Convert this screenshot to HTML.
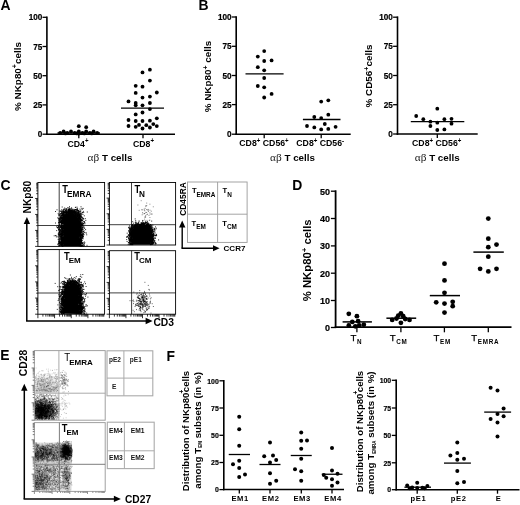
<!DOCTYPE html>
<html><head><meta charset="utf-8"><title>Figure</title>
<style>
html,body{margin:0;padding:0;background:#fff;}
body{width:520px;height:505px;overflow:hidden;}
svg{display:block;font-family:"Liberation Sans", Arial, sans-serif;filter:blur(0.35px);}
</style></head><body>
<svg width="520" height="505" viewBox="0 0 520 505">
<rect width="520" height="505" fill="#fff"/>

<text x="0.50" y="10.40" font-size="13.9" text-anchor="start" font-weight="bold" fill="#000" >A</text>
<text x="198.50" y="10.30" font-size="13.9" text-anchor="start" font-weight="bold" fill="#000" >B</text>
<text x="0.50" y="189.90" font-size="13.9" text-anchor="start" font-weight="bold" fill="#000" >C</text>
<text x="292.20" y="189.70" font-size="13.9" text-anchor="start" font-weight="bold" fill="#000" >D</text>
<text x="0.30" y="360.30" font-size="13.9" text-anchor="start" font-weight="bold" fill="#000" >E</text>
<text x="166.60" y="360.90" font-size="13.9" text-anchor="start" font-weight="bold" fill="#000" >F</text>
<line x1="46.90" y1="16.50" x2="46.90" y2="135.00" stroke="#000" stroke-width="1.6" stroke-linecap="butt"/>
<line x1="42.50" y1="17.30" x2="46.90" y2="17.30" stroke="#000" stroke-width="1.3" stroke-linecap="butt"/>
<text transform="translate(42.30,20.47) scale(0.93,1)" font-size="8.8" text-anchor="end" font-weight="bold" fill="#000" stroke="#000" stroke-width="0.2">100</text>
<line x1="42.50" y1="46.50" x2="46.90" y2="46.50" stroke="#000" stroke-width="1.3" stroke-linecap="butt"/>
<text transform="translate(42.30,49.67) scale(0.93,1)" font-size="8.8" text-anchor="end" font-weight="bold" fill="#000" stroke="#000" stroke-width="0.2">75</text>
<line x1="42.50" y1="75.70" x2="46.90" y2="75.70" stroke="#000" stroke-width="1.3" stroke-linecap="butt"/>
<text transform="translate(42.30,78.87) scale(0.93,1)" font-size="8.8" text-anchor="end" font-weight="bold" fill="#000" stroke="#000" stroke-width="0.2">50</text>
<line x1="42.50" y1="104.90" x2="46.90" y2="104.90" stroke="#000" stroke-width="1.3" stroke-linecap="butt"/>
<text transform="translate(42.30,108.07) scale(0.93,1)" font-size="8.8" text-anchor="end" font-weight="bold" fill="#000" stroke="#000" stroke-width="0.2">25</text>
<line x1="42.50" y1="134.20" x2="46.90" y2="134.20" stroke="#000" stroke-width="1.3" stroke-linecap="butt"/>
<text transform="translate(42.30,137.37) scale(0.93,1)" font-size="8.8" text-anchor="end" font-weight="bold" fill="#000" stroke="#000" stroke-width="0.2">0</text>
<line x1="46.20" y1="134.20" x2="175.00" y2="134.20" stroke="#000" stroke-width="1.6" stroke-linecap="butt"/>
<line x1="78.80" y1="134.20" x2="78.80" y2="138.20" stroke="#000" stroke-width="1.3" stroke-linecap="butt"/>
<line x1="143.00" y1="134.20" x2="143.00" y2="138.20" stroke="#000" stroke-width="1.3" stroke-linecap="butt"/>
<text transform="translate(78.00,146.60) scale(0.94,1)" font-size="9.3" text-anchor="middle" font-weight="bold" fill="#000" >CD4<tspan dy="-3.2" font-size="6.5">+</tspan></text>
<text transform="translate(143.50,146.60) scale(0.94,1)" font-size="9.3" text-anchor="middle" font-weight="bold" fill="#000" >CD8<tspan dy="-3.2" font-size="6.5">+</tspan></text>
<text x="110.00" y="161.30" font-size="9.8" text-anchor="middle" font-weight="bold"><tspan font-family='"Liberation Serif", "DejaVu Serif", serif' font-weight="normal" font-size="11.3" fill="#222">&#945;&#946;</tspan> T cells</text>
<text transform="translate(20.90,76.50) rotate(-90)" font-size="9.9" text-anchor="middle" font-weight="bold">% NKp80<tspan dy="-3.5" font-size="7">+</tspan><tspan dy="3.5">cells</tspan></text>
<circle cx="149.9" cy="69.7" r="1.9"/>
<circle cx="142.5" cy="72.4" r="1.9"/>
<circle cx="149.9" cy="80.6" r="1.9"/>
<circle cx="135.7" cy="85.8" r="1.9"/>
<circle cx="142.5" cy="86.7" r="1.9"/>
<circle cx="156.8" cy="92.5" r="1.9"/>
<circle cx="135.7" cy="92.9" r="1.9"/>
<circle cx="149.9" cy="96.6" r="1.9"/>
<circle cx="142.5" cy="97.6" r="1.9"/>
<circle cx="128.5" cy="101.4" r="1.9"/>
<circle cx="135.7" cy="103.0" r="1.9"/>
<circle cx="149.9" cy="103.0" r="1.9"/>
<circle cx="135.7" cy="105.3" r="1.9"/>
<circle cx="142.5" cy="105.3" r="1.9"/>
<circle cx="149.9" cy="109.1" r="1.9"/>
<circle cx="142.5" cy="112.5" r="1.9"/>
<circle cx="135.7" cy="114.4" r="1.9"/>
<circle cx="156.8" cy="118.3" r="1.9"/>
<circle cx="128.5" cy="120.0" r="1.9"/>
<circle cx="135.7" cy="121.0" r="1.9"/>
<circle cx="142.5" cy="121.0" r="1.9"/>
<circle cx="149.9" cy="120.7" r="1.9"/>
<circle cx="128.5" cy="126.0" r="1.9"/>
<circle cx="135.7" cy="126.8" r="1.9"/>
<circle cx="139.0" cy="124.9" r="1.9"/>
<circle cx="146.3" cy="125.2" r="1.9"/>
<circle cx="153.3" cy="124.1" r="1.9"/>
<circle cx="156.8" cy="126.1" r="1.9"/>
<circle cx="149.9" cy="127.5" r="1.9"/>
<circle cx="142.5" cy="128.5" r="1.9"/>
<line x1="121.00" y1="108.20" x2="164.00" y2="108.20" stroke="#000" stroke-width="1.3" stroke-linecap="butt"/>
<circle cx="78.8" cy="126.2" r="1.9"/>
<circle cx="86.2" cy="127.2" r="1.9"/>
<circle cx="63.6" cy="131.4" r="1.9"/>
<circle cx="71.0" cy="131.4" r="1.9"/>
<circle cx="78.8" cy="131.4" r="1.9"/>
<circle cx="86.2" cy="131.4" r="1.9"/>
<circle cx="93.6" cy="131.4" r="1.9"/>
<circle cx="60.2" cy="132.8" r="1.9"/>
<circle cx="67.3" cy="132.8" r="1.9"/>
<circle cx="74.7" cy="132.8" r="1.9"/>
<circle cx="82.4" cy="132.8" r="1.9"/>
<circle cx="89.8" cy="132.8" r="1.9"/>
<circle cx="97.2" cy="133.0" r="1.9"/>
<circle cx="65.5" cy="133.4" r="1.9"/>
<circle cx="76.8" cy="133.4" r="1.9"/>
<circle cx="84.3" cy="133.4" r="1.9"/>
<circle cx="91.7" cy="133.4" r="1.9"/>
<circle cx="78.8" cy="133.6" r="1.9"/>
<line x1="57.50" y1="133.00" x2="100.00" y2="133.00" stroke="#000" stroke-width="1.3" stroke-linecap="butt"/>
<line x1="236.20" y1="16.20" x2="236.20" y2="135.00" stroke="#000" stroke-width="1.6" stroke-linecap="butt"/>
<line x1="231.80" y1="17.00" x2="236.20" y2="17.00" stroke="#000" stroke-width="1.3" stroke-linecap="butt"/>
<text transform="translate(231.60,20.17) scale(0.93,1)" font-size="8.8" text-anchor="end" font-weight="bold" fill="#000" stroke="#000" stroke-width="0.2">100</text>
<line x1="231.80" y1="46.30" x2="236.20" y2="46.30" stroke="#000" stroke-width="1.3" stroke-linecap="butt"/>
<text transform="translate(231.60,49.47) scale(0.93,1)" font-size="8.8" text-anchor="end" font-weight="bold" fill="#000" stroke="#000" stroke-width="0.2">75</text>
<line x1="231.80" y1="75.50" x2="236.20" y2="75.50" stroke="#000" stroke-width="1.3" stroke-linecap="butt"/>
<text transform="translate(231.60,78.67) scale(0.93,1)" font-size="8.8" text-anchor="end" font-weight="bold" fill="#000" stroke="#000" stroke-width="0.2">50</text>
<line x1="231.80" y1="104.60" x2="236.20" y2="104.60" stroke="#000" stroke-width="1.3" stroke-linecap="butt"/>
<text transform="translate(231.60,107.77) scale(0.93,1)" font-size="8.8" text-anchor="end" font-weight="bold" fill="#000" stroke="#000" stroke-width="0.2">25</text>
<line x1="231.80" y1="134.20" x2="236.20" y2="134.20" stroke="#000" stroke-width="1.3" stroke-linecap="butt"/>
<text transform="translate(231.60,137.37) scale(0.93,1)" font-size="8.8" text-anchor="end" font-weight="bold" fill="#000" stroke="#000" stroke-width="0.2">0</text>
<line x1="235.40" y1="134.20" x2="350.70" y2="134.20" stroke="#000" stroke-width="1.6" stroke-linecap="butt"/>
<line x1="264.20" y1="134.20" x2="264.20" y2="138.20" stroke="#000" stroke-width="1.3" stroke-linecap="butt"/>
<line x1="321.20" y1="134.20" x2="321.20" y2="138.20" stroke="#000" stroke-width="1.3" stroke-linecap="butt"/>
<text transform="translate(264.00,145.90) scale(0.94,1)" font-size="9.3" text-anchor="middle" font-weight="bold" fill="#000" >CD8<tspan dy="-3.2" font-size="6.5">+</tspan><tspan dy="3.2"> CD56</tspan><tspan dy="-3.2" font-size="6.5">+</tspan></text>
<text transform="translate(320.20,145.90) scale(0.94,1)" font-size="9.3" text-anchor="middle" font-weight="bold" fill="#000" >CD8<tspan dy="-3.2" font-size="6.5">+</tspan><tspan dy="3.2"> CD56</tspan><tspan dy="-3.2" font-size="6.5">-</tspan></text>
<text x="292.50" y="161.20" font-size="9.8" text-anchor="middle" font-weight="bold"><tspan font-family='"Liberation Serif", "DejaVu Serif", serif' font-weight="normal" font-size="11.3" fill="#222">&#945;&#946;</tspan> T cells</text>
<text transform="translate(211.00,76.50) rotate(-90)" font-size="9.9" text-anchor="middle" font-weight="bold">% NKp80<tspan dy="-3.5" font-size="7">+</tspan><tspan dy="3.5"> cells</tspan></text>
<circle cx="264.2" cy="51.1" r="1.9"/>
<circle cx="257.8" cy="56.6" r="1.9"/>
<circle cx="264.2" cy="61.0" r="1.9"/>
<circle cx="271.6" cy="60.4" r="1.9"/>
<circle cx="257.8" cy="67.2" r="1.9"/>
<circle cx="264.2" cy="70.3" r="1.9"/>
<circle cx="264.2" cy="78.0" r="1.9"/>
<circle cx="257.8" cy="86.0" r="1.9"/>
<circle cx="264.2" cy="87.3" r="1.9"/>
<circle cx="271.6" cy="93.9" r="1.9"/>
<circle cx="264.2" cy="97.5" r="1.9"/>
<line x1="245.50" y1="73.90" x2="283.60" y2="73.90" stroke="#000" stroke-width="1.3" stroke-linecap="butt"/>
<circle cx="321.2" cy="101.6" r="1.9"/>
<circle cx="328.3" cy="100.3" r="1.9"/>
<circle cx="328.3" cy="114.7" r="1.9"/>
<circle cx="314.3" cy="117.0" r="1.9"/>
<circle cx="321.2" cy="118.1" r="1.9"/>
<circle cx="324.8" cy="124.0" r="1.9"/>
<circle cx="307.0" cy="126.0" r="1.9"/>
<circle cx="314.3" cy="127.4" r="1.9"/>
<circle cx="321.2" cy="129.4" r="1.9"/>
<circle cx="328.3" cy="128.9" r="1.9"/>
<circle cx="335.6" cy="126.8" r="1.9"/>
<line x1="302.90" y1="119.50" x2="340.50" y2="119.50" stroke="#000" stroke-width="1.3" stroke-linecap="butt"/>
<line x1="397.50" y1="16.40" x2="397.50" y2="134.80" stroke="#000" stroke-width="1.6" stroke-linecap="butt"/>
<line x1="393.10" y1="17.20" x2="397.50" y2="17.20" stroke="#000" stroke-width="1.3" stroke-linecap="butt"/>
<text transform="translate(392.90,20.37) scale(0.93,1)" font-size="8.8" text-anchor="end" font-weight="bold" fill="#000" stroke="#000" stroke-width="0.2">100</text>
<line x1="393.10" y1="46.30" x2="397.50" y2="46.30" stroke="#000" stroke-width="1.3" stroke-linecap="butt"/>
<text transform="translate(392.90,49.47) scale(0.93,1)" font-size="8.8" text-anchor="end" font-weight="bold" fill="#000" stroke="#000" stroke-width="0.2">75</text>
<line x1="393.10" y1="75.50" x2="397.50" y2="75.50" stroke="#000" stroke-width="1.3" stroke-linecap="butt"/>
<text transform="translate(392.90,78.67) scale(0.93,1)" font-size="8.8" text-anchor="end" font-weight="bold" fill="#000" stroke="#000" stroke-width="0.2">50</text>
<line x1="393.10" y1="104.70" x2="397.50" y2="104.70" stroke="#000" stroke-width="1.3" stroke-linecap="butt"/>
<text transform="translate(392.90,107.87) scale(0.93,1)" font-size="8.8" text-anchor="end" font-weight="bold" fill="#000" stroke="#000" stroke-width="0.2">25</text>
<line x1="393.10" y1="134.00" x2="397.50" y2="134.00" stroke="#000" stroke-width="1.3" stroke-linecap="butt"/>
<text transform="translate(392.90,137.17) scale(0.93,1)" font-size="8.8" text-anchor="end" font-weight="bold" fill="#000" stroke="#000" stroke-width="0.2">0</text>
<line x1="396.70" y1="134.00" x2="477.70" y2="134.00" stroke="#000" stroke-width="1.6" stroke-linecap="butt"/>
<line x1="437.30" y1="134.00" x2="437.30" y2="138.00" stroke="#000" stroke-width="1.3" stroke-linecap="butt"/>
<text transform="translate(436.70,145.90) scale(0.94,1)" font-size="9.3" text-anchor="middle" font-weight="bold" fill="#000" >CD8<tspan dy="-3.2" font-size="6.5">+</tspan><tspan dy="3.2"> CD56</tspan><tspan dy="-3.2" font-size="6.5">+</tspan></text>
<text x="437.20" y="161.20" font-size="9.8" text-anchor="middle" font-weight="bold"><tspan font-family='"Liberation Serif", "DejaVu Serif", serif' font-weight="normal" font-size="11.3" fill="#222">&#945;&#946;</tspan> T cells</text>
<text transform="translate(372.00,76.00) rotate(-90)" font-size="9.9" text-anchor="middle" font-weight="bold">% CD56<tspan dy="-3.5" font-size="7">+</tspan><tspan dy="3.5">cells</tspan></text>
<circle cx="437.3" cy="108.7" r="1.9"/>
<circle cx="416.2" cy="116.0" r="1.9"/>
<circle cx="423.3" cy="119.2" r="1.9"/>
<circle cx="444.4" cy="119.2" r="1.9"/>
<circle cx="451.5" cy="118.8" r="1.9"/>
<circle cx="430.4" cy="121.7" r="1.9"/>
<circle cx="437.3" cy="122.7" r="1.9"/>
<circle cx="451.5" cy="123.7" r="1.9"/>
<circle cx="430.4" cy="126.0" r="1.9"/>
<circle cx="437.3" cy="130.0" r="1.9"/>
<circle cx="444.4" cy="129.4" r="1.9"/>
<line x1="410.80" y1="121.60" x2="464.30" y2="121.60" stroke="#000" stroke-width="1.3" stroke-linecap="butt"/>
<line x1="335.60" y1="190.30" x2="335.60" y2="328.10" stroke="#000" stroke-width="1.8" stroke-linecap="butt"/>
<line x1="330.90" y1="191.20" x2="335.60" y2="191.20" stroke="#000" stroke-width="1.3" stroke-linecap="butt"/>
<text transform="translate(330.00,194.62) scale(0.95,1)" font-size="9.5" text-anchor="end" font-weight="bold" fill="#000" stroke="#000" stroke-width="0.2">50</text>
<line x1="330.90" y1="218.50" x2="335.60" y2="218.50" stroke="#000" stroke-width="1.3" stroke-linecap="butt"/>
<text transform="translate(330.00,221.92) scale(0.95,1)" font-size="9.5" text-anchor="end" font-weight="bold" fill="#000" stroke="#000" stroke-width="0.2">40</text>
<line x1="330.90" y1="245.90" x2="335.60" y2="245.90" stroke="#000" stroke-width="1.3" stroke-linecap="butt"/>
<text transform="translate(330.00,249.32) scale(0.95,1)" font-size="9.5" text-anchor="end" font-weight="bold" fill="#000" stroke="#000" stroke-width="0.2">30</text>
<line x1="330.90" y1="273.20" x2="335.60" y2="273.20" stroke="#000" stroke-width="1.3" stroke-linecap="butt"/>
<text transform="translate(330.00,276.62) scale(0.95,1)" font-size="9.5" text-anchor="end" font-weight="bold" fill="#000" stroke="#000" stroke-width="0.2">20</text>
<line x1="330.90" y1="300.50" x2="335.60" y2="300.50" stroke="#000" stroke-width="1.3" stroke-linecap="butt"/>
<text transform="translate(330.00,303.92) scale(0.95,1)" font-size="9.5" text-anchor="end" font-weight="bold" fill="#000" stroke="#000" stroke-width="0.2">10</text>
<line x1="330.90" y1="327.50" x2="335.60" y2="327.50" stroke="#000" stroke-width="1.3" stroke-linecap="butt"/>
<text transform="translate(330.00,330.92) scale(0.95,1)" font-size="9.5" text-anchor="end" font-weight="bold" fill="#000" stroke="#000" stroke-width="0.2">0</text>
<line x1="334.70" y1="327.20" x2="511.50" y2="327.20" stroke="#000" stroke-width="1.8" stroke-linecap="butt"/>
<line x1="356.90" y1="327.20" x2="356.90" y2="332.30" stroke="#000" stroke-width="1.3" stroke-linecap="butt"/>
<line x1="400.90" y1="327.20" x2="400.90" y2="332.30" stroke="#000" stroke-width="1.3" stroke-linecap="butt"/>
<line x1="444.40" y1="327.20" x2="444.40" y2="332.30" stroke="#000" stroke-width="1.3" stroke-linecap="butt"/>
<line x1="488.30" y1="327.20" x2="488.30" y2="332.30" stroke="#000" stroke-width="1.3" stroke-linecap="butt"/>
<text transform="translate(311.00,260.30) rotate(-90)" font-size="11.3" text-anchor="middle" font-weight="bold">% NKp80<tspan dy="-4" font-size="8">+</tspan><tspan dy="4"> cells</tspan></text>
<text x="350.60" y="341.30" font-size="9.7" text-anchor="start" font-weight="normal" stroke="#000" stroke-width="0.25">T<tspan dy="2.3" dx="0.6" font-size="6.3" font-weight="bold" stroke="none" letter-spacing="0.75">N</tspan></text>
<text x="389.80" y="341.30" font-size="9.7" text-anchor="start" font-weight="normal" stroke="#000" stroke-width="0.25">T<tspan dy="2.3" dx="0.6" font-size="6.3" font-weight="bold" stroke="none" letter-spacing="0.75">CM</tspan></text>
<text x="433.60" y="341.30" font-size="9.7" text-anchor="start" font-weight="normal" stroke="#000" stroke-width="0.25">T<tspan dy="2.3" dx="0.6" font-size="6.3" font-weight="bold" stroke="none" letter-spacing="0.75">EM</tspan></text>
<text x="471.30" y="341.30" font-size="9.7" text-anchor="start" font-weight="normal" stroke="#000" stroke-width="0.25">T<tspan dy="2.3" dx="0.6" font-size="6.3" font-weight="bold" stroke="none" letter-spacing="0.75">EMRA</tspan></text>
<circle cx="348.8" cy="313.8" r="2.4"/>
<circle cx="356.9" cy="316.2" r="2.4"/>
<circle cx="358.1" cy="321.2" r="2.4"/>
<circle cx="352.3" cy="321.9" r="2.4"/>
<circle cx="348.8" cy="325.4" r="2.4"/>
<circle cx="359.2" cy="325.4" r="2.4"/>
<circle cx="363.8" cy="324.7" r="2.4"/>
<circle cx="355.3" cy="326.3" r="2.4"/>
<line x1="342.60" y1="321.90" x2="371.90" y2="321.90" stroke="#000" stroke-width="1.5" stroke-linecap="butt"/>
<circle cx="400.9" cy="313.3" r="2.4"/>
<circle cx="398.3" cy="315.6" r="2.4"/>
<circle cx="403.2" cy="316.2" r="2.4"/>
<circle cx="392.2" cy="319.9" r="2.4"/>
<circle cx="396.5" cy="318.5" r="2.4"/>
<circle cx="405.2" cy="319.0" r="2.4"/>
<circle cx="409.5" cy="319.9" r="2.4"/>
<circle cx="400.9" cy="322.8" r="2.4"/>
<line x1="386.40" y1="318.20" x2="416.20" y2="318.20" stroke="#000" stroke-width="1.5" stroke-linecap="butt"/>
<circle cx="444.5" cy="263.7" r="2.4"/>
<circle cx="444.5" cy="280.4" r="2.4"/>
<circle cx="444.5" cy="292.8" r="2.4"/>
<circle cx="436.2" cy="302.3" r="2.4"/>
<circle cx="444.5" cy="303.6" r="2.4"/>
<circle cx="452.7" cy="301.8" r="2.4"/>
<circle cx="452.7" cy="306.2" r="2.4"/>
<circle cx="444.5" cy="312.6" r="2.4"/>
<line x1="429.80" y1="295.60" x2="460.00" y2="295.60" stroke="#000" stroke-width="1.5" stroke-linecap="butt"/>
<circle cx="488.3" cy="218.6" r="2.4"/>
<circle cx="488.3" cy="238.7" r="2.4"/>
<circle cx="496.5" cy="244.6" r="2.4"/>
<circle cx="488.3" cy="247.2" r="2.4"/>
<circle cx="488.3" cy="256.7" r="2.4"/>
<circle cx="480.1" cy="268.8" r="2.4"/>
<circle cx="496.5" cy="268.8" r="2.4"/>
<circle cx="488.3" cy="271.4" r="2.4"/>
<line x1="473.40" y1="252.10" x2="503.80" y2="252.10" stroke="#000" stroke-width="1.5" stroke-linecap="butt"/>
<line x1="223.80" y1="380.00" x2="223.80" y2="490.30" stroke="#000" stroke-width="1.6" stroke-linecap="butt"/>
<line x1="219.40" y1="380.80" x2="223.80" y2="380.80" stroke="#000" stroke-width="1.3" stroke-linecap="butt"/>
<text transform="translate(218.80,383.57) scale(0.9,1)" font-size="7.7" text-anchor="end" font-weight="bold" fill="#000" stroke="#000" stroke-width="0.2">100</text>
<line x1="219.40" y1="408.00" x2="223.80" y2="408.00" stroke="#000" stroke-width="1.3" stroke-linecap="butt"/>
<text transform="translate(218.80,410.77) scale(0.9,1)" font-size="7.7" text-anchor="end" font-weight="bold" fill="#000" stroke="#000" stroke-width="0.2">75</text>
<line x1="219.40" y1="435.30" x2="223.80" y2="435.30" stroke="#000" stroke-width="1.3" stroke-linecap="butt"/>
<text transform="translate(218.80,438.07) scale(0.9,1)" font-size="7.7" text-anchor="end" font-weight="bold" fill="#000" stroke="#000" stroke-width="0.2">50</text>
<line x1="219.40" y1="462.50" x2="223.80" y2="462.50" stroke="#000" stroke-width="1.3" stroke-linecap="butt"/>
<text transform="translate(218.80,465.27) scale(0.9,1)" font-size="7.7" text-anchor="end" font-weight="bold" fill="#000" stroke="#000" stroke-width="0.2">25</text>
<line x1="219.40" y1="489.60" x2="223.80" y2="489.60" stroke="#000" stroke-width="1.3" stroke-linecap="butt"/>
<text transform="translate(218.80,492.37) scale(0.9,1)" font-size="7.7" text-anchor="end" font-weight="bold" fill="#000" stroke="#000" stroke-width="0.2">0</text>
<line x1="223.00" y1="489.50" x2="344.00" y2="489.50" stroke="#000" stroke-width="1.6" stroke-linecap="butt"/>
<line x1="239.30" y1="489.50" x2="239.30" y2="493.50" stroke="#000" stroke-width="1.3" stroke-linecap="butt"/>
<line x1="270.00" y1="489.50" x2="270.00" y2="493.50" stroke="#000" stroke-width="1.3" stroke-linecap="butt"/>
<line x1="301.30" y1="489.50" x2="301.30" y2="493.50" stroke="#000" stroke-width="1.3" stroke-linecap="butt"/>
<line x1="332.00" y1="489.50" x2="332.00" y2="493.50" stroke="#000" stroke-width="1.3" stroke-linecap="butt"/>
<text x="240.20" y="500.80" font-size="7.6" text-anchor="middle" font-weight="bold" fill="#000" letter-spacing="0.65">EM1</text>
<text x="270.90" y="500.80" font-size="7.6" text-anchor="middle" font-weight="bold" fill="#000" letter-spacing="0.65">EM2</text>
<text x="302.20" y="500.80" font-size="7.6" text-anchor="middle" font-weight="bold" fill="#000" letter-spacing="0.65">EM3</text>
<text x="333.10" y="500.80" font-size="7.6" text-anchor="middle" font-weight="bold" fill="#000" letter-spacing="0.65">EM4</text>
<text transform="translate(189.20,431.00) rotate(-90)" font-size="9.6" text-anchor="middle" font-weight="bold">Distribution of NKp80<tspan dy="-5.2" dx="-0.8" font-size="6.5">+</tspan><tspan dy="5.2" dx="-2.6">cells</tspan></text>
<text transform="translate(200.50,430.30) rotate(-90)" font-size="9.8" text-anchor="middle" font-weight="bold">among T<tspan dy="1.2" font-size="4.5">EM</tspan><tspan dy="-1.2"> subsets (in %)</tspan></text>
<circle cx="239.2" cy="416.8" r="2.0"/>
<circle cx="239.2" cy="429.2" r="2.0"/>
<circle cx="239.2" cy="445.8" r="2.0"/>
<circle cx="233.0" cy="464.2" r="2.0"/>
<circle cx="239.2" cy="460.8" r="2.0"/>
<circle cx="239.2" cy="468.0" r="2.0"/>
<circle cx="245.0" cy="474.5" r="2.0"/>
<circle cx="239.2" cy="477.0" r="2.0"/>
<line x1="228.75" y1="454.50" x2="250.00" y2="454.50" stroke="#000" stroke-width="1.3" stroke-linecap="butt"/>
<circle cx="270.0" cy="442.5" r="2.0"/>
<circle cx="264.2" cy="456.2" r="2.0"/>
<circle cx="273.0" cy="455.5" r="2.0"/>
<circle cx="276.2" cy="460.0" r="2.0"/>
<circle cx="270.0" cy="462.5" r="2.0"/>
<circle cx="270.0" cy="473.2" r="2.0"/>
<circle cx="276.2" cy="480.8" r="2.0"/>
<circle cx="270.0" cy="483.8" r="2.0"/>
<line x1="259.50" y1="464.50" x2="280.50" y2="464.50" stroke="#000" stroke-width="1.3" stroke-linecap="butt"/>
<circle cx="301.2" cy="432.5" r="2.0"/>
<circle cx="301.2" cy="440.8" r="2.0"/>
<circle cx="307.0" cy="440.5" r="2.0"/>
<circle cx="301.2" cy="448.8" r="2.0"/>
<circle cx="301.2" cy="458.8" r="2.0"/>
<circle cx="295.0" cy="469.2" r="2.0"/>
<circle cx="301.2" cy="471.2" r="2.0"/>
<circle cx="301.2" cy="480.8" r="2.0"/>
<line x1="290.75" y1="455.50" x2="311.75" y2="455.50" stroke="#000" stroke-width="1.3" stroke-linecap="butt"/>
<circle cx="332.0" cy="448.0" r="2.0"/>
<circle cx="332.0" cy="470.5" r="2.0"/>
<circle cx="337.5" cy="473.8" r="2.0"/>
<circle cx="323.8" cy="475.0" r="2.0"/>
<circle cx="326.2" cy="477.8" r="2.0"/>
<circle cx="332.0" cy="479.2" r="2.0"/>
<circle cx="337.5" cy="482.5" r="2.0"/>
<circle cx="332.0" cy="485.8" r="2.0"/>
<line x1="321.75" y1="474.25" x2="342.50" y2="474.25" stroke="#000" stroke-width="1.3" stroke-linecap="butt"/>
<line x1="396.20" y1="379.50" x2="396.20" y2="490.50" stroke="#000" stroke-width="1.6" stroke-linecap="butt"/>
<line x1="391.80" y1="380.30" x2="396.20" y2="380.30" stroke="#000" stroke-width="1.3" stroke-linecap="butt"/>
<text transform="translate(391.20,383.07) scale(0.9,1)" font-size="7.7" text-anchor="end" font-weight="bold" fill="#000" stroke="#000" stroke-width="0.2">100</text>
<line x1="391.80" y1="408.00" x2="396.20" y2="408.00" stroke="#000" stroke-width="1.3" stroke-linecap="butt"/>
<text transform="translate(391.20,410.77) scale(0.9,1)" font-size="7.7" text-anchor="end" font-weight="bold" fill="#000" stroke="#000" stroke-width="0.2">75</text>
<line x1="391.80" y1="435.40" x2="396.20" y2="435.40" stroke="#000" stroke-width="1.3" stroke-linecap="butt"/>
<text transform="translate(391.20,438.17) scale(0.9,1)" font-size="7.7" text-anchor="end" font-weight="bold" fill="#000" stroke="#000" stroke-width="0.2">50</text>
<line x1="391.80" y1="462.80" x2="396.20" y2="462.80" stroke="#000" stroke-width="1.3" stroke-linecap="butt"/>
<text transform="translate(391.20,465.57) scale(0.9,1)" font-size="7.7" text-anchor="end" font-weight="bold" fill="#000" stroke="#000" stroke-width="0.2">25</text>
<line x1="391.80" y1="489.70" x2="396.20" y2="489.70" stroke="#000" stroke-width="1.3" stroke-linecap="butt"/>
<text transform="translate(391.20,492.47) scale(0.9,1)" font-size="7.7" text-anchor="end" font-weight="bold" fill="#000" stroke="#000" stroke-width="0.2">0</text>
<line x1="395.40" y1="489.70" x2="519.50" y2="489.70" stroke="#000" stroke-width="1.6" stroke-linecap="butt"/>
<line x1="417.20" y1="489.70" x2="417.20" y2="493.70" stroke="#000" stroke-width="1.3" stroke-linecap="butt"/>
<line x1="457.30" y1="489.70" x2="457.30" y2="493.70" stroke="#000" stroke-width="1.3" stroke-linecap="butt"/>
<line x1="497.50" y1="489.70" x2="497.50" y2="493.70" stroke="#000" stroke-width="1.3" stroke-linecap="butt"/>
<text x="418.50" y="500.80" font-size="7.6" text-anchor="middle" font-weight="bold" fill="#000" letter-spacing="0.65">pE1</text>
<text x="458.70" y="500.80" font-size="7.6" text-anchor="middle" font-weight="bold" fill="#000" letter-spacing="0.65">pE2</text>
<text x="498.50" y="500.80" font-size="7.6" text-anchor="middle" font-weight="bold" fill="#000" letter-spacing="0.65">E</text>
<text transform="translate(363.10,431.50) rotate(-90)" font-size="9.6" text-anchor="middle" font-weight="bold">Distribution of NKp80<tspan dy="-5.2" dx="-0.8" font-size="6.5">+</tspan><tspan dy="5.2" dx="-1.6">cells</tspan></text>
<text transform="translate(374.40,433.00) rotate(-90)" font-size="9.8" text-anchor="middle" font-weight="bold">among T<tspan dy="1.2" font-size="4.5">EMRA</tspan><tspan dy="-1.2"> subsets (in %)</tspan></text>
<circle cx="417.2" cy="482.8" r="2.0"/>
<circle cx="407.2" cy="485.6" r="2.0"/>
<circle cx="427.4" cy="486.1" r="2.0"/>
<circle cx="412.2" cy="487.6" r="2.0"/>
<circle cx="417.2" cy="488.0" r="2.0"/>
<circle cx="422.4" cy="487.8" r="2.0"/>
<circle cx="409.8" cy="488.2" r="2.0"/>
<circle cx="424.6" cy="488.3" r="2.0"/>
<line x1="404.40" y1="487.20" x2="431.00" y2="487.20" stroke="#000" stroke-width="1.3" stroke-linecap="butt"/>
<circle cx="457.3" cy="442.6" r="2.0"/>
<circle cx="457.3" cy="453.1" r="2.0"/>
<circle cx="450.4" cy="455.6" r="2.0"/>
<circle cx="457.3" cy="459.8" r="2.0"/>
<circle cx="464.0" cy="458.7" r="2.0"/>
<circle cx="457.3" cy="470.9" r="2.0"/>
<circle cx="457.3" cy="483.3" r="2.0"/>
<circle cx="464.0" cy="482.0" r="2.0"/>
<line x1="444.00" y1="463.10" x2="470.90" y2="463.10" stroke="#000" stroke-width="1.3" stroke-linecap="butt"/>
<circle cx="490.6" cy="387.7" r="2.0"/>
<circle cx="497.5" cy="390.5" r="2.0"/>
<circle cx="503.6" cy="408.5" r="2.0"/>
<circle cx="497.5" cy="414.1" r="2.0"/>
<circle cx="490.6" cy="419.0" r="2.0"/>
<circle cx="503.6" cy="416.3" r="2.0"/>
<circle cx="497.5" cy="422.4" r="2.0"/>
<circle cx="497.5" cy="436.5" r="2.0"/>
<line x1="484.20" y1="412.10" x2="511.10" y2="412.10" stroke="#000" stroke-width="1.3" stroke-linecap="butt"/>
<rect x="37.9" y="182.5" width="66.70" height="63.90" fill="none" stroke="#000" stroke-width="0.9"/>
<line x1="59.20" y1="182.50" x2="59.20" y2="246.40" stroke="#000" stroke-width="0.75" stroke-linecap="butt"/>
<line x1="37.90" y1="225.50" x2="104.60" y2="225.50" stroke="#000" stroke-width="0.75" stroke-linecap="butt"/>
<path d="M35.10 246.40H37.90M36.22 241.59H37.90M36.22 238.78H37.90M36.22 236.78H37.90M36.22 235.23H37.90M36.22 233.97H37.90M36.22 232.90H37.90M36.22 231.97H37.90M36.22 231.16H37.90M35.10 230.43H37.90M36.22 225.62H37.90M36.22 222.80H37.90M36.22 220.81H37.90M36.22 219.26H37.90M36.22 217.99H37.90M36.22 216.92H37.90M36.22 216.00H37.90M36.22 215.18H37.90M35.10 214.45H37.90M36.22 209.64H37.90M36.22 206.83H37.90M36.22 204.83H37.90M36.22 203.28H37.90M36.22 202.02H37.90M36.22 200.95H37.90M36.22 200.02H37.90M36.22 199.21H37.90M35.10 198.47H37.90M36.22 193.67H37.90M36.22 190.85H37.90M36.22 188.86H37.90M36.22 187.31H37.90M36.22 186.04H37.90M36.22 184.97H37.90M36.22 184.05H37.90M36.22 183.23H37.90" stroke="#000" stroke-width="0.8" fill="none"/>
<path d="M79 246 79 239 79.1 236.6 79.1 234.1 79.2 232.2 78.9 230.2 79 228.9 78.8 227.9 79.3 226.3 79.1 225.3 78.6 224.6 78.5 223.8 78.7 222.3 78.3 221.8 78.4 220.7 78 220.2 78 219.6 77.6 219.1 77.1 218.3 77 217.7 76.9 217.5 76.4 216.8 76.1 216.5 76 216.6 75.7 216.4 75.2 215.6 74.9 216 74.5 215.9 74 215.2 73.3 215.6 71.2 215.1 69.4 215.4 68.7 215.7 67.7 215.7 67.2 215.9 67.2 215.9 66.4 216.2 66.1 216.3 65.6 217 65.7 216.9 65 217.4 64.8 218.3 64.8 218.7 64.7 218.9 64.3 219.4 64.5 220.4 63.8 221.3 63.9 221.7 63.7 222.5 63.4 223.4 63.7 224.8 63.7 225.6 63.6 226.4 62.9 228.1 63.4 229.2 62.9 230.6 63.2 232.5 63.2 234.3 63.3 236.1 62.7 239.4 63.2 246.1z" fill="#000"/>
<path d="M78.9 234.6h0M72.4 213.9h0M71.1 216.4h0M63 232.3h0M66.9 215.2h0M61.1 245.5h0M72.8 216.2h0M79.9 223.3h0M77 214.1h0M66.6 213.1h0M66.4 216.2h0M80.5 225.5h0M64.6 218.2h0M73.6 217h0M63.3 228.8h0M66 215.8h0M68.1 214.1h0M59.9 240.5h0M79.5 223h0M68.4 211h0M78.4 218.6h0M78 220.7h0M77.5 219.1h0M61.8 216h0M83.3 223.7h0M79.6 230.2h0M70.6 214.7h0M68.1 208.9h0M80.7 217.5h0M71.9 215.3h0M80.8 232.3h0M86.5 233h0M63.3 234.2h0M70.3 211.4h0M82 223.5h0M79.1 227.7h0M80.2 220.1h0M82.6 225h0M61.7 230.9h0M61.4 224.1h0M81 232.5h0M78.8 216.6h0M83.2 208.4h0M76.9 218.2h0M81.9 225.7h0M74.3 214.2h0M62.1 226.8h0M80.6 244.1h0M63.3 235.3h0M66.8 217.7h0M82.6 235.2h0M63.3 223.1h0M79.9 213.5h0M79.7 245.7h0M74.4 211.1h0M82.3 228.1h0M80.2 245h0M64.4 221.6h0M69.2 208.5h0M62.1 238.1h0M81.1 221h0M58.7 243.8h0M82.6 220.5h0M73.9 215.9h0M63.7 214.7h0M62.7 217.7h0M68.3 216.1h0M64.5 219.6h0M65.1 215.1h0M73.3 213.4h0M79.2 222h0M65.1 214h0M62.2 240.4h0M59.2 232.2h0M64 216.8h0M80.8 231h0M79.2 231.6h0M80.3 222.7h0M84 244.5h0M78.7 220.1h0M61.9 228.8h0M76.9 209.3h0M80.7 224.8h0M60.5 231.8h0M72 213.9h0M59.4 219.2h0M65.6 218.3h0M79.5 224.9h0M79.5 229.1h0M81.3 215.7h0M79.3 239.3h0M61.9 222.2h0M79.3 216.4h0M62.6 229.7h0M61.9 222.8h0M63.2 214.8h0M63.3 219.1h0M63.4 228.1h0M78.5 213h0M63.2 217.8h0M72.6 216.6h0M62.1 236.1h0M61.5 244.9h0M65.8 217.8h0M73.5 215.2h0M63.4 215.2h0M70.7 216h0M74.8 216.3h0M66.7 216.1h0M82.4 225.1h0M61.4 219.9h0M68 216.7h0M62.4 241.7h0M65.7 218.6h0M58 243.9h0M61.8 220h0M60.7 216.5h0M63.1 214.8h0M79 234.3h0M74.7 212.7h0M70.9 216.2h0M85.2 232.8h0M66.9 214.2h0M70 212.5h0M61.5 240.1h0M61.6 231.4h0M63.3 217.7h0M80.7 232.2h0M63.9 221.2h0M68.9 216.8h0M62.3 223.6h0M59.3 242.5h0M80.9 243.2h0M63.4 221.7h0M79.3 245.4h0M64.3 223h0M62.2 241.3h0M64.6 214.2h0M79.1 229.6h0M61.5 226.7h0M70.3 212.8h0M82.9 235h0M63.8 222.1h0M77.1 215.2h0M62.5 217.4h0M79.3 242.7h0M62.7 229.1h0M55.5 235.6h0M62.5 224h0M69.3 210.1h0M83.5 229.1h0M68 212.8h0M58.9 229.6h0M60.2 224.2h0M82.3 229.6h0M57.7 227.6h0M65.2 210.3h0M80.1 243.4h0M64.3 219.3h0M67.6 214.3h0M61.7 244.6h0M62.1 227.9h0M81 235.8h0M81.1 240.8h0M79.7 221h0M78.1 223.9h0M85.6 229.6h0M58.6 229.6h0M75.7 216.6h0M79.3 242.7h0M60.9 238.1h0M65.1 219.3h0M72.9 210h0M68 215.2h0M81.5 241.8h0M62.7 218h0M80.4 218.5h0M74.2 215.8h0M59.1 221.2h0M73.8 214.4h0M81.5 230.4h0M73.8 213h0M64.7 215.1h0M79.1 245.1h0M70.1 216.1h0M68.8 217h0M68.7 211.8h0M78.1 223.7h0M60.5 227h0M80.5 239.1h0M61.8 225.2h0M63.1 214.1h0M79.4 221.6h0M82.2 229.3h0M61.9 244.4h0M67.4 214.8h0M80.2 223.3h0M73 214.6h0M79.7 243h0M59.9 211.1h0M63 222.1h0M58.6 218.4h0M63.2 214.7h0M61.1 226.3h0M81.9 227.5h0M62.6 243.2h0M62.6 235.4h0M61.8 232.2h0M80.7 226.7h0M82.1 229.9h0M81.3 237.3h0M61.1 232.3h0M80.8 240.8h0M61.5 242.2h0M69.3 213.5h0M64.4 219.7h0M63.1 241.5h0M76.8 216.1h0M67.7 212.9h0M80.5 243.6h0M62 235.7h0M62.9 229.2h0M81.6 225.5h0M60.2 219h0M66.7 213.5h0M79.5 226.1h0M68.4 209.9h0M61.2 234h0M78.9 224.6h0M80.3 233.1h0M79.6 222.3h0M82.2 232.7h0M62.9 239.2h0M71.5 214.1h0M81 241.1h0M62.4 244.2h0M73.7 212.1h0M62.1 240.7h0M80.1 243.3h0M58.9 245.8h0M60.4 242.6h0M66.6 211.2h0M63.6 221.2h0M80.2 231.8h0M61.3 243.2h0M80.1 229.5h0M59 245.8h0M80.7 229.3h0M78 220.3h0M80 218.5h0M68.9 216h0M60.2 245h0M62.3 228.3h0M80.7 232.5h0M80 222.7h0M62.1 235.7h0M63.7 222.3h0M63.7 212.8h0M80.1 234.6h0M62.3 232.3h0M80.1 234.4h0M80.5 215.1h0M77.1 219h0M68.2 216.8h0M61.9 223.2h0M60.8 234.1h0M83 233.1h0M62.9 242.1h0M63.7 226.7h0M78.1 216.9h0M80.5 236.3h0M63 210.8h0M63.4 226.4h0M74.3 212.9h0M79.1 227.3h0M62.7 213.8h0M80.7 242.3h0M77.2 216.7h0M61.5 227h0M80.7 230.5h0M70.5 212.1h0M78.1 217.5h0M60.7 221.6h0M61.5 245h0M62.7 219.3h0M79.5 235.9h0M68.8 212.3h0M62.6 239h0M67.6 214.8h0M66.6 216.3h0M77.8 216.8h0M73.8 209.3h0M74.9 216.3h0M80.3 211h0M61 218.7h0M67.6 215.5h0M70.4 214.3h0M62.2 220.3h0M62.3 233.4h0M59.2 214.9h0M61.7 216.2h0M63.2 234.7h0M59.2 232.8h0M82.6 223.1h0M68.6 209.7h0M80.1 240.6h0M78.1 213.1h0M64.9 218.3h0M66.5 212.3h0M61.5 223.8h0M78.5 212.5h0M75.1 214.1h0M74.9 212.6h0M56.2 235.8h0M61 230.1h0M69.9 209h0M80.7 231.6h0M79.1 244.7h0M63.3 245.6h0M64.7 211.8h0M80.7 245.7h0M71.8 212h0M78.3 224.7h0M77.4 212.8h0M61.5 235.7h0M63.3 242.3h0M79.6 238.5h0M67.9 212.6h0M77.3 209.9h0M62.7 232.4h0M70.1 214.2h0M71.5 216.9h0M72.3 214.7h0M72.4 216.7h0M62.2 244.6h0M61.1 237h0M60.7 219.8h0M66 218.5h0M78 219.5h0M58.2 234h0M79.2 245h0M69.6 210.7h0M80.6 233.7h0M61.1 233.3h0M60.6 235h0M64.4 212.2h0M80.4 230.9h0M78.4 222.7h0M75.5 209.5h0M62.3 244.4h0M78.9 241.9h0M61.4 244h0M66.2 216.5h0M54.2 235.8h0M69.6 213.2h0M77.4 218.4h0M63.7 220.8h0M63.5 220h0M63.7 224.9h0M63.3 226.6h0M77.4 214.6h0M80.3 227.7h0M62.8 243.7h0M74 210.1h0M60.4 229.9h0M68.5 210h0M80 228.5h0M79 243.5h0M67.1 212.4h0M64.2 216h0M69.4 210.7h0M64.8 217.3h0M66.7 212.5h0M63.2 215.7h0M68 211.2h0M80.8 211.9h0M79.6 236.4h0M80 219.4h0M76.2 209.5h0M78.4 223.6h0M62.2 226h0M72.6 215.7h0M61.5 214.8h0M62.3 241.5h0M62 245h0M58.9 234.3h0M77.1 219.6h0M61.6 237h0M68.3 216.7h0M73.3 211h0M69.5 216.1h0M80 241.4h0M78 216.5h0M75 211.5h0M62.1 242.9h0M82.3 230.1h0M78.5 217.8h0M71.4 211.5h0M63.7 216.9h0M79.7 228.3h0M81.5 241.1h0M83.3 211.4h0M78.5 226.5h0M81.3 223.8h0M71.3 211.8h0M61.7 241.3h0M79.2 221.3h0M70.4 210.8h0M70.3 216.5h0M61.4 221.7h0M75.1 217h0M60.3 233h0M63.4 211.7h0M78.7 229.1h0M63.2 226h0M70.4 211.4h0M61.9 230.5h0M80.4 243.9h0M79.7 231.3h0M61.8 215.1h0M66.7 213h0M76.8 217.3h0M63 227.9h0M63.4 211.4h0M63.5 217.5h0M71.6 216h0M64.7 215.7h0M59.1 229.8h0M76.3 218h0M79.2 239.2h0M79.6 230.5h0M68.8 213h0M81.7 225h0M63.5 230.7h0M84.7 222.3h0M71.6 211h0M78.2 213.3h0M80.9 221.2h0M63.8 219.4h0M68.3 210.8h0M64.3 215.5h0M60.1 242.9h0M83.5 218.6h0M79.4 229.5h0M79.4 239.7h0M67.8 216.9h0M72.2 209.6h0M73.8 212.1h0M68.1 211.6h0M68.4 213.6h0M64.7 208h0M63.6 213.4h0M80.7 225.5h0M63.6 225h0M61.1 226.2h0M63.4 227.8h0M80 222.6h0M79 225.8h0M78.7 212.4h0M70.6 213.1h0M70.9 211.1h0M79 234.8h0M73.8 215.9h0M59 239.3h0M78.7 215.7h0M62.8 227h0M82.1 232.1h0M83.1 238.8h0M71.1 214.4h0M80 219.3h0M61.2 228.9h0M71.8 215.9h0M61.1 213.6h0M69.2 213.6h0M60 243.9h0M60.3 222.4h0M80.5 238.5h0M82 224.2h0M66.5 209.3h0M63.1 231.6h0M66.2 211.8h0M80.4 235.7h0M61.9 226h0M78.2 224.7h0M61.9 222.4h0M63.9 211.7h0M79 226.7h0M63.1 212.3h0M71.3 215.9h0M62.5 220.8h0M64.8 214.9h0M79.2 239.7h0M61.2 238.4h0M81.2 240.7h0M73.3 217.2h0M82.5 237.5h0M55.5 211.5h0M60.3 214.9h0M79.2 243.1h0M82.8 223h0M79.4 243.7h0M64.2 218.6h0M62.5 218.3h0M81.1 245.2h0M79.6 226.6h0M61 244.5h0M79.9 219.1h0M80.6 246h0M62.5 214.1h0M62.5 218.8h0M68.9 211.1h0M61.8 244.8h0M80.5 222.4h0M78.2 221.2h0M79 231.6h0M77.7 219.8h0M67.9 215.8h0M58.7 220h0M60.7 219h0M63 234.9h0M78.6 218.8h0M80.2 211.8h0M62.9 218.5h0M65.8 210.2h0M81.2 226.6h0M62.7 221.9h0M62.2 243.9h0M80.2 237.2h0M65.3 210.1h0M59.3 234.9h0M79.1 242.4h0M61.4 218.6h0M60.7 226.9h0M70.3 215.9h0M81.1 239.2h0M61 230.8h0M63.1 211.8h0M79.8 223.9h0M78.5 218.2h0M61.9 241.8h0M62.8 234h0M62 217.1h0M79.2 222.6h0M60.4 218.8h0M78.7 224.3h0M60.7 239.2h0M63.3 228.9h0M79.8 240.3h0M58.7 234.4h0M62.2 227.8h0M62 219.4h0M66.4 217.5h0M68.4 216.1h0M78.6 215h0M61.3 241.8h0M63.8 221.7h0M80.8 236.6h0M64.5 218.5h0M78.7 219.9h0M81.8 219.5h0M80.1 232.9h0M82.2 235.7h0M60.5 222h0M72.4 213.4h0M78.3 212.6h0M73.2 217h0M60.1 239h0M79 230.4h0M64 215.7h0M70 209.4h0M79.3 227.7h0M75.2 213.2h0M79.9 221.6h0M78.6 210.6h0M72.7 217.1h0M63.1 232.7h0M79.6 230.8h0M80.6 226.7h0M80.8 243h0M80.4 243.8h0M62.8 234.7h0M65.6 212.6h0M81.2 231.5h0M72.2 215.1h0M61.7 218.4h0M80.9 236h0M63.7 215.8h0M62.9 241.1h0M63.7 218.6h0M78.6 211.2h0M70.6 214.2h0M59.2 238.6h0M70.7 215.5h0M69 207.6h0M71.3 212.5h0M79.7 233.6h0M75.8 217.5h0M75 214.1h0M69.5 216h0M79.1 215.3h0M80.9 229.2h0M62.4 231.6h0M73.2 213.9h0M63.6 220.7h0M79.4 236h0M62.9 215.8h0M71.1 209.7h0M61.7 235.9h0M74.4 211.8h0M62.9 213.2h0M80 235.2h0M79.1 234.6h0M67.6 215.5h0M63 232h0M69.5 217h0M80 232.9h0M70.5 213.8h0M80.1 230.4h0M77.8 211.9h0M65.6 218.5h0M61.1 217.5h0M87.3 212h0M80.3 223.2h0M72.4 214.9h0M62.1 239.8h0M75.8 207.2h0M79.3 211.3h0M81.1 239.2h0M72 216.7h0M80.1 244.3h0M61 237.8h0M64.7 218.6h0M60.5 230.7h0M77.2 219.7h0M80.1 223.2h0M73.5 214.1h0M78.5 218.7h0M80.5 223.6h0M71.5 213.9h0M62.4 229.8h0M66.1 215.7h0M65.9 217.2h0M83.1 231.5h0M77.6 213h0M62.3 240.8h0M60.4 233.8h0M62.9 229.5h0M60.8 235.3h0M82.1 220.8h0M63.3 221.6h0M64 219.8h0M68.4 212.1h0M61.9 239.7h0M80 221.1h0M62.1 241.6h0M80 224.8h0M79.2 223h0M80.3 229.4h0M65.1 218h0M65.3 218.6h0M78 221.7h0M73.8 211.3h0M60 218.5h0M66.2 215.7h0M65.4 214.2h0M80.5 234.6h0M81.4 224.4h0M63.9 222.1h0M81.9 237h0M78.9 242.1h0M79.1 235.2h0M79.4 217.8h0M62.2 222.4h0M63.2 209.8h0M71.2 213.6h0M69.9 214.5h0M78.4 215.7h0M80.1 235.8h0M80 235.9h0M77.4 215.8h0M60.3 245.3h0M79.4 223h0M61.5 213h0M80.8 240.4h0M71.7 211.3h0M76.7 217.5h0M58.9 223.8h0M72.3 212.7h0M69.7 210.2h0M84 227.4h0M79.8 241.8h0M62.9 242.9h0M66.1 217.1h0M62.2 207h0M62.6 238.3h0M81.1 220.2h0M76.3 209.9h0M78.7 218.4h0M78.9 241.5h0M79.7 222.5h0M72 215.9h0M80.9 223.1h0M65.6 217.4h0M79.5 244.3h0M62.5 223.3h0M62.2 223.3h0M61.6 227.8h0M81.6 216.8h0M68.9 210.4h0M80.3 232.8h0M80.7 214.4h0M62.2 231.7h0M68.5 217h0M75.4 217.1h0M61.3 213.6h0M79.2 227.4h0M73.6 212.5h0M57.8 228h0M61.5 236.1h0M62.5 245.9h0M65.2 218.7h0M66.7 210.2h0M61.6 240.1h0M69.4 210.1h0M61.7 239.7h0M79.9 227.1h0M62.4 228.2h0M75.7 214.9h0M81.7 225.1h0M71.8 215.1h0M66.2 212.9h0M71.4 214.1h0M62.9 240.6h0M81.6 216.9h0M61.2 211.8h0M59.3 224.5h0M81.9 228.5h0M71.5 216.3h0M61 243.5h0M76.3 215h0M62.1 217.4h0M79.6 223.2h0M61.1 215.6h0M79.8 217.4h0M71.9 211.9h0M79.8 240.7h0M79.4 220.6h0M59.3 221.7h0M72.9 212.3h0M79.9 224.7h0M78.6 210.5h0M82.7 212.8h0M74 210.9h0M60 231.6h0M65.2 212.5h0M68.2 214.4h0M83.4 246.1h0M62.1 235.3h0M72.3 212.1h0M79.8 215.8h0M66.6 211.6h0M80 218.3h0M62.7 238h0M82.1 234.1h0M80.8 243.2h0M62.4 230.2h0M63.7 223.4h0M70.9 212.1h0M64 211.9h0M81.7 230.8h0M67.9 210.4h0M82.3 218.4h0M62.7 240.3h0M78.9 215.6h0M62.5 220.6h0M83.8 226h0M71 211.1h0M66.3 214h0M81.1 227.7h0M72.7 212.6h0M72.6 211.4h0M59.2 239.3h0M63.1 218h0M80.6 241.8h0M78 214.4h0M62.1 230.7h0M72.1 216h0M63.2 245.8h0M80.6 235.6h0M59.3 233.1h0M78.8 231.8h0M70.9 216.6h0M61.7 242.3h0M80.3 216.6h0M80 234.6h0M78.9 225h0M81 231.2h0M74.9 214.5h0M77.3 209h0M63.7 216.6h0M81.1 217.4h0M66.7 214h0M60.7 244.3h0M64 215.2h0M66 211.8h0M62 226.5h0M79 218.5h0M73.3 215.5h0M82.1 238.9h0M80.1 244.8h0M82.4 236.3h0M62.9 231.1h0M68.1 215.5h0M62.9 225.1h0M71.8 212h0M71.8 213.7h0M79.4 245h0M78.2 214.9h0M61.6 209.9h0M81.7 237h0M62.5 235.6h0M74.8 213.4h0M79.2 216.2h0M62.2 229.7h0M60.9 211.5h0M80.8 220.8h0M81.3 244.9h0M63 230.3h0M64 218.4h0M69.4 215.3h0M81.4 222.7h0M59.6 219.2h0M59.6 222.9h0M62.3 245.3h0M79.8 218.3h0M62.1 243.4h0M80.6 230.4h0M59.6 241.9h0M62.2 234.5h0M81.3 220h0M74 212.2h0M81.7 224.9h0M73.8 211.9h0M79.4 216.6h0M62.1 242.1h0M77.6 210.4h0M77.9 222h0M63.4 214.9h0M62.8 220h0M75.5 212.3h0M80 243.7h0M76.1 214.7h0M64 214h0M69.8 214.5h0M64.2 220.5h0M69 210.9h0M71.1 211.2h0M83 236h0M59.7 231.6h0M81.4 220.4h0M79.3 214h0M79.5 244.7h0M82.3 209.3h0M81.8 240.8h0M73 215.2h0M80.7 221.7h0M80.8 237.9h0M61.2 236.6h0M60.8 216.7h0M60.9 217.9h0M63 241.8h0M68.7 216.7h0M64.5 221.8h0M68.3 216.7h0M67.5 216.2h0M62 227.5h0M80.9 245.9h0M68.6 214.8h0M85.8 220.4h0M80 224.7h0M78.6 213.4h0M82.2 238.1h0M63 222.8h0M67.3 217.4h0M81.5 235.6h0M70.7 210.2h0M61.8 236.6h0M81.9 227.2h0M63.2 232.9h0M79.4 215.8h0M61.9 244h0M62.6 230.6h0M84.8 242.7h0M59.7 232.5h0M80.6 216.3h0M79.6 218.2h0M79.8 214.4h0M72.1 209h0M80.1 229.7h0M69.2 209.6h0M81.9 217.2h0M59.1 218.7h0M62.8 242.6h0M71.1 211.9h0M79.6 214.6h0M61.9 222.9h0M61.8 244.4h0M69.2 212h0M60.6 243.7h0M80.6 231.7h0M80 239.3h0M62.4 234.8h0M77.9 213.1h0M62 231h0M83.5 223.8h0M61.5 240.2h0M80.5 241.5h0M63.2 239.2h0M79.4 235.1h0M67.8 213.1h0M58.8 222.5h0M79.9 224.2h0M60.9 217.5h0M78 219.7h0M61.1 225.2h0M81.1 225.4h0M61.7 211.6h0M62.1 220.8h0M70.8 215.1h0M61.5 237.9h0M61.9 234.8h0M67.7 212.8h0M77.7 209.2h0M79.4 233.3h0M81.6 232.9h0M75.4 216.2h0M64.5 211.9h0M64.3 215.7h0M81.1 239.8h0M63.7 221.6h0M62.4 242.8h0M60.4 227.2h0M79.2 241.4h0M60.6 234.6h0M65.1 219.9h0M61.2 220.3h0M68.6 217.1h0M68.4 213.8h0M60.6 242.8h0M81.6 245.7h0M70 216.3h0M77.5 215.8h0M80.8 219.3h0M73.9 217h0M62.6 237.3h0M64.7 216.1h0M76.6 218.6h0M79.1 222.3h0M62.3 223.1h0M61.2 226.4h0M62.5 241.6h0M63.5 214.9h0M69.4 211.9h0M61.7 244.6h0M78.6 227.5h0M82.1 228.5h0M62.5 238.2h0M72.1 212h0M76.7 217.2h0M62.8 234.2h0M73.1 214h0M79.6 212.6h0M69.6 213h0M66 212.9h0M61.9 217.8h0M81.1 229.8h0M73.8 216.7h0M77 219.7h0M81.2 232.1h0M82.7 245.6h0M62.1 241.9h0M78 216.8h0M79.6 237.7h0M78.7 222.2h0M82.6 243.2h0M62.8 234.3h0M80.5 226.6h0M71.5 210.5h0M58 236.9h0M80.9 233.2h0M71.9 211.5h0M77.3 220.4h0M80.5 226.5h0M60.2 217.7h0M82.6 227.5h0M66.2 212.3h0M76.9 218.2h0M57.8 225.8h0M78.2 221.7h0M79.4 230.1h0M77.2 208.8h0M81 237.5h0M62.6 242.3h0M64.1 215.3h0M63.3 218.7h0M58.9 237.3h0M63.4 238h0M80.3 224.9h0M70.1 208.8h0M70.9 217h0M79.3 224h0M79.3 230.7h0M79.3 239.4h0M63.2 234.3h0M81.6 234.5h0M64.6 218.1h0M63.2 218.7h0M71.2 211.9h0M77.3 213.9h0M61.3 234h0M75.3 211.8h0M79.2 238.3h0M61.8 228.5h0M75.4 207.5h0M67.2 214.7h0M79.5 232.9h0M79.4 235.1h0M58.9 214.9h0M62.1 244h0M62.3 235.4h0M63 211.4h0M77.3 215.3h0M71.4 211.1h0M64.2 221.6h0M71.4 215.4h0M62.2 239.4h0M71.8 214.6h0M80.5 245.3h0M83.2 242.7h0M71.3 210.3h0M62 232.2h0M63.2 237.7h0M80.1 245.9h0M76.7 213.7h0M78 214.9h0M63 241.6h0M59.8 236h0M59.1 229.9h0M68.4 216.2h0M63.2 233h0M62.4 221.8h0M70.8 213.5h0M80.4 237.9h0M82.7 217.5h0M81.6 245.8h0M61.8 241.6h0M72.9 211.2h0M77.2 216.4h0M62.8 221.5h0M81 206.8h0M80 233.9h0M80.7 228.5h0M80.6 228.8h0M71.3 215.5h0M61.1 241.9h0M81.5 235.1h0M61.2 222.8h0M79.3 239.8h0M59.3 225.7h0M71.4 211.9h0M61.8 238h0M72 213.9h0M62.5 217.6h0M78.1 212.2h0M80.6 240.8h0M71.5 216.1h0M61.5 221h0M79.1 241.2h0M79.5 218.5h0M81.9 224.7h0M80.8 244.4h0M66.5 210.2h0M78.2 220.7h0M62.7 239.5h0M69.8 211h0M60.4 230.2h0M80.1 244.8h0M62.3 244.6h0M65.6 216.3h0M81.8 224.9h0M82.3 235.9h0M80.4 226.6h0M61.8 231.9h0M60.8 219.4h0M69.5 212.6h0M62.8 240.9h0M79.3 242.8h0M67.7 207.7h0M63.2 219.2h0M70.1 215.1h0M76.7 218.9h0M70.5 213.2h0M81.5 229.7h0M81.3 245.6h0M79.4 235.7h0M58.6 243.4h0M59.7 234.7h0M64.8 216h0M79.9 230.9h0M78.9 240.9h0M72.9 213.2h0M78.8 219.8h0M79 219.9h0M78.7 228.9h0M69.2 210.7h0M75.2 216.7h0M66.7 212.4h0M60.2 236.9h0M80 245h0M59.7 243.4h0M69.1 216.8h0M68.8 216.4h0M61.4 238.1h0M79.8 213.8h0M78.2 222.9h0M62.8 231.8h0M68.5 215.9h0M83.2 245.6h0M83.1 244.4h0M65 215.6h0M64.1 217.4h0M62.5 232.7h0M61.9 220.5h0M82 220.7h0M84 234.7h0M71.4 215.6h0M76.5 211.1h0M82 229.6h0M61.4 229.2h0M63.1 238.4h0M61.5 239h0M59.9 245.4h0M62.6 219.2h0M61.5 228.8h0M72.4 214.4h0M76.7 215.5h0M64.2 218.5h0M76.7 217.3h0M80.8 220.2h0M61 227.1h0M59.6 243.3h0M62 216h0M66.5 213.9h0M66.5 214.1h0M73.7 214.2h0M68.6 214.7h0M69.1 212.9h0M69 217.1h0M67.1 213.1h0M80 219.6h0M72.6 216.8h0M82.1 226.3h0M80.4 239.1h0M79.5 217.1h0M64 217.3h0M60 233.1h0M76.7 214h0M78.8 211.6h0M65.9 208.6h0M61.9 241.4h0M77 212.2h0M80.8 239h0M64.8 220.2h0M61.3 225.4h0M87 245.3h0M63.5 218.6h0M72.6 214.4h0M82 236.6h0M61 210.8h0M69.7 209.3h0M83 226.1h0M78.8 226.3h0M79.5 224.9h0M59.1 244h0M60.9 217.2h0M63.1 213h0M78.9 238.5h0M76.4 216.1h0M64.2 222.9h0M83.5 236.5h0M74.3 215.6h0M62.8 231h0M67.5 215h0M60.2 241.4h0M63 239h0M78.8 215.4h0M80.8 243.1h0M79.9 219.6h0M73.2 211.1h0M77.3 210.8h0M75.9 212h0M77.5 220.5h0M80.2 228.4h0M58.6 226.7h0M60.9 242.2h0M63.7 222h0M82.3 236.4h0M62 242.3h0M64.4 209.6h0M66.6 208.8h0M79 241h0M83.7 232h0M61.4 221.3h0M60.4 234.5h0M64.2 215.6h0M82.2 231.4h0M64.6 215.2h0M79.1 232.9h0M68.7 212.1h0M75.4 212h0M81.2 213.2h0M83.6 234.7h0M67.7 211.2h0M82.2 245.9h0M80.9 241.1h0M65.1 217.5h0M76.3 218.6h0M66.3 215.6h0M62.1 239.5h0M69.2 211.3h0M83.5 231.3h0M60.2 220.3h0M61.6 223.4h0M78.7 228.9h0M71.9 211.5h0M79.6 231.7h0M70.5 216h0M81.4 223.9h0M75.4 213.4h0M81.3 245.3h0M78.6 226.2h0M78.6 219.4h0M70.9 211.9h0M63.6 220.3h0M58.6 222.7h0M61 215.4h0M63.3 227.2h0M61.6 215.6h0M62.9 241.6h0M78 214.8h0M58.2 236.2h0M61.3 217.4h0M60.4 239.9h0M74.4 216.5h0M80.6 232.9h0M82.1 238.4h0M81.7 243.6h0M66.8 213.4h0M78.7 218.6h0M61.2 238.1h0M76.7 216.4h0M63.3 219.9h0M79.2 242.8h0M61.3 235.2h0M80.6 237.8h0M77.6 215.1h0M65.1 217.4h0M74.7 210.8h0M84.4 243.6h0M62.5 237.4h0M81.6 229.4h0M62 223.9h0M61.4 223.4h0M65.7 214.8h0M66.1 213.7h0M77.3 214.6h0M63.1 222.5h0M62.5 214.4h0M55.5 223h0M82.9 214.5h0M79.6 223.1h0M63.9 217h0M79.8 234.4h0M58.8 230h0M63.7 216.7h0M75.2 216.9h0M72.3 212h0M62.9 231.7h0M77.1 218.6h0M64.4 218.9h0M73.3 215.6h0M59.8 222.4h0M84.4 222.1h0M76 217.5h0M61.9 235.8h0M84.3 215.8h0M80.6 244.2h0M81.5 241.4h0M75.1 214.7h0M63.4 227.5h0M61.2 244.8h0M61.2 233.2h0M60.5 221h0M64 222.6h0M62.6 242.1h0M81.3 223h0M63.4 213.7h0M71.8 211.1h0M61.2 237.5h0M78.5 224.3h0M77.1 214.8h0M82.5 212.6h0M69.4 212.1h0M74.6 216.3h0M86.7 234.8h0M79.3 214.3h0M56.5 226.9h0M70.2 216h0M73.1 210.9h0M80 222.8h0M82.1 224.7h0M78.4 217.7h0M64 224h0M62.9 218.1h0M64.1 215.8h0M62.4 231.5h0M82.1 227h0M69.2 211.6h0M79 244.3h0M76.4 213.4h0M81.2 235.1h0M70.1 215h0M81.3 229h0M62 234.2h0M62 235.1h0M75.2 215.9h0M59.8 245.3h0M58.2 239.4h0M71.4 212.3h0M67.5 214.8h0M61.8 222.1h0M65.1 216.8h0M70.7 212.1h0M61.9 238.8h0M62.1 234.6h0M59.4 220.4h0M63.2 241.6h0M66.6 216.2h0M75.6 212h0M61.2 222.8h0M62.2 225.5h0M61.6 244.3h0M63.8 213h0M57.9 244.6h0M76.9 216.4h0M80.1 241.1h0M63.6 228.2h0M80.1 232.6h0M76 214.2h0M68.6 216.9h0M61.5 235.6h0M71.8 210.1h0M79.9 232.6h0M74.1 216h0M63.5 209.8h0M69.8 216.1h0M62.2 241.4h0M62.9 241.8h0M80.5 226.3h0M81.1 231h0M76 214.6h0M83.7 219h0M69.5 206.7h0M85.3 218.6h0M62.1 212.8h0M80.7 218.6h0M72.8 210.7h0M70.9 210.6h0M63.1 221h0M81.6 235.3h0M68.2 216.1h0M63 219.8h0M78.7 224.2h0M66.2 212.8h0M63.6 216.4h0M60.9 239.7h0M59.4 228.6h0M80.1 232.4h0M77.5 215.5h0M66.3 217.9h0M68.9 209.8h0M80.2 230.7h0M62 239.9h0M80 237.9h0M81.6 229.1h0M82.3 243.9h0M60 227.4h0M80.7 234.9h0M65.9 210h0M73.2 216.2h0M71.7 211.6h0M61.3 234.2h0M78.5 223.7h0M56.7 230.6h0M75.4 214.8h0M62.1 233h0M80.2 226.8h0M59.8 229.6h0M61.6 235h0M65.3 217.7h0M79.5 225.4h0M80.6 227.4h0M84.4 232.4h0M79.8 211.4h0M79.2 220.9h0M75.2 214.5h0M58.2 213.7h0M64.6 214.1h0M69.8 216.8h0M61.7 213.2h0M81.6 233.9h0M63.1 237.8h0M82.7 243h0M63 212.4h0M79.1 228.1h0M69.4 212.4h0M61.6 233.5h0M69.7 209.3h0M81.4 214.4h0M62.3 235.8h0M62.1 234.3h0M82 242.7h0M64.5 221.3h0M63.1 211.8h0M67.9 216h0M79.5 235.3h0M62.1 228.1h0M67.8 213h0M78.9 230.2h0M80.4 235.9h0M59.9 241.4h0M64.3 220.4h0M84.6 228.4h0M61.1 237h0M60.5 226.1h0M71.9 212.5h0M77.2 210.3h0M81.6 230.6h0M63.4 211.8h0M67.9 212.5h0M82.3 235.9h0M62.1 221.7h0M74.7 212.9h0M80.6 238.6h0M80 215.3h0M73 211.9h0M62.5 244.9h0M80.6 229h0M62.9 234.3h0M79.4 223.9h0M58.8 241.3h0M67.6 211.8h0M63.6 217.8h0M61.8 227.5h0M69.9 213.2h0M74.1 214.1h0M61.3 222.3h0M79.7 225h0M64.3 212.8h0M62 235.5h0M78.8 230.2h0M58.4 227.9h0M76.5 212.6h0M79.9 226.7h0M82.1 219.1h0M72.8 214.1h0M78.5 222.8h0M78.9 227.8h0M59.9 227.5h0M79.3 223.2h0M62.4 239.9h0M65.4 217h0M62.1 222h0M62.6 239.4h0M69.9 216.4h0M60.9 222.5h0M61.1 220.7h0M78.9 222.1h0M62.2 223.1h0M63.2 218.3h0M65.8 216.6h0M68.5 215.9h0M62.3 213.4h0M65.1 219.6h0M81 240h0M65.7 211.6h0M63.1 243.9h0M70.2 211.9h0M79 222.2h0M63 213.3h0M80.3 243.6h0M79.7 237.3h0M62.1 239.6h0M77.1 207.2h0M79.3 235h0M66 214.5h0M84.7 222.9h0M60.4 214h0M84.3 241.9h0M57.7 217.9h0M82.9 219.1h0M79.6 243.1h0M69.8 213.9h0M79.9 220.4h0M68.9 211.2h0M59.3 219.8h0M79.1 226.5h0M81.7 243.1h0M75.2 214.2h0M77.3 214.8h0M65.6 210.4h0M79.9 244.9h0M62.6 239.9h0M84.4 245.6h0M80.6 238.8h0M80.4 228.4h0M62.3 215.4h0M77.3 218.8h0M78.6 221.5h0M62.1 240.8h0M65.8 215.9h0M83.7 227.1h0M75 210.8h0M56.4 236.9h0M64 216h0M78.4 211.9h0M80.2 232.9h0M63.1 225.8h0M61.8 220.6h0M63.1 221.2h0M80.5 244.9h0M79.8 215.4h0M79.8 227.6h0M75 209.7h0M83.1 237.7h0M75.5 212.8h0M62.5 215.8h0M74.1 217h0M81.8 246h0M67.4 216.3h0M74.1 213.7h0M78.9 234.8h0M80.6 221.4h0M84.1 230.8h0M62.8 237.4h0M79.6 224h0M60.3 221.8h0M67.8 215.1h0M58.7 233.2h0M67.3 214.3h0M82.8 234.1h0M79.1 217.9h0M81.2 226.8h0M72.8 215.6h0M62.7 216.1h0M76.8 217.9h0M67.1 215.8h0M61.5 228.1h0M83.7 212.4h0M81.4 242.1h0M80.2 241.6h0M63.3 217.8h0M78.9 245.7h0M79.5 226.7h0M61.1 232.3h0M61.6 241.6h0M75.8 215.7h0M78.3 225.9h0M64.2 215.5h0M81.2 234.5h0M64.7 219.1h0M80.8 225.3h0M60 235.6h0M79.2 229.8h0M79.2 232h0M80.7 237.8h0M68.9 216.6h0M62.2 233.1h0M80.3 228h0M63 225.6h0M72.8 215.7h0M62.2 229.2h0M61.9 239.5h0M79.5 230.2h0M79.2 232.2h0M62.5 243.8h0M59.4 234.4h0M79.1 215.7h0M65.8 211.9h0M70.1 215.1h0M70.4 215.2h0M71.3 208.3h0M70.7 210.6h0M80.4 234.5h0M80.2 240.9h0M69 216.7h0M79.6 239.8h0M81 234.4h0M58.9 240.8h0M62.6 222.1h0M81.2 246h0M64.1 219.8h0M60.4 230.1h0M83 243.9h0M76.4 217.7h0M62.7 227.1h0M82.6 233.8h0M77.6 220.9h0M81.3 234.7h0M61.9 243.8h0M63.9 218.9h0M79.9 228.3h0M63.3 210.4h0M74.4 213.4h0M66.9 217h0M79.6 223.6h0M81.6 242.2h0M77 210.5h0M78.9 230.4h0M81.3 241.2h0M70.4 211.3h0M80 223.6h0M65.2 217.2h0M81.5 239h0M79.9 226.2h0M61.4 233.5h0M59.6 222h0M77.8 214.2h0M79.8 221.4h0M65.5 216.2h0M80.3 227.9h0M62.2 243.8h0M74.6 210.2h0M59.2 241.6h0M74.7 215.7h0M70.9 216.8h0M79.6 218.3h0M61.4 236h0M71.4 215.6h0M75.2 215.1h0M72.4 214.1h0M80.2 238.6h0M77.9 215.2h0M62.5 221.6h0M65.7 215.4h0M66.7 213.6h0M63.5 231.8h0M67.8 212h0M60.1 215.1h0M58.6 228h0M78.9 226.5h0M78.9 213.9h0M63.3 219.8h0M60.9 238.6h0M80.3 232.9h0M77.1 217.6h0M63.3 230.7h0M69.4 216.8h0M64.9 217.2h0M62.3 237.6h0M79.7 231.6h0M80.6 234.6h0M72.3 211.5h0M75.3 215.9h0M63.4 211.7h0M79.2 217.4h0M71 215h0M63.1 234.6h0M78.6 223.4h0M60.7 217.8h0M57.6 227.5h0M77.8 214.5h0M69.1 216.8h0M80.3 234.2h0M63.1 245.7h0M83.3 221.4h0M79.4 215.3h0M61.7 243.2h0M72.1 214h0M80.9 210h0M62.6 228.2h0M63 241.6h0M67.3 216.2h0M78.9 245.5h0M63.8 219.9h0M73.9 212.2h0M59.1 215.3h0M59.4 232.2h0M59.6 242.9h0M61.3 238.4h0M64.8 221h0M66.3 215.6h0M82.6 234.8h0M62.3 237.2h0M63.4 236.5h0M62.2 238.7h0M78.4 225.8h0M64.8 211.1h0M80.5 242.8h0M63.4 221.2h0M73 215.6h0M71.1 214.8h0M60.5 222.4h0M80.7 243h0M62.4 214.9h0M67.2 215.6h0M79.4 221.6h0M60.8 241.3h0M59.6 230.8h0M65.3 214.3h0M77.8 217.1h0M75.2 210.2h0M78.6 223.1h0M79.4 219.7h0M63.7 222.4h0M63 220.2h0M63.2 238.2h0M59.6 236h0M80.2 240.2h0M58.9 234.1h0M68.7 210.2h0M63.1 219.6h0M76.1 218.4h0M62 244.9h0M63.5 217.3h0M81.2 224.4h0M69.7 216.6h0M64 216.4h0M79.5 236.2h0M65.6 212.7h0M63.3 227.9h0M59.4 226.2h0M69.3 216.3h0M61.7 212.3h0M78.7 217.3h0M61 244.9h0M64.4 221.8h0M78.4 220.5h0M78.5 221.8h0M78.1 223h0M68.2 217h0M61.9 234.3h0M65.2 220.1h0M61 236.8h0M64.9 212.4h0M59.8 231.5h0M81.8 242.5h0M67.9 215h0M79.8 245.5h0M82 234.8h0M74.8 209.9h0M66.8 217.8h0M63.1 239h0M74.2 216.4h0M79.2 240.8h0M77.9 214.6h0M62.2 243.4h0M69.2 209.7h0M62.2 230h0M66.5 212.2h0M71.8 216.2h0M61.4 239.7h0M69.7 214.6h0M64.7 219.8h0M63.7 223.2h0M63.7 221.7h0M72.4 210.6h0M60.3 213.5h0M63.3 217.2h0M62.3 239.1h0M61.7 235.6h0M79.6 214.5h0M62.3 236.4h0M62.1 231.9h0M80.3 239.3h0M75 215.9h0M64.8 212.6h0M68.5 213.7h0M78.1 214.1h0M82.5 245.7h0M80 226.9h0M80.8 238h0M61 236.2h0M72.9 210.2h0M67.9 215.3h0M63.3 243.8h0M80 236.3h0M83.4 233.5h0M77.2 213.1h0M58.9 225.9h0M64.8 218.3h0M62.3 242.2h0M62.7 233.7h0M81.2 238.1h0M62.2 231h0M61.6 223.9h0M82.2 243.6h0M70 216.4h0M73.9 211.3h0M77.8 211.2h0M76.8 216h0M65 220.3h0M79.4 225.6h0M81.3 240.5h0M61.9 245h0M62.5 221.3h0M63 242.3h0M64.2 223.2h0M61.9 240.6h0M74.5 211.4h0M80.9 224.2h0M74 215.4h0M63.1 214.5h0M63.2 228.2h0M77 217.8h0M74.9 211.9h0M66.4 214h0M79.6 240.7h0M75 211.9h0M75.7 215.3h0M65.6 210.8h0M81.1 234.6h0M64 224.6h0M68.8 214.9h0M80.7 213.6h0M61.3 236.2h0M80 216.1h0M61.5 245.8h0M68 209.7h0M80.5 216h0M64.8 216.9h0M64.5 221.4h0M63.2 232.2h0M79.8 242.1h0M84.3 221.5h0M79.1 230.8h0M62.5 227.4h0M61.9 224.3h0M61.1 234.9h0M71.8 212.6h0M60.4 236.4h0M65.9 217.9h0M80.8 237.7h0M79.9 244h0M81.9 208.4h0M72.2 216.6h0M81 232h0M75.4 216.3h0M79.9 234.6h0M80.6 237.5h0M62.6 231.1h0M61.7 234.2h0M64.1 208.9h0M61.1 229.3h0M70.6 213.4h0M72.7 215h0M63.4 218.1h0M76.4 211.4h0M61.3 218h0M78.7 224.4h0M82.3 240.6h0M65.2 212.2h0M76.6 218.8h0M82.8 235.9h0M71.6 207.9h0M82.7 223h0M81.3 220.4h0M61 220.9h0M60.9 232h0M79.4 217.8h0M69 212.9h0M58.6 242.1h0M79.9 209.1h0M59.2 242.4h0M60.1 234.7h0M78.8 228.6h0M62.9 241.1h0M60.6 227.9h0M57 209.8h0M69.2 211.4h0M80.2 244.2h0M61.1 233.8h0M80.7 219h0M62.8 229.3h0M62.2 226h0M81.2 220.5h0M64.1 217.6h0M81 239h0M80.2 237.8h0M66.4 215h0M61.1 233.9h0M80.9 216h0M61.1 244.6h0M79.3 240.4h0M63.4 217.8h0M78.5 221.1h0M62.6 230.4h0M80.8 218h0M78.1 223.9h0M62.6 229.8h0M76.4 212.8h0M62.4 237.7h0M81.1 239.3h0M79.9 229.7h0M79.2 241.2h0M79.2 230.1h0M78.6 217.1h0M63.1 217.1h0M80.4 227.7h0M81.2 230.1h0M63.3 232.9h0M80.2 240h0M79.8 241.4h0M73.7 217.1h0M62.4 229.4h0M82.5 225.2h0M61.7 218.6h0M61.9 218.2h0M61.9 243.8h0M78.5 217.5h0M81.7 235h0M61.1 243.5h0M72.2 211.5h0M81 235.4h0M75.8 213.5h0M62.4 229.8h0M80.4 230.4h0M79.3 242.1h0M60.5 242.6h0M62.5 246.1h0M72 212.9h0M81 213.2h0M59.8 232.5h0M58.4 226.6h0M80.2 242.8h0M80.7 228.3h0M62.8 215.8h0M79.2 234h0M63.2 234.9h0M62.7 221.2h0M79.5 230.5h0M78.9 218.5h0M79.8 245.5h0M60.9 237.2h0M63.5 214h0M84.9 223.8h0M80.4 216.5h0M80.3 231.1h0M69.4 213.8h0M77.7 214.7h0M79.1 222.5h0M65 213.4h0M65.9 217.2h0M78 213h0M76.1 213.6h0M64 223.3h0M83.6 223.8h0M58.8 235.4h0M80.1 232.2h0M62.6 226.2h0M62.3 231.8h0M62.8 211.1h0M61.6 243.8h0" stroke="#000" stroke-opacity="0.92" stroke-width="0.9" stroke-linecap="square" fill="none"/>
<text transform="translate(62.30,192.90) scale(0.86,1)" font-size="10.8" text-anchor="start" font-weight="bold">T</text>
<text x="67.00" y="196.70" font-size="8.3" text-anchor="start" font-weight="bold">EMRA</text>
<rect x="109.4" y="182.5" width="66.20" height="62.50" fill="none" stroke="#000" stroke-width="0.9"/>
<line x1="131.50" y1="182.50" x2="131.50" y2="245.00" stroke="#000" stroke-width="0.75" stroke-linecap="butt"/>
<line x1="109.40" y1="224.70" x2="175.60" y2="224.70" stroke="#000" stroke-width="0.75" stroke-linecap="butt"/>
<path d="M106.60 245.00H109.40M107.72 240.30H109.40M107.72 237.54H109.40M107.72 235.59H109.40M107.72 234.08H109.40M107.72 232.84H109.40M107.72 231.80H109.40M107.72 230.89H109.40M107.72 230.09H109.40M106.60 229.38H109.40M107.72 224.67H109.40M107.72 221.92H109.40M107.72 219.97H109.40M107.72 218.45H109.40M107.72 217.22H109.40M107.72 216.17H109.40M107.72 215.26H109.40M107.72 214.46H109.40M106.60 213.75H109.40M107.72 209.05H109.40M107.72 206.29H109.40M107.72 204.34H109.40M107.72 202.83H109.40M107.72 201.59H109.40M107.72 200.55H109.40M107.72 199.64H109.40M107.72 198.84H109.40M106.60 198.12H109.40M107.72 193.42H109.40M107.72 190.67H109.40M107.72 188.72H109.40M107.72 187.20H109.40M107.72 185.97H109.40M107.72 184.92H109.40M107.72 184.01H109.40M107.72 183.21H109.40" stroke="#000" stroke-width="0.8" fill="none"/>
<path d="M150.6 244.7 150.7 241.3 151 239.4 150.7 238.4 151 237.2 151 236.1 150.5 235.7 150.2 234.6 150.5 233.9 150.5 233.2 149.9 233 150.1 232.5 149.9 231.4 149.6 231.6 149.6 231 149.1 230.4 149.3 229.9 149 229.5 148.4 229.5 148 229.3 147.9 228.6 147.7 228.8 147.4 228.4 147.1 228.4 146.4 228 146.1 227.8 146 227.5 145.3 227.7 144.4 227.6 143.5 227.5 141.9 227.5 139.7 227.3 138.9 227.7 137.9 227.5 137.8 227.7 136.8 227.6 136.5 228 136.3 227.8 135.8 228.1 135.2 228.3 135 229 134.7 228.9 134.4 228.9 134.3 229.5 134.4 230 133.8 230.5 133.4 231.1 133.8 231.4 133.6 231.9 133.2 232.4 132.7 233 133 233.4 132.9 233.8 133 234.5 132.6 235.8 132.2 236.2 132.1 237.4 132.2 238.5 132.5 239.5 132.5 240.9 132 244.7z" fill="#000"/>
<path d="M145 228.1h0M140.2 224.9h0M143.5 227.7h0M149.7 227h0M129.6 238.8h0M151.1 232.7h0M152.8 242.4h0M149.6 230.8h0M143.7 225.7h0M132.3 235h0M152.5 237.1h0M133.8 228.1h0M151.4 243.5h0M148.7 228.4h0M150.5 231.1h0M153.2 239.4h0M149.7 233h0M144.9 226.8h0M147.9 229.5h0M148.8 227.3h0M131.5 235.9h0M132.8 231.2h0M130.3 236.1h0M149.7 229.7h0M148.9 229.3h0M132.6 237.3h0M152.6 230.9h0M134.3 229.9h0M148.2 223.4h0M133.5 232.9h0M132.6 226.6h0M132.7 225h0M152.1 230.2h0M142.3 227.2h0M140.4 228.2h0M145.1 226.4h0M138.8 227.5h0M132.4 244.1h0M131.6 241.7h0M142.5 225.2h0M150.1 230.6h0M134.7 227.1h0M140.2 224.9h0M144.4 225.4h0M151.1 230h0M132.3 225.8h0M147.1 228.6h0M141.5 224.4h0M145.5 226.7h0M130.2 243.7h0M151 232.4h0M148.4 224.1h0M130.6 241.7h0M132.6 234.1h0M141.4 225.3h0M143.4 223.4h0M134.3 231.1h0M138.5 225.8h0M151.7 232.1h0M153.4 235.2h0M150.1 229.5h0M147.9 223h0M152 229.7h0M131.5 232.8h0M146.1 225.2h0M151.6 225.3h0M144.1 225.8h0M132.7 221.7h0M132.6 232.9h0M131.6 227.7h0M144.3 226.4h0M139.3 226.7h0M149.5 227.8h0M151.9 232.9h0M146 227.3h0M144.9 223.9h0M130.6 240.4h0M129.4 234.9h0M137.2 225.9h0M149.6 225.6h0M147.7 223.3h0M145 223.4h0M131.5 238.4h0M152.6 242.7h0M136.6 228.2h0M138.3 228.2h0M153.9 238.8h0M143.1 223.2h0M150.4 235.2h0M131.7 241.5h0M129.7 233.3h0M152 237.9h0M145.8 225.7h0M142.8 223.7h0M129.1 231.3h0M133.6 231.6h0M153.5 233.6h0M153.7 235.4h0M144.3 224.8h0M153.9 240.5h0M151.9 241.3h0M133.4 229.6h0M144 225.6h0M130 237.3h0M129.8 239.1h0M155.3 235.6h0M151.1 227.8h0M152.5 239.1h0M150.1 233.6h0M136.3 227.5h0M139.8 226.6h0M133.2 226h0M129.7 229.9h0M138.9 225h0M144.1 222.8h0M152.7 240.5h0M149.1 227h0M130.8 239.1h0M143.5 223.9h0M137.7 226.6h0M150.4 224.7h0M135.1 229.1h0M131.7 238.6h0M139.3 225.7h0M140.3 227.4h0M148.1 226.9h0M154.7 241.4h0M130.5 233.4h0M152.1 239h0M152.4 237.1h0M155.9 229h0M152.2 243.9h0M130.9 239.4h0M143.1 225.5h0M132 240.8h0M150.6 233.6h0M146.8 226.2h0M135.9 225.6h0M134.6 229.1h0M145.4 226.6h0M129.1 228.7h0M129.5 227.9h0M150.6 240.4h0M132.5 233.8h0M140.8 226.1h0M146.2 228.3h0M150.5 228.3h0M150.4 237.6h0M130.6 230.2h0M153.4 239.8h0M152.9 242.4h0M148.3 224.8h0M150.9 234.7h0M146.2 228.4h0M138.3 227.9h0M150.5 241.6h0M147 226.2h0M150.4 240.8h0M151.2 226.2h0M151.5 235.6h0M131 228.8h0M153.1 231.4h0M136.4 225.6h0M139 221.9h0M143 222.8h0M141.4 225.1h0M147.7 225.1h0M151.2 231.8h0M133.1 226.9h0M151.4 237.1h0M145.4 222.7h0M131.8 233.5h0M133.1 231.4h0M147.9 226.7h0M132.4 235.1h0M144 228.4h0M129.1 235.7h0M140.5 227.2h0M152.2 237.3h0M131.3 234.6h0M152.1 233.1h0M151.8 226.9h0M148.9 229.1h0M132.9 235.1h0M134 226h0M144.4 228.4h0M133.2 229.6h0M134.9 228.2h0M131.7 240.5h0M146.9 226.2h0M154 241.2h0M151.5 233.8h0M153.9 239h0M148 226.5h0M131.5 243.1h0M152.2 235.5h0M151.8 231.6h0M147.5 226.9h0M137.4 227.4h0M131.9 238.2h0M154.9 237.3h0M146.3 222.5h0M127.1 241.5h0M131.1 239.6h0M152.6 237.3h0M147.5 221.7h0M150.9 242.8h0M130.9 239.7h0M132.7 239.1h0M130.6 244.1h0M132.7 228.3h0M132.6 243.7h0M152.5 237.7h0M149.2 231.5h0M130.1 231.3h0M132.5 236.6h0M147.6 225h0M147.5 227.8h0M135.3 224.8h0M132.4 239.7h0M144.1 226.2h0M131.8 231.7h0M144 226.4h0M149.7 230.4h0M153.2 236.4h0M141.3 224.5h0M146.9 229h0M146.1 226.5h0M137.4 225.2h0M154.1 234.3h0M146.7 227.2h0M141.2 225.2h0M151.7 244.2h0M151.5 234h0M150.3 227.2h0M142.7 227.9h0M146.8 227.3h0M151.3 232.2h0M150.7 237.7h0M150.8 241.8h0M143.2 227h0M153.6 237h0M151.3 230.8h0M136.9 225.6h0M126.7 239.6h0M150.4 244.6h0M139.9 224.6h0M154.1 229.5h0M155.1 244.7h0M129.1 238.1h0M139.1 220.9h0M131.9 244.5h0M139.2 225h0M152.5 237.4h0M148.4 224.8h0M149.6 230h0M147.6 225.9h0M129.8 240.9h0M130.9 231.4h0M130.2 234.1h0M147.9 226h0M148.8 226.5h0M135.7 228.4h0M144.1 228.1h0M140.3 225.9h0M146.8 228.4h0M133.5 230.7h0M153.1 242.6h0M133.6 228.9h0M131.6 228h0M150.7 230.7h0M131.1 239.7h0M149.3 226.2h0M131.6 232.8h0M132.2 233.7h0M140.8 226.8h0M130.4 228.2h0M153 239.1h0M130.4 242.7h0M133.6 231h0M152.3 237.5h0M134.7 228.2h0M150.6 236.7h0M146.5 224.6h0M131.5 232.9h0M130.6 233.5h0M150 228.5h0M136.3 226.4h0M148.8 230.2h0M132.8 242.2h0M143.4 226.6h0M139.2 224.3h0M136.7 227.4h0M138.4 227.1h0M151.6 243.5h0M151.8 237.2h0M151.4 228.5h0M150.9 238.3h0M135.2 218.9h0M145.6 225.8h0M133 227h0M133.7 230.7h0M131.6 238.5h0M154.2 229.5h0M153.1 239.5h0M153 235.2h0M150.3 234.2h0M136.9 225.7h0M137 225.7h0M150.7 237.8h0M136.2 224.2h0M149.2 230.1h0M153.7 233.8h0M137.9 228.1h0M131.6 228.3h0M139.8 227.9h0M151.5 242.1h0M145.1 227.6h0M134.4 228.9h0M151.4 240.6h0M152.6 232.2h0M134.1 231.5h0M151.8 243.9h0M146.1 225.5h0M132.1 244h0M144.9 227.3h0M131.1 240h0M131.1 244.6h0M134.3 226.9h0M156 235.9h0M130.2 243.3h0M148.4 226.9h0M134.2 228.6h0M135.2 225.4h0M139.9 226.2h0M138.4 227.6h0M155.5 226.9h0M143.4 227.4h0M150.1 228.4h0M135.7 220.7h0M144.1 225h0M139.2 225.6h0M136.3 223.8h0M139.2 227.9h0M145.1 226.8h0M132 241.5h0M132.1 240h0M130.9 237.1h0M153 238.8h0M147.8 229.5h0M139.8 225.9h0M152.8 243.1h0M142.6 221.2h0M135.9 223.8h0M150.6 240.9h0M129.5 228.4h0M153.7 242.3h0M152 232.7h0M133.1 229.9h0M137.8 227.5h0M136.9 224.5h0M154.5 228.5h0M134.2 226.9h0M132.2 227.8h0M150.3 232.1h0M142.9 227.6h0M143.8 226.4h0M141.5 225.8h0M134.1 231.2h0M152.3 234.8h0M130.1 233.7h0M151.3 238.3h0M142.4 222.9h0M134.3 229.1h0M147.3 225h0M128.6 234.8h0M150.2 226.3h0M152.6 235.3h0M130.4 244h0M145.5 223h0M129 232h0M149.9 225h0M132.8 239.7h0M152 237.7h0M148 227.5h0M151.8 241.8h0M151.2 235.1h0M130.1 230.6h0M138.1 224.3h0M152.1 243.7h0M136.8 226h0M144.9 223.3h0M151.7 221.1h0M151.5 240.3h0M140.1 226.4h0M130.2 228.4h0M131.2 226.8h0M136.9 225.6h0M151.6 243.8h0M152.6 242.6h0M128.4 242.4h0M132.1 241.6h0M131.5 228.9h0M142 226.1h0M151.7 234.8h0M136.2 227.2h0M130.7 239.1h0M134.7 228.6h0M132.9 230.4h0M132.7 232.1h0M152.7 238.1h0M131.5 227.1h0M140.6 228.4h0M152.6 229.4h0M131.3 237.4h0M130.9 232.4h0M143.5 226.3h0M139.2 228.2h0M139 226.8h0M137.2 228.3h0M132.1 232.7h0M132.6 230.4h0M130.2 234.4h0M146.6 222.3h0M151.6 233.7h0M153.3 239.8h0M135.3 222.4h0M150.7 226.6h0M136.6 228h0M130.8 244.2h0M140.3 225.1h0M144.2 227.1h0M152 233.9h0M131.9 238.7h0M126.9 236.9h0M137.2 224.5h0M144 224.6h0M131.2 238.4h0M129.1 234.9h0M151 237.5h0M134.4 229h0M147.7 224.9h0M133 232h0M132.3 241.4h0M153.6 234h0M130.3 238.7h0M141.6 222.8h0M145.9 228.7h0M141.5 223.8h0M152.2 238.9h0M132.2 239.9h0M151.7 236.3h0M130.9 241.9h0M147.6 225.7h0M148.1 228.3h0M138.2 223.5h0M147 226.8h0M149.8 230.9h0M150.2 231.8h0M134.6 226.7h0M142.3 223.8h0M151.9 239.3h0M149.9 232h0M152.1 239.7h0M151.7 235.6h0M130.5 239.6h0M130.7 229.4h0M152 236.8h0M139.1 228.2h0M142 223.4h0M136.5 227.2h0M152.5 236.8h0M131.5 234.7h0M152.4 229.4h0M133.8 225.1h0M139.8 227.6h0M152.4 227.1h0M131.7 233.8h0M151.5 232.8h0M153.9 241.9h0M152.1 243.3h0M132.3 229.6h0M150.1 235.4h0M130 231.3h0M140.8 225.7h0M146.3 226.2h0M145.4 228.5h0M132.6 240.5h0M152.9 225.1h0M134.6 229.2h0M150.3 230.9h0M151.7 243.9h0M135.3 226.7h0M155.7 243.5h0M147.7 229.5h0M153.6 235h0M129.7 239.2h0M133.2 232.8h0M151.9 235.4h0M133.1 227.2h0M129.7 233.3h0M145.8 227.7h0M138.4 223h0M132.7 227.8h0M133.1 232.5h0M150 229.6h0M138.7 226h0M153.1 241.9h0M143.4 226.1h0M152.1 241.3h0M150.3 229.3h0M152.6 237.4h0M151.5 238.2h0M148.4 228.6h0M134.8 227.9h0M153.2 243.5h0M151.7 243.2h0M153.1 231.5h0M132.2 230.8h0M143.9 226h0M130.5 235.8h0M135.2 224.2h0M156.2 243.8h0M133.6 229.7h0M139.6 224.3h0M135.3 225.4h0M138.8 226.3h0M151.5 238.8h0M140.2 225.5h0M132.7 244.7h0M131.6 235.6h0M148.8 227h0M150.8 242.1h0M143.2 228.2h0M153.4 243h0M150.6 241.2h0M132.9 239h0M145.4 227.7h0M141.2 226.2h0M140.3 228.3h0M142.9 225.2h0M133.2 229.9h0M150.1 228.2h0M146.8 225h0M151.5 235.2h0M150.7 230.7h0M140.4 226.6h0M150.3 238.3h0M151.3 237.2h0M148.4 229.1h0M132.2 231.4h0M144.1 226.7h0M150.5 235.2h0M151.9 242.9h0M130.6 240.4h0M140.1 225.3h0M133.3 227.7h0M150.5 232.6h0M135.9 226.2h0M150.4 225.4h0M152.1 237.8h0M139.2 227.8h0M144.3 225.9h0M154.3 235.5h0M130.4 232.7h0M137.3 223.8h0M130.5 227.9h0M141.2 225.7h0M131.2 231h0M131 243.8h0M135 225.9h0M148 226h0M151.1 241.1h0M151.8 234.5h0M141.8 227.3h0M133.2 229.4h0M152 238.7h0M126.9 237.5h0M130.7 236.8h0M146 225.1h0M132.7 240.1h0M152.4 240h0M139.9 226.9h0M131.2 236.6h0M147.4 224.1h0M149.4 228.9h0M147.1 228h0M151.9 240.5h0M151.1 229.6h0M139.1 225.2h0M130 236.8h0M144.1 225.6h0M130.3 229.6h0M153.3 235.7h0M137.1 226.7h0M130 234.9h0M150.2 228.1h0M131.4 244.6h0M131.2 232.7h0M131.8 236.6h0M151.1 228.4h0M129.3 231.1h0M135.5 229.2h0M148.7 224.5h0M152.3 236.9h0M128.2 244.3h0M150.5 239.5h0M153.7 236.1h0M148.8 230.4h0M138.3 222.6h0M140.3 226.6h0M152.9 239.2h0M134.3 228.8h0M152.2 239.2h0M141.7 223.2h0M152.7 240.8h0M132.4 241.8h0M152.2 236.2h0M148.2 230h0M134.2 225.6h0M140.9 226.1h0M133.1 229.8h0M151 234.6h0M131.9 239.3h0M150.8 234.4h0M132.7 240.4h0M138.4 224.3h0M135.1 228.3h0M132.2 231h0M150 229.9h0M147.8 227.3h0M150.4 237.3h0M134.1 231.2h0M144.6 228.2h0M152.1 231.8h0M143.5 227h0M137.1 223.7h0M133.7 230.7h0M151.9 240.7h0M130.6 231.2h0M131.3 240h0M149.5 227.1h0M152.6 241.1h0M128.6 242.9h0M155.1 238.4h0M148 225.2h0M154 240.6h0M131.7 234.1h0M133.2 232.6h0M135.4 226.9h0M149.7 227.1h0M151.6 227.4h0M134.5 228h0M144.9 223.5h0M152.2 241.9h0M139.2 227.7h0M140.3 228.1h0M135.3 226.3h0M152.1 230.4h0M146.8 223.8h0M150.9 233.8h0M132.3 230.4h0M132.2 242.6h0M150.1 233.2h0M143.3 223.9h0M133.3 227h0M133.7 231.6h0M131.6 236.9h0M149.7 229.1h0M132.5 234.9h0M129.6 232.4h0M148 227.4h0M131.8 239.9h0M155.2 235.1h0M149 230h0M142.2 227.8h0M155 230.2h0M143.7 224.6h0M131.7 229.7h0M150 231.3h0M139.4 227.7h0M128.2 235.1h0M134.4 226.1h0M150.6 231.8h0M135.4 229.1h0M153.6 235.3h0M146.5 227.1h0M153.3 235h0M131.5 239.8h0M150.7 242.4h0M135.4 228.4h0M146.5 225.3h0M131.7 234.4h0M153.1 233h0M131.6 232.6h0M130.6 241.2h0M134.6 225.6h0M150.6 229.3h0M152.2 238.2h0M151.8 240.2h0M145 225.9h0M149.9 229.5h0M132 236.7h0M129.5 239.7h0M146.1 226.4h0M151 226.2h0M140.5 224h0M132.7 241.1h0M138 228.5h0M143.8 227.7h0M143.3 227.2h0M131 229.6h0M132.6 228.9h0M150.3 228.8h0M144.7 228.1h0M142 227.5h0M129.9 232.3h0M131.4 234.9h0M151.7 232h0M143.2 225h0M151.1 233.9h0M129 236.2h0M131.1 233.1h0M137.7 226.3h0M143.4 226.3h0M132.9 226.4h0M150.8 240.4h0M142 225.2h0M147.6 228.3h0M131.9 231.6h0M132.8 242.5h0M152.5 237.6h0M141 222.8h0M132.7 235.4h0M143.6 222.7h0M135.7 227.8h0M136.1 225.2h0M151.2 243.4h0M153 243.2h0M144.4 223.6h0M146.1 228.5h0M132.3 242.8h0M145.6 226.5h0M151.6 228.1h0M152.1 230.6h0M150.1 232.8h0M131.7 236.6h0M147.8 226.2h0M152.3 230.2h0M130.2 238h0M138.1 228.2h0M151.7 234.5h0M146.7 227.3h0M135 224.9h0M150.6 235.6h0M130.1 240.4h0M146.4 225.6h0M143.4 223.5h0M132.1 230.6h0M130.6 240.4h0M138.6 226h0M133 233.4h0M133.1 227.6h0M145.3 228.3h0M150.6 244.2h0M151.7 242.5h0M150.4 228.4h0M131.8 243.2h0M152.6 238.5h0M133.6 230.1h0M151.3 230.2h0M150.4 243.3h0M152.5 242.7h0M130 244.6h0M149.8 227.4h0M131.5 233h0M151.4 239.3h0M131.3 241.3h0M156.3 228.2h0M136.2 222.6h0M150.4 227.7h0M134.1 228.8h0M146.2 225.8h0M130.4 244.4h0M151.5 233.4h0M141.2 227.4h0M149.4 231h0M134.4 226.9h0M131.1 241.3h0M148.9 230.3h0M151.1 238.1h0M129.9 239.2h0M135.5 227.1h0M152.1 240.9h0M133.6 232.5h0M156.6 235.3h0M151.1 236.5h0M150.5 244.2h0M149.1 225.7h0M145 227.2h0M132.3 239.6h0M127.6 236.4h0M151.6 230.9h0M143.3 228.1h0M131.2 235.5h0M131.4 235.7h0M149 227.3h0M152.4 242.8h0M132.2 233.7h0M152.8 232h0M141.8 227.9h0M132.2 234.3h0M132 236.4h0M151.4 231.5h0M151.9 241.8h0M132.1 239.4h0M145.6 222.7h0M149.4 225.3h0M132.4 232h0M142.4 228.4h0M133.1 235.3h0M130.6 234.4h0M129.1 242.4h0M131.7 225.7h0M152.1 234.2h0M134.9 229.5h0M137.6 224.5h0M142.3 226.5h0M132.6 244.5h0M145.5 228.5h0M138.6 227.3h0M133.1 231.7h0M129.7 241.7h0M150.7 236.7h0M146.4 223.9h0M129.7 229.4h0M131.2 226.3h0M131.2 244.2h0M154.2 229.8h0M133.6 232.4h0M148.1 224.8h0M150 232.2h0M133.6 227.6h0M135 228.3h0M139.7 226.9h0M151.8 234.1h0M151.2 244.3h0M142.7 224.7h0M151.8 232.2h0M151.2 234.1h0M143.6 225.1h0M132.7 243.5h0M131.8 234.9h0M138.5 224.1h0M140 226.2h0M142.5 226.3h0M149.9 226h0M144.6 224.4h0M150 231.3h0M144.3 226.9h0M151.4 240.3h0M149.7 229.8h0M144.7 228h0M154.4 231.1h0M135.6 227.3h0M151.3 234.6h0M138 227.2h0M150.9 229.8h0M154.8 231.9h0M152.8 230.6h0M132.3 232.7h0M131.4 234.2h0M141.9 224.4h0M141.7 227.5h0M155.1 233h0M129.4 243.2h0M142.3 227.6h0M137 226.9h0M130.6 234.8h0M132.3 236.6h0M145.7 221.7h0M150.4 238.1h0M131.3 238.1h0M147.4 226.6h0M131.8 233.8h0M142.1 224.3h0M132.2 232.3h0M137.1 228h0M133.2 233.2h0M137.5 227h0M151 244.6h0M152.8 242.4h0M129.8 243.2h0M132.2 232.6h0M158.6 239.9h0M129.2 244.6h0M130.8 244.2h0M134.7 227h0M151.2 231.5h0M151.2 231.3h0M132.5 240.3h0M143.2 226.3h0M131.1 232.9h0M141.6 224.3h0M136.4 228.9h0M130.3 233.9h0M151.6 233.5h0M152.1 236h0M152.8 238.3h0M129.5 240.8h0M147.4 225.7h0M137.3 225.7h0M150.4 224.6h0M131.4 240.6h0M136.9 226.1h0M144 227.6h0M144.4 224.9h0M130 241.8h0M151.8 243h0M132.7 224.6h0M140.9 227.7h0M132.3 239.9h0M151.4 243.8h0M131.2 234.8h0M128.5 238.4h0M150.2 235.3h0M130.4 232.7h0M136.8 227.7h0M149.8 231.2h0M131.6 243.4h0M152.5 234.9h0M146.6 226.2h0M135.2 225.1h0M131.7 244h0M140.1 226.7h0M129.5 225.9h0M145.3 228h0M130.8 238.9h0M153.8 228.1h0M142.2 227.8h0M141.4 228.2h0M155 243h0M134.8 226h0M132.6 229.2h0M149.4 225.5h0M134 230.3h0M153 237.4h0M141.1 225.4h0M133.2 231h0M151.9 240.3h0M132.2 225.4h0M132 243.7h0M151.9 241.4h0M131.5 244.1h0M153 238.6h0M133.8 225.9h0M132.3 228h0M134.1 230.9h0M132.3 230.6h0M149.4 229.8h0M141.4 224.1h0M151.8 239.5h0M129.2 227h0M147.2 225.7h0M147.3 227.7h0M152.9 230.7h0M132.9 229.1h0M148.3 224.7h0M132 229.9h0M150.9 239.2h0M156.5 234.4h0M146.7 222.9h0M130.8 230.4h0M148.8 227.7h0M127.2 233.2h0M135.8 222.1h0M152.6 234.7h0M128.7 238.2h0M131 243.6h0M131.2 238h0M145.9 226.6h0M134.8 228.6h0M136.5 228.3h0M133.1 233.5h0M131.4 239.4h0M151 238.6h0M128.6 239.9h0M145.3 228.2h0M149 225.9h0M151.5 240.4h0M152.6 243.4h0M143.5 226.1h0M145 227.9h0M151.4 230.3h0M149 230.6h0M153.1 236.8h0M139.1 228.3h0M150.4 241h0M131.9 236h0M136.5 226.3h0M143.2 227h0M155.6 235.4h0M141.7 227.1h0M142.8 228.1h0M145.6 227.5h0M133.1 230.6h0M149.5 227.2h0M136.8 227.4h0M147 228.3h0M152.4 236.3h0M134.9 225.8h0M150.2 231.4h0M136.3 229h0M147.5 225h0M155.3 238.2h0M146.4 225.5h0M141.9 225.3h0M139.6 225.4h0M149.7 226.6h0M132.7 239.8h0M143.3 223.6h0M137.4 224.4h0M140.1 228h0M134 228.7h0M150.3 230.1h0M143.8 226h0M156.3 235.3h0M151.4 234.5h0M150.4 229.3h0M148.7 228.1h0M139.4 224.6h0M142.3 223.4h0M147.7 222.9h0M151.3 235.3h0M136.2 228.1h0M142.3 227.8h0M133.5 232.8h0M149.9 231.9h0M129.4 236.2h0M129.4 242.2h0M131.5 231.5h0M132.4 234.7h0M148.9 228.2h0M130.5 237.7h0M137.7 226.8h0M140.3 225.4h0M141.2 226.5h0M129.6 233.8h0M129.6 236.2h0M151.7 228.8h0M130.5 233.6h0M132.1 243.4h0M130.1 235.2h0M151.8 225.1h0M131.6 233h0M129 235.6h0M142.6 227h0M146.2 226.1h0M137.5 226.4h0M135.3 227h0M144.9 226.7h0M152.6 234.8h0M134.2 227.9h0M134.9 229.2h0M153.5 242.5h0M152.9 234.4h0M153.7 232.1h0M131.4 229.2h0M137.2 227.9h0M136.3 226.8h0M153.6 238.9h0M152 242.6h0M135.3 226h0M130.1 237.3h0M130.6 239.5h0M152 234.2h0M140.8 225.4h0M145.3 228.1h0M137.4 224.4h0M150.4 235h0M148.2 225.9h0M153.3 234.5h0M155.3 243.1h0M132.6 234.2h0M149.6 227.8h0M147.8 227.8h0M127.1 236.6h0M132.8 225.6h0M131.9 237.9h0M149.6 230.2h0M150.3 228.5h0M132.7 225h0M150.2 235.3h0M131.1 228.6h0M131.3 233h0M131 231.5h0M130.5 243h0M135.9 225.8h0M147.5 228.4h0M151.5 241.8h0M140.5 226.4h0M150.6 237.5h0M149.2 228h0M136.1 227.7h0M131.1 244.5h0M144 227.8h0M149.9 232.4h0M142.2 226.5h0M151.3 235.6h0M154.8 240.6h0M140.9 225.2h0M149.1 228.3h0M152.3 230.2h0M132.7 233.1h0M145.1 227.1h0M130 240.3h0M150.6 226.7h0M141.1 224.5h0M131.7 240.9h0M135.7 225.9h0M130.1 230.4h0M135.5 224.1h0M144.9 226h0M152.9 242.9h0M129.7 240.1h0M135.8 228.2h0M150.7 234.9h0M150.7 237.5h0M152 239.3h0M152.4 241h0M142.4 225.8h0M133.5 232.6h0M131.4 240.1h0M141 226.4h0M136.2 224.9h0M155.6 242.7h0M147.6 223.9h0M128.7 237.4h0M132.3 228.3h0M152.4 228.1h0M149.4 230.1h0M133.4 223.2h0M130.1 231.7h0M134 226.3h0M153.1 244.2h0M148.7 226.4h0M145.9 227.6h0M129.3 240.4h0M150.5 229h0M140.9 224.9h0M128.6 230.7h0M132.5 228.4h0M144.1 227.9h0M139.2 228.3h0M132.2 239.4h0M152.8 234.8h0M144.8 227.1h0M145.2 227.8h0M143.9 223.4h0M130 235h0M136.8 225.6h0M141.8 225.9h0M151.3 234.9h0M152.2 239.7h0M153.3 235.7h0M139.7 226.2h0M132.6 236h0M143.2 226.9h0M148 229.5h0M131.3 233.6h0M143.1 224.4h0M152.7 244.5h0M149.1 225.6h0M145.1 226.2h0M128.6 227.5h0M133 235.3h0M133.1 233.6h0M148.5 226.9h0M138.1 224.8h0M146.4 225.6h0M138.6 226.5h0M147.5 227.8h0M134.8 225.5h0M142.7 226.5h0M131 228.8h0M145.4 225.9h0M142.9 220.7h0M137.2 224.3h0M129.8 241.9h0M130.3 230h0M130.6 235.3h0M154.2 242.8h0M144.1 224.8h0M130.8 238.1h0M131 243.9h0M132.8 239.7h0M141.8 226.8h0M133.7 232.1h0M131.4 230h0M149 230.3h0M152 241.6h0M135.7 226.1h0M150.1 229.5h0M129.7 232.5h0M148.9 223.7h0" stroke="#000" stroke-opacity="0.92" stroke-width="0.9" stroke-linecap="square" fill="none"/>
<path d="M141.2 200.7h0M139.2 210.3h0M149.9 212.8h0M149.9 217.5h0M145.2 208.3h0M149.9 204.2h0M142.7 220.4h0M145.1 220.7h0M146 206.3h0M144.8 210.8h0M149.3 220.4h0M151.3 211.2h0M141.9 209.7h0M144.7 213.7h0M145.6 217.2h0M143.1 213.8h0M137.9 205h0M146.7 205.5h0M144.9 217.4h0M144.6 213.5h0M148.4 211.5h0M148.1 210.5h0M150.2 214.1h0M146.7 203.1h0M141.4 232.4h0M147.9 209.7h0M145.4 222.4h0M145.7 205.9h0M145.8 212.4h0M144.6 219.1h0M142.2 209.9h0M146.9 214.6h0M151.8 214h0M146.6 212.5h0M149 215.4h0M151.9 214.1h0M142.6 212.6h0M145.7 215.6h0M147.5 214.2h0M149.8 220.1h0M142.2 214.8h0M144.2 209.1h0M150 210.2h0M143.9 228.8h0M147 220.4h0M144.3 210.1h0M153.3 206.8h0M146.5 209.6h0M145.2 216.5h0M148.2 209.4h0" stroke="#000" stroke-opacity="0.55" stroke-width="0.8" stroke-linecap="square" fill="none"/>
<text transform="translate(134.40,193.00) scale(0.86,1)" font-size="10.8" text-anchor="start" font-weight="bold">T</text>
<text x="139.10" y="196.50" font-size="8.2" text-anchor="start" font-weight="bold">N</text>
<rect x="37.9" y="249.6" width="66.70" height="64.60" fill="none" stroke="#000" stroke-width="0.9"/>
<line x1="59.30" y1="249.60" x2="59.30" y2="314.20" stroke="#000" stroke-width="0.75" stroke-linecap="butt"/>
<line x1="37.90" y1="293.00" x2="104.60" y2="293.00" stroke="#000" stroke-width="0.75" stroke-linecap="butt"/>
<path d="M35.10 314.20H37.90M36.22 309.34H37.90M36.22 306.49H37.90M36.22 304.48H37.90M36.22 302.91H37.90M36.22 301.63H37.90M36.22 300.55H37.90M36.22 299.62H37.90M36.22 298.79H37.90M35.10 298.05H37.90M36.22 293.19H37.90M36.22 290.34H37.90M36.22 288.33H37.90M36.22 286.76H37.90M36.22 285.48H37.90M36.22 284.40H37.90M36.22 283.47H37.90M36.22 282.64H37.90M35.10 281.90H37.90M36.22 277.04H37.90M36.22 274.19H37.90M36.22 272.18H37.90M36.22 270.61H37.90M36.22 269.33H37.90M36.22 268.25H37.90M36.22 267.32H37.90M36.22 266.49H37.90M35.10 265.75H37.90M36.22 260.89H37.90M36.22 258.04H37.90M36.22 256.03H37.90M36.22 254.46H37.90M36.22 253.18H37.90M36.22 252.10H37.90M36.22 251.17H37.90M36.22 250.34H37.90" stroke="#000" stroke-width="0.8" fill="none"/>
<path d="M37.90 314.20V318.20M42.92 314.20V316.60M45.86 314.20V316.60M47.94 314.20V316.60M49.56 314.20V316.60M50.88 314.20V316.60M51.99 314.20V316.60M52.96 314.20V316.60M53.81 314.20V316.60M54.57 314.20V318.20M59.59 314.20V316.60M62.53 314.20V316.60M64.61 314.20V316.60M66.23 314.20V316.60M67.55 314.20V316.60M68.67 314.20V316.60M69.63 314.20V316.60M70.49 314.20V316.60M71.25 314.20V318.20M76.27 314.20V316.60M79.21 314.20V316.60M81.29 314.20V316.60M82.91 314.20V316.60M84.23 314.20V316.60M85.34 314.20V316.60M86.31 314.20V316.60M87.16 314.20V316.60M87.92 314.20V318.20M92.94 314.20V316.60M95.88 314.20V316.60M97.96 314.20V316.60M99.58 314.20V316.60M100.90 314.20V316.60M102.02 314.20V316.60M102.98 314.20V316.60M103.84 314.20V316.60" stroke="#000" stroke-width="0.8" fill="none"/>
<path d="M78.8 313.9 78.9 309.7 79.1 307.4 79.1 305.5 78.6 303.8 79.1 301.8 78.8 300.4 78.7 299.1 78.7 298.1 78.5 296.8 78.4 295.7 78.2 295.1 78.3 294.2 78.1 293 77.4 292.5 77.3 291.6 77.3 291.1 77.1 290.2 76.9 289.8 76.4 289.2 76.4 288.8 76.1 288.1 76 287.7 75.6 287.7 75.3 287.4 74.3 287.2 74.6 286.4 73.8 286.2 73 286.6 72.8 286.3 71.6 286.1 70.5 286.3 69.4 286.7 68.8 286.5 68.8 286.6 68 287 67.8 286.8 67.7 287.2 67.2 287.6 66.9 288.4 66.6 288.7 66.2 289.3 65.8 290 65.9 290.3 65.8 290.9 65.1 291.9 64.9 292.4 64.6 293 65.1 294.3 64.5 295 64.8 295.8 64.6 296.8 64.5 298.2 64 299.4 64.4 300.6 63.8 302.1 64.1 303.8 63.6 305.6 63.5 307.2 63.7 309.9 64.1 313.8z" fill="#000"/>
<path d="M63.6 297.1h0M63.7 309.4h0M77.5 283.9h0M79.3 305.1h0M61.7 294.9h0M77.1 289h0M71.1 284h0M69.5 287h0M66 291.1h0M81.2 305h0M61.4 312.2h0M80 311h0M70.2 283.4h0M79.7 285.4h0M77.9 296.2h0M64.5 301h0M65.7 290.7h0M67.6 286.7h0M78 287.1h0M72.7 286.8h0M79.2 292.2h0M80.8 303.9h0M81.2 290.6h0M60.5 305.1h0M76.2 288.8h0M81.1 306.4h0M79.1 300.4h0M81.3 299.6h0M75.3 287.1h0M71.9 284.7h0M78.8 293.4h0M80.7 304.9h0M78.6 284.1h0M64.5 283.9h0M79.1 313.4h0M63.8 298.8h0M63.7 305.8h0M79.5 291.5h0M80.9 294.8h0M66.4 289.3h0M63.5 296.3h0M76.8 286.4h0M73.8 281.7h0M64.2 304.9h0M69.8 283h0M78 286h0M80.7 292.2h0M79.8 299h0M81.7 294.8h0M82.5 309.2h0M73.8 286.5h0M65.6 292.8h0M61 309.5h0M58.6 290.7h0M65 287.2h0M61.9 293.5h0M78.2 279.3h0M62.1 293.6h0M64 313.4h0M60.1 289.5h0M62.3 312.1h0M80 303.7h0M77.3 281.9h0M73.1 286.9h0M64.2 300.7h0M61.3 307.8h0M79.3 289.1h0M81.4 297h0M80.6 289.3h0M73.1 284.7h0M64.7 281.6h0M62.4 294.7h0M64.4 289.4h0M80.9 294.7h0M75.2 284.9h0M78.7 303.7h0M64.3 286.7h0M72.9 279.7h0M65.5 286.8h0M81.5 310.7h0M83.5 291.7h0M74.2 283.1h0M82 311.1h0M79.3 313.2h0M77.9 286.4h0M85.5 283.7h0M76.1 281.3h0M78.3 291h0M81.8 293.4h0M67.4 285.9h0M80.3 301.1h0M64.7 287.7h0M73.6 285.7h0M82.3 290.4h0M83.9 293.8h0M61.2 305.7h0M80.6 311.5h0M64.3 289.3h0M81.5 305.8h0M74.7 282.1h0M62.6 298.8h0M78.1 292.8h0M65.5 290.9h0M78.7 297.4h0M80 312.6h0M82.2 311.4h0M79.5 300.6h0M79.9 279.2h0M78.4 299.8h0M73.5 283.9h0M78.9 302.6h0M64.5 299.4h0M75.8 289.3h0M65.8 286.4h0M62.7 297.2h0M69.1 283h0M62.7 307.8h0M72.4 286h0M64.1 293.9h0M86.7 313.1h0M61.7 289.8h0M63 291.8h0M64.2 281h0M76.8 286.8h0M75.8 287.9h0M60.5 309.4h0M64.9 287.9h0M64 307.9h0M82.1 297.6h0M66.5 286.6h0M83.1 307.3h0M78 288.2h0M73.1 282h0M81.2 292.1h0M82.2 285.7h0M70.9 287.4h0M77.9 289.6h0M79.6 308.2h0M81.9 308h0M63.6 305.9h0M62.6 296.3h0M64.9 293.4h0M74.8 283h0M67.8 283.4h0M87.4 305.8h0M64.6 285.7h0M83.6 289.4h0M64.3 296.9h0M81.5 299h0M80.2 308.8h0M62.7 298.2h0M74.3 284.5h0M79.2 311.8h0M74.4 281.7h0M71.7 285.8h0M67.9 281.4h0M84.9 311.6h0M79.8 292h0M70.9 285.1h0M64.1 302h0M80.2 306.1h0M79.9 305h0M78.1 288.5h0M72.8 283.5h0M78.5 300.6h0M68 287.7h0M80.1 300.5h0M59.9 311.3h0M81.2 308.3h0M62.6 308.3h0M63.5 295.6h0M80.2 301.6h0M76.2 287.5h0M62.9 305.2h0M72.3 284.3h0M77 288.4h0M70 283.5h0M63.7 300.9h0M83.9 289.4h0M65.4 291.6h0M69.4 287.5h0M78.8 292.8h0M81.7 308.6h0M61.2 300.9h0M64.5 292.3h0M78.9 302.6h0M77.6 283.1h0M78 292.5h0M64.3 297.9h0M68.1 283.3h0M81.1 313.1h0M73.6 282.9h0M69.3 285.8h0M69.3 279.7h0M63.7 296.7h0M82.4 308.6h0M67.1 285.1h0M72.8 283.3h0M73 287.9h0M74.2 287.7h0M79.8 299.5h0M84.9 311h0M64 306.9h0M70.2 286.1h0M70.6 286.5h0M80 305.1h0M62 311.2h0M81.1 299.1h0M69.3 286h0M78.9 312.7h0M63.5 286.9h0M64.2 299.4h0M65.2 285.8h0M72.7 280.6h0M79.6 296h0M79.7 293.6h0M79.1 286.4h0M62.9 304.8h0M68.1 285h0M61.4 313.6h0M83 297.4h0M79.5 283h0M79.2 300.8h0M74.2 286.4h0M80.3 301.5h0M62.2 311.4h0M63.4 313.5h0M80.1 300.3h0M79.6 309.3h0M79.4 285.8h0M80.1 299.1h0M78.4 286.3h0M69.3 286.5h0M82.4 303.8h0M81.5 296.7h0M83.5 310.7h0M81.2 297.7h0M84.3 310.2h0M73 285.8h0M64.3 308.4h0M61.4 302.9h0M65.7 288.1h0M74.9 286h0M65.8 291.8h0M75.6 284.7h0M62 286.9h0M61.4 310.8h0M62.1 313.7h0M66.2 286.3h0M81.4 310h0M63.9 281.6h0M75.8 289.2h0M80.8 304.3h0M78.3 299.2h0M81.8 300.3h0M62 313.9h0M63.1 286.9h0M70.7 284h0M62.4 300.4h0M64.6 299.6h0M77.3 287.8h0M68.4 287.8h0M82.8 303h0M80.4 300.9h0M69.5 282.7h0M81.7 294.7h0M63.9 306h0M63.1 312.9h0M77.1 291h0M80.1 290.1h0M74 284.1h0M77.6 286.4h0M62.1 300.1h0M64.3 296.4h0M63.5 295h0M60.8 311.4h0M62.2 299.4h0M60.3 286.7h0M79.9 290.8h0M61 311.4h0M79 291.2h0M67.7 285.8h0M60.2 295.4h0M79.6 296.8h0M63.6 309.8h0M79.2 288.4h0M68.9 283.5h0M82.2 292.3h0M81.5 284.2h0M71.7 284.9h0M72.8 284.5h0M84.3 313.9h0M65 291.5h0M73.8 282.2h0M66.4 288.2h0M80.5 299.2h0M68.8 283.4h0M62.2 299.7h0M63.5 297.9h0M67.8 284h0M82.9 306h0M69.4 282.3h0M79.7 304h0M78.6 310.7h0M67.6 286.8h0M82.3 294.4h0M65.5 289.7h0M77.7 294h0M81 299.9h0M63.8 291.6h0M79.6 303.2h0M63 298.6h0M62.2 307.9h0M80.8 302.3h0M63.5 281.7h0M69.5 284.5h0M69.5 286h0M76.5 290.4h0M73.7 280.9h0M71.2 283.1h0M68.8 283.7h0M64.9 287.8h0M69.9 287.5h0M86.1 305h0M77.2 288.8h0M81.3 310.1h0M80.9 298.2h0M80.5 300.8h0M78.3 285.2h0M74.4 284.8h0M66.1 285.9h0M77.3 286.8h0M78.4 288h0M72.9 281.4h0M63.8 305.5h0M62.2 302.7h0M81.9 299.7h0M76.5 290.7h0M78.9 284.7h0M79.3 301.2h0M78.6 302.7h0M81.1 310h0M70.1 280.4h0M76 283.5h0M63 286.2h0M78.7 295.1h0M63.5 303.7h0M69.6 278.5h0M78.9 288.5h0M68.7 283.5h0M82.1 303.5h0M77.2 289.3h0M62.3 311.5h0M79.2 284.7h0M63.6 298.4h0M66.2 282.5h0M61.2 303.8h0M78.6 282.7h0M63.8 295.6h0M76.7 290.5h0M81 298.9h0M76.1 287.8h0M80.8 313.6h0M81.7 277.2h0M62.5 301.3h0M75.7 284.2h0M76.4 288.9h0M71.5 285.3h0M64.5 292.1h0M62.7 290.4h0M80.4 300.9h0M79.3 299.4h0M80.3 290.6h0M81.9 307h0M81 295h0M79.4 303h0M79.1 280.1h0M62.7 308h0M76.9 285.7h0M67.3 286.9h0M82.9 301.6h0M64.2 300.2h0M77.8 288h0M63.5 301.4h0M81.6 284.5h0M75.2 282.7h0M80.6 300.7h0M74.7 283.4h0M78.7 302h0M72.8 283.6h0M63.5 294h0M64.4 283.2h0M78.9 311.2h0M60.8 299.3h0M80.8 298.5h0M64.1 310.1h0M76.3 276.6h0M79.8 293.3h0M63.8 308.6h0M79.2 301h0M79.7 302.8h0M80.1 296.4h0M78 285.5h0M63.3 300.5h0M80.6 308.1h0M81.1 305.5h0M83.7 302.9h0M79.6 307.6h0M80.3 308.5h0M78.4 291.5h0M72.6 285.7h0M79.8 311.5h0M76.6 290.2h0M62.6 291.4h0M84.6 299.3h0M62.3 297.1h0M77.8 291h0M62.9 293.4h0M74.3 277.6h0M74.7 284.3h0M81.2 291.1h0M67.4 282.6h0M81.3 310.2h0M65.7 278.3h0M84.8 313h0M72.8 280.9h0M80.4 286.9h0M57.7 286.7h0M78.7 285.8h0M80.3 312.7h0M62.6 312.5h0M79.2 306.4h0M68.7 287.9h0M81.2 297.7h0M68.8 278.9h0M62.5 281.5h0M67.9 281.7h0M81.3 286.9h0M79 292.3h0M76.1 288.4h0M63.6 311.2h0M62.7 299.9h0M70.7 285.2h0M78.5 297.5h0M66.6 285.9h0M63.4 312.6h0M82 303.4h0M81.3 291.2h0M79.7 309.8h0M75.9 284.4h0M80.9 307.5h0M80.9 312.1h0M85.2 309h0M64.4 288h0M69.3 281.9h0M64.2 292h0M80.5 303.6h0M78.1 288.6h0M81.5 294.5h0M71 286.1h0M80.1 310.9h0M61 307.3h0M73.5 283.8h0M70.2 287.7h0M77.8 293h0M64 299.4h0M80 309.3h0M78.8 292.4h0M63.2 304.3h0M75.6 285.5h0M67.6 281.8h0M68.5 286.2h0M70.6 282.7h0M66.7 289.3h0M63.9 294.6h0M76.3 285.1h0M83.3 312.4h0M69 282.8h0M79.9 306.4h0M64.8 295.8h0M78.6 296.3h0M70.2 287.3h0M69.9 282.1h0M62.7 297.2h0M71.2 282.9h0M61.6 295.8h0M74.4 285.4h0M61.3 301.8h0M80 293.9h0M80.5 303.8h0M63.6 286.9h0M78.9 284.9h0M76.9 282.4h0M73 284.3h0M67.6 286.8h0M80 298h0M73.7 286.2h0M79.6 309.1h0M61.6 308h0M83 297.2h0M65.4 291.9h0M78.7 308.9h0M80.2 296h0M63.2 298.7h0M79.9 292.2h0M79 312.9h0M74.2 286.5h0M71.9 287.4h0M67.1 286.9h0M63 302.4h0M78.2 296.5h0M61.1 312.6h0M67 288.6h0M73.8 280.6h0M79.6 304.6h0M79.7 305.9h0M65.5 287.9h0M84.1 294.7h0M68.4 281.8h0M79.7 293.8h0M64.2 295.2h0M81.1 298.4h0M80.7 292.4h0M79.1 307.5h0M71.8 282h0M66.6 287.1h0M78.8 291.8h0M82.2 310.4h0M79.9 305.6h0M72.7 281.5h0M70.8 285.4h0M78 287.8h0M80 293.5h0M80.3 284.9h0M77.5 291.5h0M80.5 312.7h0M77.4 285.6h0M69.7 286.8h0M79.4 281.4h0M79.5 291.8h0M79.7 307.3h0M64.7 290.9h0M74.8 286.9h0M65.8 285h0M80.3 299h0M65.7 290.1h0M75.2 288.7h0M65.4 288.8h0M64.2 292.5h0M74.3 286.5h0M78.9 298.1h0M77.6 290.8h0M67.1 284.5h0M71.9 285.1h0M80.4 297.4h0M78 297.4h0M78.6 289.7h0M78.7 280.1h0M61.9 293.9h0M66.4 285.7h0M78.1 291.2h0M62.4 298.9h0M70.7 284.7h0M73.4 284.5h0M79.5 299h0M64.2 293.3h0M70.9 278.8h0M79.6 296.8h0M78.6 287h0M82.4 284.5h0M57.3 309.4h0M74.9 284h0M63.5 312.6h0M77.6 293.7h0M78.7 312h0M72.9 283.8h0M59.6 302.7h0M76.4 287.2h0M63.1 312.8h0M80.5 299h0M73 279.8h0M64.4 292.7h0M83.2 305.9h0M60.5 306.2h0M80.7 312h0M63.2 283.9h0M83.8 308.1h0M79.7 305.2h0M66.8 288h0M77.7 291h0M67.6 283.8h0M77.2 292.4h0M61.2 299.2h0M75.7 288.5h0M66.8 288.3h0M80 292.4h0M64.5 291.7h0M64 313.4h0M66.1 287.1h0M80.4 303.5h0M63.9 302.1h0M80.2 298.9h0M85.5 296.2h0M67.9 283.2h0M82.1 303.2h0M75.1 284.7h0M85.9 306.5h0M63.6 308.1h0M71.5 285.1h0M65 294.2h0M79.2 296.9h0M66.8 285.2h0M72.9 285.7h0M75.6 281.6h0M72.4 283.5h0M67.9 283.1h0M64 284.8h0M68.3 283h0M70.9 282h0M79 302.1h0M72.1 282.9h0M74.5 281.1h0M62.5 304.6h0M84.6 300.9h0M72.9 286.3h0M70 286.6h0M79.9 293.2h0M64.8 294.1h0M78 283.6h0M77 290.2h0M78.4 300.8h0M80.2 288.3h0M80.5 294.3h0M79.4 302.9h0M61.4 305.1h0M65.7 291.9h0M61.4 297.8h0M71.1 281.9h0M74.4 287.8h0M62.4 311.3h0M72.1 281.4h0M75.4 288.1h0M63.2 302.8h0M63 288.9h0M68.8 284.1h0M60.5 312.8h0M73.1 284.7h0M62.9 309.6h0M64 287.9h0M81.5 299.4h0M71.5 277.3h0M80.8 299h0M63.3 310.7h0M82.7 304.6h0M65 294.7h0M62.3 303.5h0M80 286.9h0M75.7 289.3h0M65.2 287.5h0M62.2 310.1h0M70.4 275h0M60.7 298.1h0M80.7 300.9h0M68 286.1h0M79.9 290.8h0M79 285.2h0M74.9 286.4h0M63.3 309.1h0M77.1 285.3h0M79.7 296.5h0M79.6 312.1h0M61.5 309.8h0M80.3 297.6h0M62.4 293.9h0M72 281.6h0M65.5 290.8h0M61.9 303h0M74.4 286.3h0M78.9 307.8h0M67.9 282.8h0M77.4 285.7h0M79.3 296.8h0M73.8 283.4h0M69.1 287.8h0M79.8 288.9h0M68.4 283.2h0M78.5 301.2h0M71.5 287.2h0M70.2 282.9h0M68.1 282.8h0M78.3 299.6h0M76.2 283h0M69.3 284.6h0M78.6 292.1h0M80.1 293.7h0M64.4 286.3h0M78.9 289.8h0M63.1 286.5h0M78.4 294.4h0M79.9 285.3h0M74.7 281.7h0M78 290.4h0M62.1 301.9h0M79.1 288h0M81.7 312h0M63.3 290.2h0M72 281.2h0M65.8 288.8h0M72 286.1h0M80.3 276.5h0M81.1 310.7h0M80 312h0M67.6 280.4h0M69.3 282.3h0M79.6 307.6h0M71.3 283.1h0M74.5 284.8h0M82.2 289.8h0M80 294.6h0M79 308.9h0M61.5 307.7h0M69.3 283h0M75.7 278.2h0M80.8 301.1h0M70.3 282.9h0M82.3 286.7h0M77.1 287.3h0M64.9 291h0M81.3 295.6h0M72.5 285.2h0M79.5 302.7h0M82 311.7h0M64 303.4h0M75 285.3h0M71.6 282.9h0M76 286.8h0M79.5 305.2h0M80.3 287.3h0M61.9 303.7h0M82.8 285.7h0M79.5 306.9h0M65.6 288.1h0M68.1 282.9h0M77.7 291.6h0M78.3 289.8h0M73.8 286h0M58.2 300.5h0M63.9 296.8h0M77.9 280.1h0M86.5 293.4h0M77.5 293.8h0M62.2 310.7h0M62.3 306.9h0M82.6 298.4h0M62.8 305.2h0M67.3 287.1h0M78.7 286.6h0M62.2 296.7h0M77.7 290.8h0M61.1 303.2h0M80.8 296.9h0M77.7 289.1h0M82.5 299.9h0M78.1 294.7h0M79.8 307.6h0M74.1 286.2h0M79.4 280.3h0M67.7 288.2h0M76.4 285.3h0M75.6 284.6h0M78.3 283.8h0M65 289.4h0M78.7 311.2h0M84.7 301.3h0M81.7 288.2h0M79.2 301.9h0M62.8 304.2h0M73.8 282.3h0M61.7 306.4h0M64 304.9h0M80.2 309.9h0M63.5 287.6h0M78.3 299.7h0M78.8 296.3h0M78 289.3h0M81 299.6h0M62.8 305.1h0M65.2 292h0M71.8 283.3h0M65 289.2h0M70.1 284.8h0M78.5 301.5h0M81 307.7h0M79.5 309.1h0M64.9 294.7h0M76.5 281.4h0M79.6 285.4h0M63.7 302h0M65.1 285h0M69.2 282.4h0M82.7 308.6h0M64 310.6h0M78 290.4h0M79.6 292.1h0M71.5 281.3h0M78.3 292.1h0M60.2 308.3h0M65.1 285h0M61.9 293.8h0M78.5 308.6h0M75.8 289.6h0M79.7 307.5h0M79 294h0M66.5 283.9h0M65.3 282.4h0M78.9 293.1h0M73.3 283.9h0M60.9 283.2h0M80.4 287.1h0M62.5 312.4h0M78.4 294.9h0M80.1 288.3h0M71.2 281.9h0M64.2 291.8h0M79.9 298.1h0M70.9 281.3h0M73.5 285.1h0M62.5 297.9h0M67.8 287h0M82.6 308.9h0M65.6 287.7h0M74.2 281.7h0M67.2 289.2h0M80.1 312.2h0M79.1 311.2h0M65.6 289.6h0M70 287.1h0M71.3 282.6h0M80.8 287.4h0M72.1 286.7h0M63.9 287.7h0M77.6 287.5h0M72.4 285.2h0M64.5 301h0M77.7 294.4h0M78.4 300.9h0M73.7 285.7h0M63.1 302.7h0M63.6 311.9h0M78.4 296.6h0M81.1 285.4h0M60.7 295.2h0M79.9 301.9h0M66.5 288.4h0M73.6 282.8h0M79.7 312.6h0M80.1 302h0M63 310.2h0M67.2 285.6h0M76.6 288h0M79.3 311.3h0M73.9 288h0M79.8 310h0M69.5 284.6h0M79.5 306.7h0M76.1 282.5h0M77.2 291.4h0M80.9 306.3h0M79.1 306.2h0M80.8 296.4h0M65.5 289.8h0M86.1 294.8h0M81.3 311.9h0M73 287.8h0M59.9 286.4h0M75.2 280.5h0M77.9 285.5h0M64.9 293.7h0M80.9 293.6h0M75.5 282.7h0M80.3 289.7h0M64 291.1h0M72.8 282.8h0M76.6 284.3h0M82.2 311.4h0M76.7 289.9h0M64.8 295.3h0M81.3 307.2h0M76 286.4h0M81.8 302.6h0M64.8 290h0M77.9 283.5h0M71.5 286h0M70.8 287.6h0M80.5 291.6h0M77.6 286.8h0M68.7 286.9h0M77.8 287.4h0M63.1 313.5h0M78.8 302h0M81.4 306.8h0M65.8 288.3h0M71.3 281.9h0M73.6 284.7h0M78.4 301.7h0M71.8 285.8h0M61.5 312.7h0M81.2 285.9h0M79.8 300.8h0M77 290.5h0M67.8 288.2h0M78.7 298.6h0M78.5 280.9h0M61.5 304.6h0M82.3 308.9h0M81.9 307.1h0M77.2 289.2h0M62.4 294.5h0M76 284.6h0M63.3 284.6h0M81.5 304.3h0M74 284.9h0M69.1 282.9h0M78.7 293.7h0M82.9 297.2h0M80.4 284.9h0M75.8 288.5h0M65.8 286.9h0M63.7 296.9h0M79.8 300.8h0M80.7 308.4h0M81.6 307h0M81.9 307.9h0M83.2 311.3h0M81.4 294.4h0M61.5 298.7h0M60.3 301.1h0M57.9 304.9h0M83.4 298.5h0M76.2 288h0M79 278.5h0M83.5 306.8h0M83.3 286.9h0M82.1 299.5h0M62.7 291h0M61.7 307.3h0M77.2 290.5h0M75.2 282.6h0M78.7 309.2h0M81.6 287.6h0M73.6 283.4h0M61.4 291.7h0M63.5 301.6h0M70.5 283.2h0M78.8 312.6h0M62.8 283.2h0M74.4 284.9h0M61.1 304.2h0M78.7 297.5h0M76 287.6h0M70.1 287.3h0M64.2 305h0M63 297.8h0M79.7 285.2h0M81.2 303.5h0M80.2 291.5h0M62.9 287.3h0M70.8 282.8h0M60 307.7h0M66.3 287.9h0M79.2 294.4h0M78.9 296.6h0M80.3 302.2h0M80.9 296.4h0M71.2 280.2h0M84.3 306.5h0M69.8 284.5h0M74.1 287.6h0M64.5 295h0M64.1 310.8h0M79.7 297.3h0M78.8 307.4h0M75.1 286.6h0M66.4 285.9h0M64.1 294.9h0M62.7 309.2h0M73 284.6h0M63.5 303.2h0M72.6 284.8h0M65.5 290.5h0M81.2 312.8h0M81.1 287.3h0M80.7 303.3h0M85.3 294.5h0M64 306.6h0M80.2 301.3h0M80.5 313.1h0M70 281.9h0M75.2 283.9h0M75.9 285.1h0M79 309.2h0M67.4 280.5h0M81.9 307.7h0M81.8 310.3h0M78.6 289.7h0M63.1 298.9h0M84.1 310.2h0M61.8 298.8h0M81.4 282.4h0M78.7 308.4h0M71.9 285.4h0M78.2 286.2h0M84.7 311.8h0M75.8 285.4h0M78.7 285.5h0M61.3 307.6h0M64.7 296.5h0M81.1 303.5h0M79.7 297h0M59.6 296.9h0M62.1 292.6h0M62.3 308.8h0M71.3 281.4h0M69.5 284.7h0M70.9 286.8h0M81 310.4h0M81.4 306.9h0M81 303.4h0M78.7 313.3h0M78.3 288.8h0M68.3 287.8h0M78.1 297.8h0M77.6 282.6h0M84.7 281.9h0M81.3 301.1h0M78.7 301.3h0M80.5 284.6h0M81.8 289.1h0M63 289.6h0M74 281.4h0M80.1 291.6h0M78.9 296h0M71.3 284.5h0M81 310h0M64 291.4h0M78.3 285.7h0M64.1 294.3h0M79.5 281.3h0M76.6 289.5h0M73.8 287.1h0M80.7 307h0M80 306.3h0M79.8 295.8h0M81.3 308.9h0M75.8 287.2h0M62.8 307.9h0M79.4 281.9h0M78.3 288.6h0M66.3 283.3h0M82.7 312.7h0M78.7 307h0M78.2 293.5h0M63.9 297.9h0M81.1 309.6h0M68.5 285.4h0M64.3 308.9h0M76.5 290.7h0M63.6 295.6h0M68.9 285.1h0M84.3 309h0M64.1 290.1h0M80.5 312.9h0M81.8 309.8h0M66.5 284.8h0M78.7 308.9h0M80.1 279.5h0M80.7 303.4h0M80.4 313.6h0M74.4 287.7h0M80.5 299.8h0M75.1 283.9h0M73.7 284.7h0M62.1 305.6h0M70.4 281.7h0M74.7 279.9h0M61.9 313.2h0M80.9 307h0M79.5 292.4h0M63.3 292.6h0M63.8 287.1h0M66.1 287.7h0M79.6 296.7h0M79.9 309.9h0M81.1 304.1h0M64 295.9h0M74.9 282.7h0M79.9 287.8h0M67.6 287.9h0M63.4 313.5h0M61.7 307.6h0M79.9 305.7h0M63.4 309.5h0M79 300.9h0M60.2 292.5h0M79.3 303.8h0M67 288.6h0M80.3 293.9h0M77.7 280.7h0M66.1 283.8h0M78.8 283.3h0M78.9 296.9h0M74.4 282.7h0M68.4 288h0M64.3 294.8h0M81.6 293.4h0M67.8 287.1h0M78.3 298.8h0M82.9 308.8h0M61.9 292.3h0M68.8 287.6h0M62.6 294.5h0M62.8 307h0M63.3 299h0M82.2 309.2h0M60.2 307.9h0M69.6 283.6h0M78.8 279.1h0M70.4 281.5h0M70.3 284.1h0M67.3 285.6h0M64.7 294h0M76.9 285.1h0M75.1 286.4h0M71.9 286.6h0M79.2 285.2h0M77.5 293.2h0M67.7 288.5h0M80.1 311.4h0M61 312.8h0M64.4 292.7h0M82.2 307.9h0M81.9 308.4h0M80.9 307.9h0M65.4 291.3h0M80.6 303.5h0M80.4 294.1h0M79.7 308.4h0M80.2 304h0M77.6 285.5h0M72.3 287.5h0M79.6 311.4h0M79.3 297.6h0M78.7 294.6h0M74.1 282.2h0M62.1 299.7h0M86.1 286.5h0M78.6 303.1h0M72.3 280.7h0M78.9 310h0M63.3 301h0M62.1 300.5h0M82.3 307.3h0M80.2 312.1h0M79.9 295.7h0M72.3 287.1h0M61.7 310.9h0M62.8 292.6h0M69.3 286.8h0M81.3 297.4h0M79.5 291.4h0M64.8 290.3h0M61.2 310.2h0M79.3 297.4h0M72 287h0M80 302.6h0M73.7 284.4h0M76.7 282.5h0M61.8 302.4h0M82.5 306.5h0M74 286h0M80.8 290h0M66.7 287.3h0M79.4 286.6h0M78.5 285.7h0M77.4 291.8h0M77.7 285.3h0M78.8 308.5h0M78.7 312.4h0M71.7 282.3h0M70.9 285.5h0M71.1 283.8h0M63 304.4h0M83.3 305h0M83.6 307.4h0M61 304.9h0M63.3 284h0M65.8 287.6h0M64 303.1h0M80.2 309.5h0M79.7 308.4h0M62.7 308.3h0M64.9 292.7h0M78.5 305.8h0M69 283.4h0M76.3 290.2h0M76.2 287h0M82.6 308.1h0M64.4 297.6h0M80.5 311.8h0M81.1 307h0M74.9 286.5h0M81.6 311.9h0M71.4 287.6h0M79.6 308.3h0M73.9 283.3h0M79 299.6h0M76.3 286.9h0M64.6 295.7h0M67.5 287.3h0M74.1 288h0M76.8 283.6h0M83.3 303.9h0M62.8 300.2h0M67.9 284.1h0M62.4 300.3h0M63.4 299.6h0M63.5 303.5h0M62.8 309.2h0M60.2 311h0M75.2 284h0M78.1 295h0M78.8 301.4h0M68 287.2h0M81.4 310.1h0M63.9 297.3h0M79.1 301.7h0M80 294.7h0M81.6 312.9h0M82.3 309.7h0M75.8 287.5h0M75 286.2h0M80.8 299.7h0M63.3 303.8h0M78.6 302.9h0M76.8 282.3h0M67.7 286.9h0M69.7 284.1h0M63.4 291.9h0M80.3 288.3h0M71 284.7h0M81.8 303.1h0M68.5 283.1h0M63.4 299.4h0M71 283.2h0M81.7 306.3h0M66.7 289.4h0M63.9 312.6h0M63.9 282.6h0M61.5 282.2h0M79.6 302.2h0M80 312.8h0M79.7 308h0M84.2 307.8h0M64.2 309h0M60.9 292.8h0M74.8 285.4h0M71.4 284.2h0M74 281.7h0M63.8 304.8h0M79.3 294h0M67.5 284.3h0M87.9 297.1h0M73.9 286.5h0M84 307.6h0M61 295.9h0M80.3 311.5h0M78.8 294.4h0M80.3 296h0M64.7 284.5h0M78.7 287h0M79.5 309.9h0M66.6 287.4h0M65.4 288.5h0M77 282.9h0M78.9 300.5h0M64.3 286.4h0M80.6 305.3h0M75.7 287.3h0M64.7 277.7h0M77.5 292.7h0M77.2 282.6h0M70.3 280.5h0M72.4 281.4h0M80.9 296.9h0M81.1 308.6h0M82.2 303.6h0M81.7 312.7h0M74.4 281.1h0M78.8 287.5h0M72.6 283.5h0M83.6 283.9h0M84.6 313.4h0M73.3 285.5h0M80 293.1h0M64.7 285.2h0M79 290.4h0M79.2 306.5h0M81.7 308.1h0M68.7 281.2h0M66.4 286.6h0M79.9 291.6h0M72.6 280h0M62.9 298.6h0M62.2 304h0M69.2 287.5h0M73.8 283.3h0M81 311h0M77.6 293.1h0M78.7 297.3h0M79.8 289.9h0M70.2 285.9h0M78.7 289h0M79.8 306.7h0M71.6 284.7h0M75.3 288.4h0M76.4 281.6h0M72.8 282.5h0M79.6 309h0M77.5 293.9h0M62.4 283.9h0M73.3 285h0M73.4 286.2h0M81.8 308.6h0M62.5 291.3h0M76.2 284.2h0M66.4 286.1h0M82.2 305.1h0M70.6 285.4h0M63.1 311.1h0M78.6 312.6h0M68.5 284.8h0M62 308.8h0M76.4 285.8h0M69.6 282.2h0M72.1 279.9h0M63.3 307.9h0M61.2 311.2h0M78.5 293.4h0M59.3 296.4h0M64.4 283.4h0M80.5 313.4h0M60.4 287.9h0M82 300.3h0M76.2 288.5h0M74.3 284.4h0M80.4 292.5h0M79.1 296.1h0M61.5 292.9h0M80.8 295.3h0M64.2 302.1h0M72.9 282.6h0M79.7 288.9h0M64.3 302.8h0M82.2 290h0M70.7 287.4h0M62.9 309.1h0M64.5 299.2h0M80.7 293.9h0M65.5 287.3h0M69.8 286.4h0M63.7 311.7h0M55.2 283.4h0M67.3 285.9h0M68.4 287.5h0M79.6 306.1h0M81 292.9h0M65.5 288h0M63.7 306.3h0M70.4 285.4h0M62.7 309.3h0M65.2 284.8h0M71.8 284.9h0M76.4 281.5h0M81.3 313.8h0M76.7 286.9h0M63.7 308.7h0M80.8 312.2h0M78.9 290.8h0M62.6 297.3h0M60.5 303.4h0M63.7 309.6h0M81.4 300.6h0M58.9 299.1h0M74 284.5h0M75.6 285.4h0M78.9 305.5h0M61.3 312.8h0M83.5 308h0M73.2 281.2h0M80.9 295.4h0M80.9 308.6h0M67 278.9h0M81.4 303.7h0M65.2 286h0M63.4 310.6h0M63.1 305.6h0M65.5 282.4h0M69.9 279.8h0M64.2 308.8h0M64.9 293.4h0M79.4 298.5h0M83.1 298.9h0M79.8 293.8h0M80.7 274.8h0M79.6 295.9h0M83.9 301.4h0M73.5 282.9h0M79.3 313.3h0M79.6 306.5h0M63.5 311.8h0M73.2 285.6h0M78.6 298.4h0M74 285.9h0M62.7 289.2h0M61.7 300.3h0M75.6 282h0M69 280.2h0M81.5 310.9h0M63.4 303.2h0M84.4 299.9h0M62.8 287.7h0M76.2 287.1h0M78.5 300.2h0M71.6 286.4h0M80.7 312.1h0M80.4 295.3h0M69.3 282.7h0M81 301.7h0M65.4 293.8h0M63.3 310.7h0M76.5 284.5h0M79.3 294.1h0M79.8 300.5h0M77.9 290.1h0M80.1 302h0M80 300.9h0M79.4 291.6h0M79.8 311.8h0M78.6 296.5h0M68.4 284.2h0M62.2 297.5h0M75.6 286.8h0M74.3 286.7h0M80.1 286.6h0M79.8 312.2h0M70 282.3h0M61.3 311.6h0M68.4 287h0M80 312.7h0M81.3 295.7h0M80 278.7h0M77.6 292.1h0M74.8 286.2h0M61.4 289.6h0M61.7 301.4h0M75.5 288.1h0M58.9 298.8h0M81.5 304.7h0M68.1 282.9h0M67 284.3h0M60.8 296.2h0M81.9 313.4h0M79.8 303.2h0M62.4 310.4h0M80.9 282.1h0M78.6 312.4h0M82.5 308.2h0M71.1 286.1h0M62.7 301.8h0M82.2 292.9h0M64.4 282.2h0M79.4 284.1h0M74.4 286.7h0M67.3 284.6h0M82.9 308.7h0M78.3 299.5h0M76 286.4h0M62.9 311.7h0M62.1 289.8h0M77.2 285.3h0M71.2 282.4h0M70.9 285h0M60.9 306.6h0M62.9 305.6h0M79.5 288.7h0M61.6 301.8h0M78.2 292.7h0M79.8 303h0M83 301.5h0M68.4 287.6h0M80.8 288.9h0M76.4 290.4h0M69 283.9h0M76.2 283.2h0M75.4 287.5h0M74.1 283.3h0M75.3 287.6h0M62.8 301.8h0M81.1 295h0M61.7 298.7h0M82.4 291.9h0M79 296.5h0M62.3 299h0M78.3 298.4h0M65.7 291.4h0M70.2 284.8h0M81.5 311h0M78.9 295.6h0M80.3 309.9h0M64.3 296.5h0M73.4 287.8h0M85 298.5h0M63 306h0M64.8 290.4h0M84.1 310.8h0M79.1 306.3h0M60.6 312h0M78.9 284.8h0M81.3 299.6h0M78.6 299.4h0M62.6 301.8h0M71 286.2h0M79.5 300.8h0M71.7 282.9h0M70.3 286.1h0M78.7 300.7h0M78.4 288.9h0M80.8 312.6h0M61.5 299.2h0M78.9 285.3h0M77.5 287.3h0M78.1 287h0M71.8 284.6h0M75.4 287.9h0M77.3 289.7h0M64.2 301.9h0M62.7 312.7h0M64.1 287.4h0M83.9 307.9h0M76 284.5h0M80 287.8h0M65.5 282.8h0M64.1 308.6h0M78.6 306.1h0M78.3 300.9h0M82.2 302.9h0M60.3 296.4h0M63 291.8h0M63.6 298.8h0M78.7 310.4h0M62 300.2h0M78.7 296.5h0M80.1 299.2h0M80.6 312.6h0M62 291.8h0M78.9 287.3h0M82.5 291.2h0M64.8 289.5h0M80.6 291.3h0M81.8 299h0M78.6 289.4h0M69 280h0M77.7 290.4h0M79.8 302h0M79 313.4h0M78.4 284.5h0M78.2 293.6h0M62.2 291.3h0M66.4 283.1h0M80.2 293.1h0M66.2 290.6h0M65.5 286.3h0M78.1 289.2h0M67.9 282.6h0M81.3 310.7h0M69.1 284.3h0M78.8 287.4h0M80.7 287.4h0M68.4 286.4h0M74.9 281.7h0M79.7 294.3h0M73.2 285.8h0M63 298.7h0M63.4 293.1h0M64.5 300.7h0M77 288.2h0M81.4 308.1h0M68 285.5h0M60.6 309.9h0M61.7 303.6h0M61.6 299.2h0M76.4 286.6h0M84 302.6h0M72.2 287.7h0M71.3 286.2h0M79.5 290.3h0M76.3 289.2h0M79.4 303.5h0M62.3 304.6h0M79.8 293h0M64.7 293.4h0M66.1 286.3h0M82.1 299h0M63.9 298.2h0M65.8 284.5h0M79.4 308.3h0M80.3 295h0M73.1 278.5h0M79.4 289.7h0M70.2 284.2h0M63.8 303.9h0M78 291.8h0M63.2 305.6h0M77.9 284.7h0M81.5 291.2h0M68.8 280.2h0M78.5 300.6h0M66.2 284.8h0M82.2 308h0M79.1 295.3h0M81.4 299.4h0M75.1 287h0M74.5 285.1h0M82.8 274.5h0M70.9 287.6h0M63.5 297.9h0M81.1 305.9h0M83 286.7h0M81.5 309.1h0M58.7 294.8h0M80.1 288.6h0M82.4 297.4h0M70.7 280.8h0M71.1 286.3h0M61.3 294.5h0M83.3 313.6h0M74.2 282.1h0M74.7 281.5h0M64.3 296.9h0M77.5 286h0M80.2 294.4h0M62.7 292.3h0M65.8 282.4h0M82.7 285.8h0M71.5 281.6h0M67.4 284.2h0M79.6 279.8h0M80.2 305.8h0M77.3 285.3h0M80.4 301.5h0M81.7 307.7h0M63.1 300.8h0M59.9 297.1h0M64.2 281.9h0M79.8 294.3h0M75.5 288.5h0M72.3 284.5h0M78.7 291.1h0M72.5 281.1h0M62.8 299.9h0M83.1 285.6h0M63.3 300.9h0M86.1 304.9h0M79.2 291.4h0M80.8 282.8h0M62.9 291.1h0M64.7 297.3h0M62.7 303h0M71.9 287.6h0M80.6 308.1h0M81.1 306.3h0M68.7 285.8h0M77.6 282.9h0M63.4 300h0M69 286.8h0M69.3 284.6h0M75.6 280.5h0M70.6 286h0M59.9 296.8h0M60.1 294.7h0M68.8 287.8h0M79.7 299.9h0M79.5 301.2h0M76.1 284.1h0M67.4 281.3h0M80.7 301.7h0M79.3 289.8h0M59.3 290.2h0M63.6 312.3h0M76.8 291.2h0M70.2 284h0M80 293h0M79.9 293.5h0M77.7 289.1h0M71.2 281.3h0M82 288.8h0M66.9 287.8h0M66.4 286.2h0M80.2 294.4h0M79.7 309.3h0M64.3 301.2h0M70.6 285.1h0M81.3 294.5h0M78.7 281.8h0M80.7 299.9h0M71.8 278.6h0M76.4 284.4h0" stroke="#000" stroke-opacity="0.92" stroke-width="0.9" stroke-linecap="square" fill="none"/>
<text transform="translate(64.00,260.40) scale(0.86,1)" font-size="10.8" text-anchor="start" font-weight="bold">T</text>
<text x="68.70" y="262.80" font-size="8.0" text-anchor="start" font-weight="bold">EM</text>
<rect x="109.4" y="250.7" width="66.20" height="63.50" fill="none" stroke="#000" stroke-width="0.9"/>
<line x1="131.60" y1="250.70" x2="131.60" y2="314.20" stroke="#000" stroke-width="0.75" stroke-linecap="butt"/>
<line x1="109.40" y1="292.90" x2="175.60" y2="292.90" stroke="#000" stroke-width="0.75" stroke-linecap="butt"/>
<path d="M106.60 314.20H109.40M107.72 309.42H109.40M107.72 306.63H109.40M107.72 304.64H109.40M107.72 303.10H109.40M107.72 301.85H109.40M107.72 300.78H109.40M107.72 299.86H109.40M107.72 299.05H109.40M106.60 298.32H109.40M107.72 293.55H109.40M107.72 290.75H109.40M107.72 288.77H109.40M107.72 287.23H109.40M107.72 285.97H109.40M107.72 284.91H109.40M107.72 283.99H109.40M107.72 283.18H109.40M106.60 282.45H109.40M107.72 277.67H109.40M107.72 274.88H109.40M107.72 272.89H109.40M107.72 271.35H109.40M107.72 270.10H109.40M107.72 269.03H109.40M107.72 268.11H109.40M107.72 267.30H109.40M106.60 266.57H109.40M107.72 261.80H109.40M107.72 259.00H109.40M107.72 257.02H109.40M107.72 255.48H109.40M107.72 254.22H109.40M107.72 253.16H109.40M107.72 252.24H109.40M107.72 251.43H109.40" stroke="#000" stroke-width="0.8" fill="none"/>
<path d="M109.40 314.20V318.20M114.38 314.20V316.60M117.30 314.20V316.60M119.36 314.20V316.60M120.97 314.20V316.60M122.28 314.20V316.60M123.39 314.20V316.60M124.35 314.20V316.60M125.19 314.20V316.60M125.95 314.20V318.20M130.93 314.20V316.60M133.85 314.20V316.60M135.91 314.20V316.60M137.52 314.20V316.60M138.83 314.20V316.60M139.94 314.20V316.60M140.90 314.20V316.60M141.74 314.20V316.60M142.50 314.20V318.20M147.48 314.20V316.60M150.40 314.20V316.60M152.46 314.20V316.60M154.07 314.20V316.60M155.38 314.20V316.60M156.49 314.20V316.60M157.45 314.20V316.60M158.29 314.20V316.60M159.05 314.20V318.20M164.03 314.20V316.60M166.95 314.20V316.60M169.01 314.20V316.60M170.62 314.20V316.60M171.93 314.20V316.60M173.04 314.20V316.60M174.00 314.20V316.60M174.84 314.20V316.60" stroke="#000" stroke-width="0.8" fill="none"/>
<path d="M148.9 289.4h0M146.5 298.5h0M139.7 290.6h0M146.5 308.1h0M142.9 309.6h0M146 301.9h0M141.1 294.4h0M142.5 298.3h0M143.5 295.4h0M139.5 301.1h0M143.8 312.7h0M140.9 301.3h0M139 298.5h0M146 305.1h0M145.5 303.1h0M151 313.1h0M138.2 295.8h0M140 300.3h0M144.3 303.6h0M146.6 302h0M140.8 299.1h0M143.5 301.7h0M146 304.4h0M140.6 304.4h0M141.8 300.9h0M146.1 302.8h0M142.1 297.1h0M144.8 297.2h0M150.1 303.1h0M143.4 298.9h0M144.6 301.4h0M140.4 307.6h0M139.6 298.8h0M137.2 303.5h0M143.7 300.7h0M136.8 305.4h0M140.7 307.3h0M149.1 308h0M149.4 294h0M140.8 307.9h0M151.2 297.8h0M138 300.9h0M144.9 282.3h0M141.4 294h0M141.5 301.5h0M146.7 299.5h0M143.3 293.8h0M143 299.9h0M138.4 302.8h0M149.4 290h0M143.2 304.2h0M144.6 295.9h0M141.4 298.9h0M138.6 304.4h0M148 306.9h0M135.1 306.5h0M145.6 306.5h0M142.3 308.9h0M145.1 301.9h0M144.2 310.4h0M144.8 304.4h0M143.7 298h0M140.6 301.8h0M144.2 301.1h0M145.8 305.3h0M132.3 300.7h0M144.9 292.9h0M147.1 310h0M141.6 304h0M145.3 312h0M135.5 305.2h0M142.2 295.7h0M146.7 298.5h0M141.1 296h0M142.8 300.7h0M145 304.5h0M138.9 295h0M133.8 301.6h0M137 305.4h0M148.3 285.4h0M142.6 297.6h0M139.5 295.6h0M142.6 297.7h0M138.8 298.2h0M138.9 305.9h0M133.8 292.1h0M146.5 309.8h0M136.5 309.6h0M143.6 306.2h0M147.3 309.4h0M146.7 305.4h0M145.3 301.5h0M143.8 302.5h0M140 308.5h0M139.6 308.7h0M144.7 301.4h0M150.4 298.8h0M147.6 304.5h0M134.3 311.7h0M146.1 308.1h0M136.2 304.8h0M143.3 294.1h0M149.8 296h0M142.5 299.8h0M141 294.5h0M147 299.6h0M138 298h0M138.1 297.6h0M148.7 304.8h0M141.3 297.2h0M143 296.1h0M139.3 298.5h0M142.4 304.9h0M150.1 301.9h0M130 300.7h0M138.4 306.3h0M146.6 303.2h0M142.1 304.5h0M143.1 304.1h0M145 296.2h0M141.3 302.4h0M142.6 306.8h0M142.1 296.9h0M144.2 301h0M141.3 302.9h0M144.2 301.6h0M137.1 303.5h0M144.8 306.4h0M144.5 291.4h0M152.2 303.7h0M153.4 306.5h0M145.1 298.7h0M136.8 294.1h0M139.7 306.3h0M143.3 299.6h0M137.3 297.3h0M147.4 303.5h0M139.2 300.9h0M140.4 309.6h0M150.5 301.2h0M140.4 299.2h0M148.1 298h0M145 305.8h0M139.7 299.3h0M148.8 308.4h0M146.3 310.2h0M141 311.7h0M148.1 308.1h0M145.2 300.6h0M140.2 310.6h0M138.9 300.6h0M142.5 303.3h0M146.2 304.5h0M142.2 307.6h0M143.1 295.9h0M140.1 301.3h0M140.7 301.7h0M140.6 304.2h0M145.5 294.4h0M133.5 300.1h0M150.3 302.9h0M139.5 304.6h0M142.8 305.9h0M140.1 306.5h0M140.6 310.3h0M146.5 296.7h0M139.1 298.2h0M143.6 299.7h0M146 304h0M141.4 304.7h0M139.1 310h0M146.5 295.7h0M145 298.1h0M144.1 297.6h0M140.1 300.2h0M143.1 293.8h0M143 297.5h0M144.9 312h0M149.6 306.7h0M142.9 304.6h0M140.4 307.7h0M139.5 293h0M147.5 305.4h0M147.7 309.6h0M140.6 303.9h0M143.9 296.6h0M138.3 297.9h0M145.5 294h0M145.5 296.9h0M142.8 306.3h0M138.8 305.9h0M142.5 297.7h0M142.6 296.7h0M141 305.3h0M137.2 293.2h0M135.6 304.3h0M142.2 308h0M137.7 297h0M145.6 303.1h0M144.4 292.9h0M149 304.1h0M136.4 301.2h0M140.6 306.8h0M143.2 307.7h0M141.7 297.7h0M139.8 303.1h0M140.2 307.2h0M138.2 300.5h0M149 306.2h0M138 303.3h0M143.5 302.1h0M139.7 303.5h0M138.3 305.1h0M147.2 296.2h0M140.7 301.9h0M143.4 305.8h0M136.7 300.2h0M146.6 302.2h0M144.5 303.6h0M144.9 299.6h0M144.6 301.8h0M146.7 298.8h0M143.4 299h0M145 306h0M141.2 303.5h0M140.7 303.4h0M142.6 305.1h0M137.5 305.1h0M133.1 310.3h0M133.5 303.6h0M143.7 300.1h0M145.3 311.5h0M142.9 305.9h0M142.2 301.7h0M138.3 296.7h0M147.5 301.8h0M143.5 300.5h0" stroke="#000" stroke-opacity="0.7" stroke-width="0.85" stroke-linecap="square" fill="none"/>
<text transform="translate(134.30,260.30) scale(0.86,1)" font-size="10.8" text-anchor="start" font-weight="bold">T</text>
<text x="139.00" y="262.90" font-size="8.0" text-anchor="start" font-weight="bold">CM</text>
<line x1="26.80" y1="223.00" x2="26.80" y2="321.00" stroke="#000" stroke-width="1.5" stroke-linecap="butt"/>
<line x1="26.05" y1="321.00" x2="146.00" y2="321.00" stroke="#000" stroke-width="1.5" stroke-linecap="butt"/>
<polygon points="26.90,216.90 23.70,223.90 30.10,223.90"/>
<polygon points="152.60,321.00 145.60,317.80 145.60,324.20"/>
<text transform="translate(30.80,197.20) rotate(-90)" font-size="10.3" text-anchor="middle" font-weight="bold">NKp80</text>
<text x="153.40" y="326.30" font-size="10.3" text-anchor="start" font-weight="bold" fill="#000" >CD3</text>
<rect x="187.5" y="182" width="59.6" height="60.4" fill="none" stroke="#9a9a9a" stroke-width="0.9"/>
<line x1="217.60" y1="182.00" x2="217.60" y2="242.40" stroke="#9a9a9a" stroke-width="0.9" stroke-linecap="butt"/>
<line x1="187.50" y1="214.20" x2="247.10" y2="214.20" stroke="#9a9a9a" stroke-width="0.9" stroke-linecap="butt"/>
<text x="191.90" y="193.30" font-size="7.6" text-anchor="start" font-weight="bold">T<tspan dy="3.8" font-size="6.4">EMRA</tspan></text>
<text x="222.60" y="193.30" font-size="7.6" text-anchor="start" font-weight="bold">T<tspan dy="3.8" font-size="6.4">N</tspan></text>
<text x="191.50" y="225.60" font-size="7.6" text-anchor="start" font-weight="bold">T<tspan dy="3.8" font-size="6.4">EM</tspan></text>
<text x="222.30" y="225.60" font-size="7.6" text-anchor="start" font-weight="bold">T<tspan dy="3.8" font-size="6.4">CM</tspan></text>
<text transform="translate(186.10,199.00) rotate(-90)" font-size="8.4" text-anchor="middle" font-weight="bold">CD45RA</text>
<line x1="182.20" y1="226.00" x2="182.20" y2="248.20" stroke="#000" stroke-width="1.4" stroke-linecap="butt"/>
<line x1="181.50" y1="248.20" x2="214.00" y2="248.20" stroke="#000" stroke-width="1.4" stroke-linecap="butt"/>
<polygon points="182.20,220.60 179.00,227.40 185.40,227.40"/>
<polygon points="219.60,248.20 213.00,245.20 213.00,251.20"/>
<text x="223.60" y="251.00" font-size="8" text-anchor="start" font-weight="bold" fill="#000" >CCR7</text>
<defs><radialGradient id="g1"><stop offset="0" stop-color="#000" stop-opacity="0.55"/><stop offset="0.55" stop-color="#000" stop-opacity="0.33"/><stop offset="1" stop-color="#000" stop-opacity="0"/></radialGradient><clipPath id="c1"><rect x="34.8" y="393.6" width="24.80" height="26.10"/></clipPath></defs>
<ellipse cx="41" cy="411.5" rx="20" ry="13" fill="url(#g1)" clip-path="url(#c1)"/>
<path d="M45.2 405.8h0M45.2 414.8h0M57.2 413.2h0M44.6 405.4h0M34.9 406.8h0M45 405.2h0M39 417.8h0M40.9 415.7h0M52.8 406.8h0M49.8 412.2h0M42.2 403.6h0M55.5 415.8h0M50.6 413.8h0M40.4 414.8h0M49.2 402h0M49.6 417.5h0M54.1 419h0M40.5 413.1h0M45.9 409.6h0M46.6 408.3h0M42.2 414h0M44.1 416.5h0M52.2 410.4h0M41.6 410.2h0M45.3 407.2h0M43.4 407h0M48.4 406.5h0M40 404.9h0M40.6 402.7h0M40.8 405.6h0M50 405.9h0M47.9 411.7h0M53.5 418.3h0M39.9 418.3h0M49 416.7h0M36.8 414h0M46.6 408.2h0M42.4 396.3h0M37.1 408.7h0M37.4 408.7h0M37.5 405.7h0M40.7 402.1h0M54.5 412.8h0M49.3 406.2h0M37.8 412.5h0M40.9 412.5h0M48.9 416.7h0M40.2 400.8h0M39.3 409.4h0M56.7 419.6h0M43.9 415.6h0M56.8 412h0M45.6 408.8h0M56 405h0M48 405.4h0M40.2 408.9h0M41.9 411.4h0M35.9 411.4h0M49.7 408.3h0M38.6 416.6h0M48.9 415.5h0M37.9 410.2h0M59 411.3h0M53.4 413h0M37.2 410.7h0M54.9 409.2h0M35.6 406.2h0M41.8 411.1h0M42 416.4h0M47.6 410h0M35.4 413h0M47.7 408.4h0M47 411.8h0M37.1 411.4h0M37.7 409.2h0M40.2 413.9h0M51.2 414.6h0M46.1 418.9h0M41.4 405.8h0M47.6 409.8h0M48.8 407.8h0M46.3 407.2h0M57.2 411h0M41.6 406.6h0M54.3 408h0M38 404.7h0M43.9 407.5h0M45 401.1h0M44.8 405.9h0M42.5 415.1h0M52.2 412.6h0M36.1 409.7h0M54.6 413.9h0M36.1 403.8h0M37.7 413.5h0M40.2 410.6h0M39 418h0M38.4 411.1h0M45.1 414.1h0M35.5 399.1h0M40.1 419.7h0M41.5 396.3h0M45.4 409.4h0M57.5 411.7h0M49.2 408.4h0M47.5 415h0M38.2 408.6h0M44.2 410.5h0M44.4 413.6h0M45.1 404.9h0M54.2 401.6h0M46.2 419.2h0M56.4 397h0M35.5 401.7h0M44.5 419.2h0M42.6 410.6h0M48.7 413h0M51.7 416.5h0M50.9 410.1h0M50.5 411.1h0M51.9 409.3h0M44.4 412.1h0M46.5 414.7h0M42.4 406.2h0M45.2 410.9h0M49.6 418.4h0M35.9 410.9h0M38.2 410.8h0M44.6 410.7h0M52 407.7h0M47.1 412.5h0M54.5 398.8h0M41.7 407.6h0M42.6 410.7h0M49.5 401.4h0M51.2 412h0M43.6 403.7h0M45.8 415.7h0M35.6 413.6h0M40.8 406h0M39.4 415.7h0M46.3 413.6h0M40.9 399.3h0M52.1 406.7h0M38.3 408h0M38 415.4h0M45.4 395.6h0M37.2 415.2h0M38.8 416.9h0M41.2 407.5h0M39.5 415.4h0M49.3 405.5h0M50.1 403h0M42.4 414h0M35.9 408.5h0M47.4 410.1h0M47.4 416.2h0M44.6 410.8h0M40.6 410.7h0M52.5 402.2h0M41.4 410.5h0M46.7 417.1h0M56.9 409.2h0M42.9 402.9h0M53.8 407.2h0M45.8 405.5h0M43.7 401h0M58 412.2h0M38.2 408.2h0M45.8 413.3h0M35.3 402h0M42.5 405.6h0M48.3 397.9h0M48.3 398.6h0M39.5 405.1h0M47.6 415.4h0M38.6 414.6h0M40 414.7h0M47.5 416.3h0M46.3 406.8h0M42.8 407.7h0M35.2 405.3h0M38.9 415.8h0M55.9 409.6h0M40.1 415.4h0M37 415.1h0M40.1 414.6h0M54.4 411.7h0M45 406.5h0M50.8 399.3h0M53.1 412.2h0M43.6 410h0M50.8 415h0M37.4 401.7h0M40 401.6h0M36 411.1h0M50.4 407.5h0M35.6 418h0M48.3 410.4h0M36.5 407.1h0M52.4 410.3h0M46.4 417.8h0M36.3 408.3h0M43.1 411h0M44.8 405.6h0M50.9 411.1h0M44.9 416.1h0M42 407.4h0M41.7 408h0M39.9 416.1h0M43.2 407.6h0M38.9 418.3h0M48.6 417.7h0M44.3 412.9h0M39.4 417.1h0M46 401.1h0M48.9 410.7h0M45.9 414.6h0M41.5 409.9h0M42.7 408.9h0M36 408.5h0M39.2 409.6h0M40.7 410.6h0M40 407.7h0M41.9 407.2h0M44.3 409.3h0M50.1 398.9h0M37.4 406.5h0M52.1 404.9h0M45.8 413.4h0M39.7 406.6h0M48.6 408.4h0M36.3 400.4h0M40.5 401.9h0M51.2 407.3h0M35.1 399.6h0M42.3 415.9h0M49.5 409.3h0M35.9 411.9h0M49.8 398.5h0M39.9 414h0M40 415.2h0M42.1 400.4h0M40.5 408h0M52.6 419.3h0M41.7 408.1h0M46.7 394.6h0M41.1 411.5h0M40.9 416.8h0M39.6 406.6h0M44.5 405.2h0M44.8 407.4h0M36.2 412.2h0M47.8 402.9h0M36.3 410.8h0M44 409.5h0M41.8 411.6h0M41.3 402h0M52.2 410.7h0M46.5 399.6h0M49.7 416.6h0M41.3 410.7h0M40.7 408.2h0M41.7 412.4h0M52.7 415.5h0M47.7 409.7h0M38.4 412.6h0M43.6 410.6h0M55.8 405.1h0M47.6 401.8h0M42.1 401.5h0M50.9 409.6h0M42.1 411.4h0M39.8 399.8h0M43.1 410.5h0M39.6 414.2h0M43.6 415.1h0M53.2 418h0M37.6 406.8h0M37.6 400.6h0M39 404.3h0M40 412.4h0M42.1 405h0M38.1 413.1h0M40.4 406.9h0M48.3 408.3h0M39.5 410.2h0M37.3 408.4h0M44.6 406.3h0M50.2 414.1h0M39.1 414h0M45.3 414.7h0M39.9 409h0M53.2 412.3h0M43.4 403.9h0M46.9 409.8h0M37.7 402.3h0M38.7 411h0M37.7 412.8h0M49.5 416.4h0M44.1 406.2h0M54.2 408.4h0M39.7 412.8h0M58 406.1h0M41.1 406.4h0M45.5 405.7h0M54.2 407h0M46.5 417.7h0M37.6 397.5h0M35.9 400.1h0M38.2 415.2h0M39.1 408.3h0M36.5 404.5h0M46.6 401h0M50 406.4h0M35.3 411.5h0M43.6 411.8h0M41.2 417.3h0M38.7 409.1h0M40.2 414.2h0M42.5 406.3h0M51.8 414.4h0M47.6 405.8h0M38.2 404.2h0M47 411.9h0M40.1 407.2h0M44.1 415.1h0M47.2 416.5h0M35.8 402.1h0M38.4 410.8h0M42.7 410.7h0M46.9 411.6h0M41.6 412.3h0M37.9 411.7h0M48.1 417.1h0M53.5 410.2h0M39.3 407.5h0M42.5 409.3h0M39.2 403.7h0M41.6 403.1h0M42.1 405.7h0M41.5 415.5h0M38.8 406.8h0M43.6 411h0M48.8 413.8h0M41.2 409h0M36 408.1h0M43.4 409.5h0M47.5 403h0M36.5 412.9h0M42.5 417.1h0M43.5 412.7h0M55.5 412.9h0M47.2 413.1h0M50.1 414.5h0M44.2 410.4h0M44.9 408.1h0M57.4 413.7h0M39.9 410.4h0M49 411.1h0M38.5 405.5h0M36.7 405.8h0M45.6 408.6h0M37.7 408.7h0M46.2 411.4h0M46.1 396.7h0M56.5 411.2h0M38.6 408.9h0M37.2 404.2h0M51.5 398.8h0M35.9 416.1h0M43.3 413.2h0M50.2 414.1h0M40.9 406.1h0M52.8 408.5h0M50.4 406.8h0M35.1 409.8h0M42.3 402.8h0M41.5 400.4h0M46.1 402.6h0M42.2 411.8h0M45.2 413h0M49.5 406.6h0M42.4 411.4h0M43.3 413h0M45.8 412.2h0M40.9 418.8h0M38.8 416.4h0M48.3 405.2h0M40.9 410.2h0M46 417h0M43.4 408.2h0M41.4 419h0M41.5 405.6h0M47 415.1h0M40.7 412h0M38 417.1h0M40.1 413.3h0M38.9 418.5h0M43.5 411.7h0M38.6 411.7h0M54.2 403.3h0M49.9 415.4h0M45.8 412.7h0M54.6 411.9h0M41.1 403.8h0M35.6 395h0M38.6 409.3h0M47.9 399.7h0M39.1 407.9h0M54.6 415.6h0M47.2 405.4h0M40.9 413.9h0M40.1 414.7h0M41.1 412.1h0M53.5 411.1h0M36.1 410.1h0M36.2 418h0M40.3 407.2h0M44.5 414.1h0M38.4 410.2h0M38.2 409h0M37.2 411h0M40.7 414.4h0M44 407.9h0M41.4 408.6h0M59.1 409.1h0M52.1 415.3h0M41.1 405.1h0M38.3 410.4h0M44.6 409h0M37.7 414.5h0M41.3 412h0M37.7 408.6h0M52.4 406h0M50.7 413.5h0M43.8 399.7h0M43.2 411.9h0M50 412.1h0M36.6 402.3h0M40.6 407.4h0M53.1 410h0M42.5 408.9h0M36.6 414.3h0M36.7 407.9h0M40.8 414.2h0M47.3 410.5h0M45.3 410.3h0M52.6 399.1h0M34.9 413.4h0M41.3 416.7h0M35.1 403.6h0M41.1 404.3h0M39.3 410.3h0M42.2 408.1h0M44.3 410.9h0M40.6 403.4h0M51.2 411.2h0M58.4 400.4h0M38.5 405.1h0M45.1 415.9h0M47.8 418.6h0M49.8 418.7h0M45.4 407.1h0M45.5 415.7h0M42.2 417.7h0M41.7 417.4h0M51.3 409.5h0M53 402.4h0M49.8 404.9h0M52.6 401.1h0M49.7 415.6h0M40.1 411.5h0M34.9 410.3h0M44.5 413.4h0M43.1 412.5h0M44.6 413.8h0M40.6 405.1h0M45.9 403.3h0M44.1 408.8h0M36.5 396.2h0M42.9 403.1h0M53.2 417.1h0M52.6 411.8h0M51.2 415.2h0M48.6 409h0M45.5 411.9h0M45.9 412.1h0M36.8 417.4h0M56.1 407.8h0M41.6 416.9h0M41.8 408.4h0M58.3 414h0M49.1 407.7h0M40.8 408.5h0M48.1 418.3h0M43.8 406.2h0M54.6 409.1h0M47 404.8h0M44.2 408.1h0M42.4 409h0M35.2 413.3h0M38.4 406.3h0M46.3 416.3h0M40.6 416h0M51.6 396.4h0M53.6 410.5h0M41.3 416.7h0M41.6 414.4h0M38 398.3h0M53.9 405.2h0M42.3 414.1h0M42.9 399.4h0M38 408.4h0M36.9 407.7h0M36.7 413.8h0M50.1 404.1h0M41.5 417.9h0M37.3 410.7h0M35.8 410.1h0M36.6 408.1h0M38.2 410.7h0M45 412.5h0M36.3 418.4h0M38.3 406.2h0M51.1 414h0M41.2 405.7h0M48.6 406.7h0M41.4 414h0M45.6 411.4h0M42.3 407.9h0M51.5 404.7h0M46.2 416.5h0M40.9 417.3h0M52.1 418.3h0M42.9 401.1h0M37.7 411h0M38.3 406.9h0M39 411.9h0M43.3 414h0M44.1 409.2h0M39.3 416.2h0M43.8 401.4h0M39.5 407.7h0M43.7 417.5h0M56.1 408h0M40 414h0M39.7 408.6h0M36.9 415.3h0M39.9 419h0M56.4 407.4h0M44.5 405.9h0M43.2 408.5h0M42.6 414.9h0M49.9 417.2h0M56 406.4h0M44.4 397.1h0M47.3 406.7h0M41.4 414.6h0M41.6 414.3h0M37.6 411h0M44.5 407.5h0M50.5 402.5h0M51.6 419.5h0M47.3 410.2h0M40.4 412.9h0M45.8 407h0M57 407.1h0M53.7 411.7h0M43 415.7h0M42.1 410.7h0M47.9 405.9h0M39.1 408.5h0M46.2 416.9h0M50.2 412.5h0M39.4 402.3h0M40.8 413.3h0M48.8 408.5h0M36.8 409.7h0M39.5 407.7h0M51 408.8h0M49.2 407.6h0M45.2 406.8h0M38.3 412.7h0M40.9 410.5h0M50 415.8h0M45.8 417.2h0M34.9 419h0M43.8 409.6h0M38.3 412.6h0M59.1 404.1h0M40.2 414.8h0M38.3 402.2h0M38.2 403.9h0M42.8 419.7h0M49.4 407.4h0M46.3 418.7h0M39.5 412.6h0M49.6 415.2h0M40.2 409.1h0M41.5 414.9h0M49.3 405.3h0M45.6 414.7h0M49 414.4h0M39.8 415h0M36.1 405.3h0M41.7 407h0M47.1 407.3h0M46.2 400.2h0M35.3 408.5h0M45.6 406.6h0M43.2 412.2h0M59 413.9h0M39.9 412.2h0M43.8 406.6h0M49.5 413.1h0M46.1 417.6h0M40.9 406.7h0M56.5 410.9h0M55.5 401.9h0M39.5 419.5h0M46.1 404.1h0M45 415.6h0M37.3 412.2h0M42.2 415.6h0M37.1 406.8h0M43.9 412.2h0M49.9 405.4h0M38.9 411.1h0M44.9 415.8h0M49.9 406.2h0M49 403.8h0M40.9 400h0M38 407.7h0M36.4 408.2h0M48.1 405.7h0M50.2 413.9h0M40.3 412.1h0M43.6 409.9h0M46.6 411.5h0M37.9 404.2h0M58.7 399.3h0M39.5 410.9h0M55 419.3h0M47.5 406.4h0M56.6 413h0M46.4 395.8h0M44 407.9h0M56.9 400.3h0M48.9 411.2h0M45.2 412.9h0M38.3 404.2h0M46.3 412h0M50.8 409.7h0M46.1 415.7h0M48.2 408.5h0M35.3 409.9h0M36.2 401.2h0M47 414.7h0M41.2 409.1h0M42.6 405.2h0M45.4 409.6h0M49.5 402.3h0M53.5 407.8h0M39.2 411.6h0M41.9 411.8h0M53.5 415h0M44.4 414.9h0M47.3 400.5h0M54.8 406.7h0M46 399.2h0M37.6 419.5h0M58.4 398h0M48.4 405.3h0M48.3 410.7h0M51.9 418.7h0M42.2 419.7h0M36.8 415.5h0M42.7 415.6h0M40.5 410.9h0M43.6 417.6h0M43.3 408.7h0M54.5 415.7h0M46 414.8h0M43.9 405.5h0M42.1 414.3h0M53.8 410.3h0M52.5 419h0M47.2 414h0M49.1 416.1h0M44 415.7h0M53 404.1h0M43 418.9h0M39.9 412.3h0M38.9 415.4h0M47.1 414.4h0M35.3 406.8h0M52 413.2h0M38.6 418h0M38.8 409.8h0M36.3 412.2h0M46.4 408.4h0M53.4 417.4h0M35.3 415.6h0M53 404.9h0M38.2 407.7h0M51 397.1h0M38.8 407.4h0M39 418h0M42.9 412.8h0M41.8 416.2h0M41.5 403.3h0M48.4 412.1h0M35.2 407.2h0M46.2 413h0M41.4 411.6h0M40.4 408.1h0M46 401.2h0M51.9 405.9h0M42 411.4h0M39.1 396.5h0M36.1 411.5h0M58.8 408.2h0M38.9 410.1h0M48.6 407.5h0M50.7 404.6h0M35.1 411.1h0M41.1 413h0M39.4 417.6h0M58.7 405.1h0M53.5 404.6h0M40.6 409.1h0M42.7 415.7h0M38.8 413.2h0M40.5 406.6h0M40.6 413.9h0M41.8 418.5h0M51.4 406.5h0M43.2 413.9h0M45.7 409.8h0M45.4 416.2h0M43.4 395.9h0M41.6 404.9h0M49.6 418.7h0M46.3 411.5h0M43.7 409.4h0M36.9 398.4h0M38 410.2h0M38.6 405.1h0M40.8 399.5h0M48.2 406.7h0M46.5 410.8h0M42.5 419.1h0M44.2 405.8h0M54.8 413.5h0M50.2 413h0M40.7 417.4h0M52.6 411h0M45.6 412.9h0M51.7 413.5h0M45.7 408.8h0M46.2 408.2h0M53.2 411.5h0M46.3 418.4h0M52 406.4h0M39.9 415h0M39.6 414.8h0M44 411.1h0M37.7 413.1h0M54.4 419.1h0M45.3 410h0M41.2 407.3h0M46.3 412.6h0M38.1 405.4h0M40.9 409.9h0M40.8 414.6h0M46.2 412.2h0M38.8 406.7h0M44.7 398.7h0M46.4 414h0M47.3 410.2h0M42.4 418.9h0M37.5 401.3h0M40.8 413.8h0M39.9 412.5h0M37.4 405.2h0M41.6 413.4h0M48.5 411.2h0M46.2 413.2h0M38.5 408.7h0M36.4 407.9h0M45.3 412.4h0M50.8 408.7h0M41.8 409.9h0M46.1 413.2h0M48.9 407.9h0M43.6 414h0M41.4 413.8h0M36.5 405.2h0M36.9 406.7h0M40.7 414.9h0M44.5 399.5h0M46.1 416.7h0M40.4 411.8h0M50.2 407.2h0M44.5 409.8h0M48.8 415.3h0M43 412.8h0M41.4 415.3h0M44.8 409.8h0M47.1 416.6h0M56.4 414.7h0M49.1 406.9h0M44.6 416.3h0M44.2 406.1h0M40.4 405.5h0M40.8 409.6h0M40.8 409.8h0M42.1 406.2h0M41.9 409.7h0M40.3 416.5h0M50.3 403.1h0M39.8 400.4h0M47.3 412.4h0M35 404.5h0M55.8 403.4h0M37.8 419.2h0M45.9 416h0M43.4 408.5h0M43.3 405.4h0M47 417.1h0M51.5 404.7h0M50.4 408.7h0M41.1 408.8h0M43.4 397.2h0M53.4 411.8h0M45.8 414.2h0M42.9 413.9h0M41.9 409.4h0M42.6 407.8h0M55.9 404h0M53.1 411.2h0M51.8 404.1h0M45.5 408.8h0M56.9 418.4h0M55.2 404.3h0M43.9 414h0M37.4 408.2h0M46.6 415.8h0M39.5 417.8h0M50 404h0M49 410.6h0M41.2 412.8h0M37.1 403.9h0M36.5 405.6h0M59.3 406h0M48.3 411.2h0M44 395.8h0M37.3 409.5h0M47.9 409.9h0M43.7 409.8h0M40.8 410.1h0M40.9 415.5h0M48.3 419.3h0M53.2 401h0M52.2 414.6h0M55 410h0M39.8 406.2h0M41.9 410.5h0M36.6 416.9h0M55.6 417.6h0M44.8 411.8h0M39.7 408h0M41.8 418.1h0M53 395.2h0M47.2 406.8h0M39.4 417.3h0M50.2 419.6h0M52.6 409.2h0M41 414.3h0M43.8 411.8h0M41.5 419.2h0M42 419.4h0M37.9 408.3h0M44.4 414h0M40.8 413.8h0M55.6 408.9h0M41.9 400.4h0M48.3 411.8h0M37.9 414.8h0M49.8 415.7h0M52.2 409.3h0M42 403.5h0M47.4 403.2h0M36.4 413.6h0M49.8 411.5h0M40.8 409.3h0M36.9 412.3h0M34.9 402.6h0M46.7 415.2h0M57.6 406.3h0M46 412.2h0M44.7 414.9h0M48.9 407.6h0M42.7 410.6h0M46.6 401.1h0M48.7 409.2h0M44.9 406.6h0M42 415.8h0M42 409.5h0M37.6 408.5h0M37.5 416.4h0M44.8 417h0M41.5 406.8h0M41.1 411.2h0M55.6 409.7h0M48.4 404.3h0M48.4 404.2h0M36.7 414.2h0M38.1 406.6h0M37.6 413.4h0M41.4 401.8h0M47.5 407.8h0M38.4 414.3h0M37 405.3h0M34.9 402.4h0M43.5 407.5h0M38.1 404.1h0M50.4 415.6h0M40.8 413.6h0M53.5 412.4h0M45.6 411.1h0M41.7 416.1h0M37.3 409h0M40.8 417.9h0M41.8 417.6h0M47.8 410.1h0M46.1 411.6h0M55.2 401.6h0M39.8 404.7h0M42.9 398.3h0M40.5 417.6h0M34.9 408.6h0M39.6 414.7h0M41.7 416h0M36.7 405.4h0M43 414.6h0M39.9 409.6h0M37.9 410.2h0M47.8 405.9h0M45.4 408.6h0M45.1 409.9h0M42.8 407h0M39.6 406.5h0M43.9 405.8h0M44.1 408.7h0M43.6 403.6h0M48 418.5h0M39.1 406.9h0M46.4 410h0M49.1 399.5h0M42.4 417.3h0M39.2 413.8h0M37.8 411.9h0M45.4 417h0M45.5 418.5h0M49.3 413h0M39.8 413.1h0M46.8 417h0M40.1 410.5h0M50.5 412h0M35.6 409.8h0M39 418h0M48.6 412.1h0M50.8 406.4h0M36.8 410.1h0M46.9 416.1h0M40.4 409.4h0M41.3 411.6h0M36.7 407.2h0M49.8 404.6h0M46.9 411.5h0M48.5 412.8h0M52 412.7h0M43.1 415.6h0M35.9 405.2h0M52 410.7h0M44.9 408.1h0M35.2 413.1h0M46.1 416.2h0M42.4 407.5h0M56.7 410.5h0M46.7 408h0M48.6 406.5h0M58.7 415.3h0M38.8 400.6h0M52.7 410.4h0M45.2 403.3h0M38.7 404.9h0M47.9 411.8h0M43.4 409.8h0M35.9 413.2h0M43.4 398.5h0M40.3 409h0M43.2 402h0M38.3 414.9h0M49.4 415.7h0M38.3 406.9h0M42 414.3h0M56.2 404.3h0M46.2 404.9h0M35.7 412.6h0M42.7 399.8h0M44.1 408.3h0M37.8 405.8h0M36.9 418.1h0M51 410.5h0M44.8 404.5h0M47.1 413.3h0M42.7 412.2h0M47.9 412.8h0M51.9 404.6h0M53.5 399.5h0M46.2 418.3h0M50.8 409.8h0M52.6 416.6h0M41.2 404.6h0M51.5 407h0M38.7 408.5h0M44 400.1h0M47.9 407.2h0M40.4 403.2h0M42.1 411.6h0M46.4 410.2h0M46.8 410.2h0M39.6 418.1h0M42.1 417.4h0M44.6 416.3h0M35.3 412.6h0M42.8 401.7h0M45 405.9h0M45.8 413.7h0M55.4 414.7h0M41.9 412.7h0M38.8 417.2h0M38.5 409.8h0M44.8 411.6h0M43 409.6h0M37.6 401.9h0M38.6 413.6h0M36.7 415.5h0M45.7 410.4h0M45.2 403.5h0M47.4 412.8h0M38.6 411.6h0M42.5 415.6h0M49.7 405.5h0M42 410.2h0M50.7 414.3h0M41.3 416.8h0M41.8 407.3h0M39.5 410.7h0M35.2 406.4h0M51.6 417.7h0M44.4 412.9h0M51.8 408.6h0M49.1 405.7h0M44.5 402.3h0M41.9 411.9h0M45.2 411.1h0M38.2 415.4h0M35.5 403.6h0M47.4 408.5h0M43.8 408.5h0M39.1 415.6h0M48.1 407.8h0M43.5 405.3h0M36.3 403.9h0M53.7 399.9h0M37.6 411h0M46.1 405.5h0M36.2 412.9h0M40 417.6h0M36.2 402.9h0M53.5 406.9h0M45 405.4h0M47.8 411.8h0M36.8 408.8h0M46.3 408.2h0M45.8 413.2h0M42.2 404.8h0M49.9 411.4h0M38 404.8h0M44.5 398.8h0M39.5 409.3h0M35.5 413.8h0M36.8 403.4h0M35.5 410.7h0M46 402.2h0M41 412.4h0M45.7 412.1h0M52.1 408.9h0M40.8 400.2h0M48.5 402.6h0M42 405.4h0M44.3 398.3h0M48.1 412.7h0M39.1 408.8h0M38.8 406.7h0M58.2 409.6h0M39.1 402.9h0M51.2 414.9h0M48.8 415.9h0M38.8 408.7h0M35.8 404.3h0M50.5 406.1h0M40.6 418.6h0M46.2 413.4h0M39.8 415.5h0M47.3 414.5h0M48.9 405h0M45.1 416h0M44.6 401.8h0M47.5 412h0M53.9 404.8h0M41 404.2h0M39.4 413.7h0M42.9 413.3h0M44.5 411.8h0M41.7 413.5h0M44.6 412.8h0M38.7 400.8h0M58.8 411.6h0M41.9 402.5h0M40.3 416.1h0M49.3 408.6h0M39.8 405.6h0M42.3 410.5h0M37.8 410.9h0M43.7 415.6h0M44.9 413.9h0M43.5 407.6h0M49.3 408h0M40.4 404h0M38.6 411.3h0M34.9 402h0M53.4 409.9h0M51.4 401.5h0M57.3 417.1h0M47.5 413.6h0M49.7 401.8h0M39.2 409.8h0M45.7 402.3h0M45.3 418.9h0M46.8 408.6h0M36.1 404.9h0M41.6 412.6h0M50 413h0M43.1 414.6h0M50.5 406.9h0M44 407.8h0M48.2 413.9h0M42.6 415.5h0M42.9 405h0M41 394.2h0M46 408.4h0M43.9 410.6h0M52.1 401.8h0M42.9 409h0M41.5 408.3h0M51.1 405.2h0M52.1 416h0M47.1 413.3h0M41.3 409.1h0M37.3 415.5h0M47 406.1h0M41.5 416.8h0M52.3 412.2h0M49.9 415.6h0M39.1 416h0M52.2 408.3h0M42.8 418.6h0M36.1 399.4h0M44.2 407.2h0M45.5 404.8h0M38.1 407.4h0M42.7 405.2h0M38.8 408.2h0M51.5 404.9h0M42.7 409.8h0M45.7 414.2h0M39.7 407.7h0M37.4 416.2h0M37.3 409.1h0M39.7 412.2h0M42.6 410.1h0M38.6 417.1h0M44.5 407.2h0M39.2 407.6h0M50.2 407.4h0M55.9 414.7h0M40 411.1h0M44.6 416.4h0M37.9 403.7h0M45.1 405.7h0M50.8 402.9h0M39.6 404.5h0M40.1 416.3h0M36.2 416.5h0M49 407.1h0M42 404.6h0M40.2 409.4h0M53.6 413.8h0M36.6 411.2h0M53 402.6h0M42.5 414.7h0M46.6 404.2h0M45.2 418.4h0M45.5 407.3h0M39.1 410.2h0M42.3 409.6h0M40.8 411.1h0M48.7 419.2h0M54 401.5h0M37.3 408.3h0M37.3 403.9h0M48 417.6h0M55.5 413.2h0M53.3 417.2h0M51.7 409.4h0M52.5 403.7h0M53 411.4h0M35.9 406.4h0M45.6 401h0M47.1 400h0M43.3 412.3h0M39.5 402.2h0M44.6 411.3h0M44.9 416.3h0M40.8 399.7h0M46.4 406.5h0M38.2 408.3h0M47.4 404.6h0M45.8 416.3h0M42.9 404.7h0M51 406.4h0M39.4 414.6h0M44.6 419.4h0M42.9 403.5h0M45.6 414.3h0M47.5 415.9h0M49.3 417h0M48.4 404.9h0M49 402.5h0M35 414.2h0M38.9 416.3h0M45.9 408.2h0M54.2 418.7h0M48.2 414.1h0M38.3 409.7h0M41.9 409.5h0M52.9 411.7h0M46 401h0M38.1 407.1h0M45.9 407.8h0M48.3 414.6h0M49.5 408.3h0M46.3 406.8h0M44.9 402.8h0M49.7 411.4h0M47.7 411.4h0M48.5 419.4h0M51.7 416.6h0M50.9 395.5h0M36.8 416h0M44.9 400.3h0M43 405.3h0M51.4 409.5h0M42.3 413.4h0M53.8 416h0M49.1 408.9h0M39.9 416.9h0M42.8 410.3h0M50 401.7h0M38.7 410.4h0M40.9 413.5h0M49 416.7h0M43 409.9h0M36.2 411.1h0M48.8 409.8h0M44.6 416.8h0M38.4 401.1h0M40.5 402.5h0M44.4 407.4h0M41 413.2h0M45.8 413.5h0M43.8 416.1h0M38.8 417.5h0M43.2 411.1h0M38.4 419h0M44.9 404.6h0M39.3 401.7h0M37.9 416h0M39.4 417h0M38 416.8h0M37.6 405.9h0M46 403.1h0M53 408.4h0M39.3 416.4h0M37.2 414.8h0M50 416.1h0M49.6 409.3h0M45.2 406h0M41.3 414.9h0M40.3 415.1h0M54.6 403.1h0M52.6 406h0M49.6 416h0M48.3 408.3h0M53.3 419.4h0M41.3 402.9h0M40.2 416.8h0M45.2 404.1h0M37.7 419.1h0M50.6 411.9h0M38.4 417.1h0M37.7 411.7h0M37.9 405.8h0M52.6 413.3h0M45.6 398.6h0M35.9 407.6h0M46 400.2h0M53.7 414.8h0M43.3 413.9h0M36.1 413.6h0M39.2 416.5h0M41.4 408.3h0M35.4 416.3h0M45.4 416.5h0M39.4 405.8h0M54.1 410.7h0M41.5 410.3h0M36.3 409.4h0M41.8 411.6h0M40.8 414.3h0M51.1 405.4h0M40.8 412.2h0M40.2 407.6h0M43.3 408.6h0M37.7 417.1h0M37.8 411h0M40.2 408.5h0M39.1 411.7h0M53.7 419.4h0M40.6 403.3h0M42.3 408.2h0M41.9 418.5h0M50.5 415.5h0M44.6 397.2h0M51.3 416.9h0M40.9 410.8h0M47.1 405h0M42.5 417.9h0M46.8 405.8h0M34.9 410.8h0M48.1 406.8h0M51.8 414.6h0M41.7 402.9h0M44.2 411h0M44.7 413.9h0M48.2 407.6h0M46.6 412.3h0M42.2 407.5h0M35.6 414.9h0M37.9 404.9h0M44.5 398.3h0M43.4 412.3h0M59.3 407.4h0M51.7 418.9h0M39.9 414.9h0M39.3 406h0M54.1 409.4h0M45.8 404.1h0M55.8 405.6h0M44.3 413.3h0M36.7 412.2h0M42.4 410.8h0M43.1 413.9h0M42.4 412.8h0M36.8 401.6h0M44.1 406.4h0M56.1 416.3h0M35.4 408.7h0M43.6 416.1h0M44.1 401.6h0M41.8 408.5h0M40.5 407.3h0M51.4 408.7h0M42.2 408.7h0M44.9 397.6h0M51.2 416h0M53.7 413.5h0M48.3 410.7h0M38.2 411.5h0M43.1 399.3h0M35.3 414h0M46.1 408.3h0M41.8 413.4h0M42.5 411.4h0M49.7 394.7h0M51.4 404.7h0M43.5 414.7h0M46.6 415.8h0M41.5 413h0M46.6 409.3h0M43.5 418.3h0M54 417h0M45.4 411.4h0M53.7 405.1h0M52.4 413.1h0M35.1 418.3h0M45.2 404.7h0M46.7 417h0M41.8 402.9h0M38.7 401.2h0M45 417.8h0M48.5 411.7h0M47.8 406.8h0M40.3 401.1h0M43.1 394.3h0M43 406.2h0M37.3 417.5h0M42.2 404.7h0M47.7 411.3h0M48.3 410.5h0M41.3 413.1h0M38.9 411.9h0M35.4 415.1h0M55.8 412.5h0M42.7 413h0M40.5 412.4h0M43.2 412.1h0" stroke="#000" stroke-opacity="0.55" stroke-width="0.75" stroke-linecap="square" fill="none"/>
<path d="M57.8 417h0M57.6 412.3h0M48.4 408.1h0M52.5 408.3h0M58.3 398.6h0M37.2 416.3h0M41.7 413.3h0M38.8 401.5h0M56.4 406.2h0M46.6 407.2h0M39.9 394.6h0M42.3 416.7h0M57.6 416.1h0M52.5 416.9h0M47.2 405.4h0M51.7 396h0M47.8 409.3h0M51.3 409h0M52.7 399.4h0M57 398.9h0M40.7 398.4h0M34.7 415.6h0M56.5 411h0M50.2 417.1h0M58.5 417.5h0M46.1 398.6h0M41.3 394.2h0M44.2 403.4h0M56.9 409.6h0M51.8 415h0M58.7 405.7h0M54.4 414.7h0M49.8 401.7h0M38.9 399.2h0M55.6 404.7h0M57.6 407.3h0M50.9 404.1h0M46.7 417.5h0M46.3 402.8h0M37.2 403.6h0M35 403.4h0M55 409.1h0M37.2 419h0M54.5 399.1h0M58 401.2h0M49.3 408.7h0M34.4 417.5h0M38.1 417.3h0M46.8 394.8h0M58.4 405h0M40.9 407.6h0M38.6 398h0M53 404.2h0M56.9 406.3h0M51.7 407.4h0M35.7 412.1h0M52.6 399.3h0M49.6 402.5h0M57.6 405.8h0M40.3 395.7h0M55.8 409.2h0M41.2 398.2h0M39.8 395.7h0M55.8 404.4h0M36.1 419.2h0M53 399.4h0M47.3 408.6h0M50.5 394.7h0M40.7 415.8h0M52.4 413.6h0M37.6 408.4h0M44.6 418.5h0M46.2 411.4h0M37.5 397.1h0M41.6 415.8h0M40.1 395h0M36.2 410.2h0M42 408.5h0M49.6 402h0M52.9 409.3h0M40.2 403.7h0M41.1 402.9h0M34.4 397.7h0M51.9 413.3h0M35.1 403.1h0M53.5 398.8h0M50.4 402.6h0M41.3 407.2h0M49.5 418.5h0M41.5 412.6h0M48.2 395.8h0M57.8 404.7h0M36.4 409.4h0M57.1 398.2h0M52.1 400.7h0M49.5 418.8h0M44.5 416.9h0M37.5 397.8h0M58.1 404.6h0M38 416h0M52.4 412.2h0M56.1 407.2h0M49.6 404.2h0M58.1 395.2h0M35.7 419.2h0M40.2 414.9h0M37.4 395.9h0M47.5 401.1h0M44.8 418.2h0M56.9 397.8h0M37.3 402.2h0M40 402.4h0M38.5 409h0M35.2 412.2h0M53.3 401h0M51.7 404.8h0M53.3 412.2h0M41.9 416.8h0M41.4 408.5h0M42.5 396.4h0M40.8 415.2h0M40.4 406.5h0M38 407.9h0M34.6 405.7h0M40.2 404.1h0M54.3 403.8h0M47.8 412.4h0M55.4 413.8h0M49.9 401.5h0M49.5 419.2h0M58.2 408.3h0M47.8 406.9h0M53.3 407.5h0M42.3 410.3h0M57.6 411.1h0M52.4 404.7h0M36.4 400.2h0M42 404.4h0M34.6 417h0M41.6 399.2h0M58.4 409.6h0M46.5 402.2h0M54.7 413.6h0M55.1 407.8h0M56.7 407.9h0M41.4 402.9h0M49.3 395.5h0M45.4 399.7h0M47 416.3h0M57.8 409.2h0M52.2 416.5h0M44.1 398.4h0M44.5 416.8h0M48.4 411.1h0M57.5 398.4h0M42.7 399.8h0M40.1 394.5h0M38.7 399.9h0M48.9 414.9h0M55.4 412.6h0M42.4 417.3h0M47.3 410.1h0M48.9 415.4h0M34.4 417.6h0M55.1 400.4h0M53.6 417.3h0M43.9 416.6h0M41.7 407.1h0M40.9 397.3h0M43.2 399.3h0M56 403.1h0M39.7 411.4h0M48.4 409.2h0M57 405.9h0M51.3 401.4h0M52.5 409.9h0M34.9 409.9h0M38.7 398.2h0M45.6 407.8h0M36 407.4h0M45.9 407.2h0M38.3 396.8h0M49.4 412h0M55.1 396.1h0M57.2 397.9h0M43.8 394.1h0M40.8 404.5h0M42.8 413.5h0M45.3 419.2h0M41.7 414.5h0M45.2 407.4h0M54.4 395.5h0M45.9 406.2h0M47 394.8h0M36.9 408.9h0M51.2 406.6h0M41.1 399.1h0M44.8 405h0M52.6 398.7h0M56.6 402h0M44.5 409.9h0M55 399h0M48.2 401.9h0M52.2 401.5h0M58.2 417.9h0M51.2 404.7h0M55.7 395.7h0M44 417.5h0M53.6 414.7h0M53.2 403.1h0M34.5 416.7h0M55.3 395.4h0M41.2 414.1h0M51.6 413.6h0M42.8 410.2h0M41.8 416.8h0M57.2 403.2h0M37.3 417.9h0M42.7 407.5h0M50.8 402.5h0M47.7 397h0M50.5 408.6h0M53.2 412.8h0M46.5 416.8h0M53.6 415.6h0M44.2 415.1h0M54.6 406.7h0M56.9 416.9h0M44.5 405.3h0M44.1 396.3h0M52.7 409.9h0M47.5 410.4h0M57.1 400.7h0M52.3 407.5h0M48.3 396.1h0M44.4 405.6h0M39.5 398.2h0M58.9 413.1h0M52.6 400h0M44 415.5h0M55.8 408.7h0M39.7 402.3h0M49 414.6h0M39 414.8h0M56.7 406.8h0M44.3 413.9h0M54 399.9h0M47 415.5h0M39.8 416.4h0M42.5 414.5h0M51.5 411.7h0M51.5 416.9h0M49.6 400.2h0M50.7 400.5h0M47.7 409.6h0M40 417.9h0M54.3 409.1h0M50.3 406.8h0M37.7 409.8h0M44.6 415h0M56 398.7h0M38.7 400.9h0M48.4 400.9h0M57 407.1h0M52 395.4h0M39.2 408h0M52.2 403.8h0M58.1 396.6h0M42.8 418.7h0M47.9 396.6h0M44.4 396.3h0M34.6 409.1h0M41.5 415.9h0M49.6 400.3h0M51.6 405.8h0M43.2 402.5h0M54.3 404.2h0M34.7 403.4h0M45.4 411.1h0M49.4 403.9h0M35.9 398.1h0M45.4 412.6h0M56.2 416.5h0M49.9 410.8h0M42.3 414.7h0M50.2 404.3h0M44.4 416.4h0M57.4 404.2h0M40.5 404h0M37.8 411.5h0M42.1 395.4h0M34.3 405.4h0M55.7 402.1h0M56.6 410.5h0M51.5 400.9h0M35.2 402.3h0M44.8 397.8h0M47.8 400.6h0M55.7 409.2h0M52.8 416.1h0M47.1 406.7h0M42.8 415.6h0M57.3 409.4h0M53.4 417.5h0M49.2 416.8h0M37.2 394.2h0M42.3 403.6h0M39.6 402.2h0M39.7 397.1h0M34.7 401.8h0M37.7 404.7h0M52.9 414.5h0M45.1 419.4h0M35.4 412.3h0M34.8 405.4h0M39.2 395.3h0M55.1 397.3h0M41.9 394.8h0M41.2 404.4h0M52.4 410.7h0M49.4 398.9h0M35 395.6h0M38.2 415.4h0M49.8 405.8h0M38.9 415.6h0M56.4 412.3h0M42.1 417.1h0M45.7 417h0M34.9 400.7h0M58.6 409.1h0M56.4 415h0M49.4 409.6h0M37.8 400.3h0M55.5 394.1h0M56.8 411.7h0M49.8 401.9h0M58.3 419.3h0M43.1 396.8h0M36.2 416h0M42.8 410.6h0M57 401.4h0M47.4 409.5h0M48.3 395.6h0M53.4 402.1h0M40.2 400.6h0M44.2 415.4h0M38 408.4h0M38.8 409.9h0M41.6 395h0M48.9 418.5h0M59 403.6h0M41.1 404.7h0M53 410.1h0M53.9 396h0M49.5 399.1h0M44.5 415.8h0M42.3 404.5h0M37.7 395.5h0M55.8 399h0M57.2 395h0M48.9 404.9h0M56.4 413.5h0M41.8 408.1h0M34.4 402.1h0M48.9 410.8h0M40.7 414.2h0M45.7 419.4h0M45.6 402h0M48.8 397.9h0M49.5 418.9h0M43.6 408.9h0M35.2 417.9h0M36.1 418.3h0M39.7 402.6h0M36 398.3h0M52.1 398h0M46.5 415.6h0M46.8 408.4h0M44.1 395.6h0M45.6 401.7h0M51.1 411h0M46.7 410.7h0M36 397.1h0M50.6 400.1h0M51 417.3h0M48.1 409.1h0M52.4 405.5h0M47 416.8h0M47.9 395.7h0M42.4 405.6h0M48.6 405.2h0M50.8 412.4h0M43.2 411.6h0M55 403.9h0M53.6 406.7h0M35.4 401.9h0M47.7 417.6h0M58.2 403.6h0M44.9 415.7h0M56.3 400.9h0" stroke="#000" stroke-opacity="0.35" stroke-width="0.65" stroke-linecap="square" fill="none"/>
<defs><radialGradient id="g2"><stop offset="0" stop-color="#000" stop-opacity="0.2"/><stop offset="0.55" stop-color="#000" stop-opacity="0.12"/><stop offset="1" stop-color="#000" stop-opacity="0"/></radialGradient><clipPath id="c2"><rect x="34.8" y="366" width="23.80" height="27.00"/></clipPath></defs>
<ellipse cx="46" cy="393" rx="16" ry="20" fill="url(#g2)" clip-path="url(#c2)"/>
<path d="M56.5 391.4h0M58.1 387h0M57.5 384.9h0M48.7 372.9h0M39.4 389.8h0M38.7 372.3h0M57.4 390.7h0M45.7 389h0M54 387.3h0M46.4 378.5h0M46.6 389.5h0M41.6 375.1h0M53.6 388.9h0M37.5 384.4h0M43.3 389.3h0M37.1 391h0M41.1 387.5h0M37.7 386.8h0M45.6 383.9h0M41.3 375h0M42.4 384.7h0M57.5 376.7h0M55 378.5h0M51 380.7h0M41.4 389.7h0M36.8 383h0M48.7 388.4h0M42.1 386.1h0M39.7 390.7h0M45.2 380.9h0M39.7 382.3h0M38.8 376.8h0M53.6 390.3h0M38.6 376h0M51.7 379h0M39.6 381.2h0M44.4 378.4h0M55.1 382.6h0M40.7 384.3h0M46.3 387.4h0M55.5 387.2h0M43.1 377h0M43.9 390.2h0M35.6 384.6h0M44.2 386.6h0M49.7 378.6h0M48.7 391.1h0M44.2 375.5h0M39 378.9h0M44.1 388.9h0M50.4 377.3h0M57.2 389.9h0M37.8 382.8h0M35.8 382.6h0M37.4 385.7h0M52.7 389.2h0M48.4 369.1h0M41.6 380.6h0M57.1 387.6h0M56.1 387.9h0M56.6 391.9h0M41.6 389h0M38.8 381.4h0M52.6 379.6h0M52.4 370.4h0M42.9 381.6h0M36.3 388h0M39.9 375h0M55.6 379h0M46.3 382.3h0M51.5 384.6h0M44.6 390.8h0M46.3 386.4h0M54.8 391.5h0M57.3 387.8h0M46.1 391.4h0M49.8 391.5h0M42.8 380.7h0M35.4 378.3h0M55.5 382.6h0M41.1 387.8h0M45.2 390.2h0M39.6 388h0M37.8 373.3h0M49.8 382.7h0M37.1 386.5h0M58 381.7h0M56.3 369.8h0M41.2 380.3h0M43.6 381.2h0M50 379.9h0M42.9 380.7h0M35.5 377.1h0M38.6 388.3h0M50.7 390.8h0M54 376.6h0M47.4 375.4h0M38.2 379.5h0M43.4 379.6h0M40.8 384.5h0M56.1 383.9h0M44.1 384.6h0M55.6 389h0M46 388.8h0M42.6 379h0M47.7 385.7h0M48.5 389.1h0M43.9 374.5h0M56.9 374.3h0M36.7 390.3h0M36.5 384.5h0M38.1 382.1h0M51.8 377.9h0M53.8 389.7h0M50.4 384.9h0M56.6 378.5h0M45.1 389.8h0M37.6 383.5h0M35.3 388h0M44.3 387.3h0M54.8 388.7h0M50 388.6h0M52.2 373.9h0M43.6 388.2h0M42.4 391.4h0M46.5 386.6h0M41.7 384.9h0M44.1 383.8h0M44.6 379.7h0M54.1 384.6h0M39.6 380.1h0M36.4 390.9h0M48.3 383.1h0M44.3 383.3h0M41 379h0M49.8 389.1h0M53.6 373.1h0M39.3 390.9h0M56.1 374.4h0M44.5 377.1h0M48.3 391.7h0M51.7 386.4h0M56.1 381.4h0M40.3 390.2h0M35.9 380.8h0M45.3 374.6h0M35.8 381.7h0M50.8 391h0M52.8 387.9h0M43.1 383.6h0M37.9 389h0M35.5 386.3h0M38.6 378.8h0M53.8 390.5h0M49.5 377h0M53.4 387.3h0M57.9 385.7h0M55.8 382.2h0M37.7 384.3h0M39 383.8h0M44 385.2h0M48.1 374h0M41.4 380.1h0M41 385.9h0M55.5 375h0M47.5 379.2h0M38.4 389.4h0M51.7 386.6h0M44.2 386.1h0M54.1 378.8h0M44.4 375.1h0M39.1 383.2h0M44.5 386.9h0M45.7 382.7h0M51.5 391h0M48.2 371h0M37.8 388.6h0M47.1 373.6h0M43 386.9h0M48.6 382.9h0M44.6 387.2h0M43 382h0M43.1 384h0M44.2 374.7h0M44.4 375.5h0M37.9 382.6h0M52.8 384.1h0M58.2 386.2h0M40.1 390.6h0M52.1 381.9h0M56.5 387.4h0M43.4 379.9h0M40.2 387.1h0M57.1 369.6h0M37.3 390.5h0M38.5 381.1h0M55.7 380.8h0M40.8 374.4h0M49.7 376.5h0M37 376h0M55.9 380.9h0M39.5 384.4h0M39.1 392.1h0M49.9 388.6h0M44.6 389.2h0M50.4 380.1h0M44 381.2h0M49.4 374.7h0M35.9 376.8h0M48.4 371.3h0M56.5 377.2h0M49.5 384.6h0M54.7 387.6h0M41.4 387h0M52.5 390.3h0M49.8 390.2h0M45.8 390.8h0M47.3 378.7h0M51.7 376.5h0M37.8 379.4h0M37.6 384h0M47.7 383.6h0M50.8 380.2h0M50.1 387.3h0M38.1 384h0M46.5 386.6h0M53.2 377.8h0M41.5 390.9h0M36.9 386.5h0M41.9 385.8h0M54.6 373.9h0M47.1 391.2h0M54.1 389.1h0M56.7 376.6h0M50.3 375.3h0M41 381.7h0M49.1 377.8h0M45.1 378.8h0M55.3 376.5h0M39 386.3h0M35.8 388.4h0M55.5 372.8h0M35.9 378.3h0M43.2 389.8h0M54.3 389.7h0M41.3 374.2h0M56.6 381.5h0M40.1 388.8h0M56.9 383.6h0M46.7 390.5h0M39.1 377h0M41.1 384.9h0M52.5 370.4h0M42.7 389h0M35.6 391.1h0M36.5 377.8h0M50.6 370.1h0M43.2 370.8h0M57.8 382.5h0M47.8 390.4h0M46.6 369.2h0M52.9 386.6h0M47.9 385.4h0M50.2 391.6h0M58.1 388.5h0M44 379.8h0M47.2 389.9h0M55.6 390.6h0M46.9 385.6h0M48.9 385.7h0M44.9 380.1h0M57 383h0M49.9 388.4h0M48.7 385.3h0M46.9 386.5h0M38.3 373.8h0M48.6 380.8h0M56.4 385.4h0M54.7 390.2h0M52 383.4h0M51.2 379.4h0M56.9 376.2h0M47.5 381.4h0M52.4 376.7h0M47.4 383.4h0M54.9 377.4h0M41.1 388.5h0M40.6 385.6h0M55.3 388.4h0M40.2 385.6h0M57.9 373h0M43.6 376.3h0M46.7 386.4h0M48.3 391.5h0M42.3 385h0M35 382.5h0M48 377.6h0M44.5 383.7h0M56.6 387.7h0M36.8 390.4h0M51.9 389.4h0M55.4 387.3h0M46.1 390.4h0M54.5 386.8h0M57 385.9h0M56.3 388.7h0M41.2 381.4h0M45.6 390.3h0M48 385.8h0M37.5 378.3h0M40.8 379.9h0M55.3 388.2h0M58 377.5h0M39.3 384.5h0M55.6 376.3h0M40.8 385.7h0M40.4 383.8h0M44.1 382.8h0M53.2 386.7h0M35.4 383.2h0M43.5 381.9h0M42.2 390.4h0M57.4 390.1h0M50.8 388h0M35.7 377h0M57.1 382.9h0M41.9 370.6h0M45.9 379.3h0M53.6 391h0M50.5 381.2h0M47.5 383.4h0M47.6 385.1h0M42.8 390.7h0M39.8 378.2h0M43.5 385.2h0M54.8 383h0M56.9 385.2h0M52.1 380.2h0M41.3 377.4h0M39.8 376.7h0M47.1 386.5h0M50.8 383.8h0M47.8 378.2h0M40.5 378.5h0M54.2 387.4h0M42.2 381.5h0M38.7 381h0M49.2 383.6h0M54.1 372.6h0M50.8 385.6h0M49.8 389.2h0M48.2 384.4h0M55.1 389.2h0M48.5 388.3h0M57.8 390.7h0M47.2 388.3h0M51.8 389.6h0M56.7 380.6h0M57.2 384h0M52.3 377.8h0M39.7 371.4h0M42 382.4h0M37.7 390.5h0M38.4 388.1h0M41.9 378h0M49.2 382h0M50.6 382.2h0M35.2 390.2h0M54.2 389.4h0M41.6 390.6h0M42.7 377.8h0M57.7 390.8h0M49 386.2h0M41.8 389.5h0M36.6 379.7h0M43.5 387.7h0M45.2 387.2h0M37.8 388.8h0M57.8 377.2h0M56.6 379.5h0M47.8 378.6h0M55.4 378.7h0M42.8 375.3h0M49.1 381.2h0M45.7 385.9h0M45.6 384h0M35.9 380.4h0M46.1 387.7h0M35.6 380.9h0M47 389.8h0M50.1 388.5h0M52 388.9h0M57.7 379.3h0M51.4 389.5h0M41.4 377h0M44 391.6h0M46 379.7h0M56.7 374.8h0M39.4 385.4h0M46.6 382.2h0M45.3 390h0M40.2 383.6h0M51.3 389.7h0M51.5 377.1h0M44.3 390.1h0M47.6 388.1h0M37.5 381.2h0M42.3 379.6h0M38.2 380.4h0M54.5 383h0M38.3 378.5h0M48.1 382.6h0M52.4 382.2h0M47.2 382.2h0M57.1 384.4h0M49.3 375.4h0M45.7 381.3h0M51.2 384.8h0M50.1 376.7h0M49.7 381.1h0M41.4 379.6h0M57.6 378.5h0M42.2 370.9h0M52.6 382.8h0M35.3 379h0M51.5 377h0M38.9 390.7h0M49.9 383.1h0M45.8 391h0M48.7 387h0M50.7 389.5h0M36.5 374.3h0M48 391h0M42.6 384.3h0M54.7 369.8h0M45.4 380.9h0M57.2 378.8h0M43 389.9h0M56.2 388.8h0M56.9 390.3h0M37 384h0M49.4 389h0M44.2 389h0M49.1 373.6h0M50.3 391.9h0M40.5 392.4h0M48.5 379.5h0M43.9 386.6h0M53.9 381.1h0M54.6 377.6h0M48.2 385.4h0M41.8 387.4h0M41 380.8h0M44.9 385.2h0M37.7 391.4h0M43.1 379.1h0M37.3 385.8h0M46.5 378.3h0M49 375h0M36.4 389.5h0M43.9 385h0M47.7 385.8h0M37.4 381.2h0M41.5 379.9h0M55.8 375.8h0M57.2 378.8h0M41.3 383.6h0M56.3 389.6h0M47.2 386.7h0M38.3 378.6h0M36.8 392.6h0M40.1 389.4h0M56.2 386.9h0M39.1 389.2h0M53.4 382.7h0M51.2 391h0M41.2 379h0M45 373.7h0M55.3 378.3h0M56.2 386.6h0M55.3 385.7h0M39.5 383.5h0M36.7 391.1h0M50 382.6h0M37.6 386.9h0M49.2 383.8h0M52.6 389.2h0M50.8 378.2h0M37.9 381.9h0M49.5 377.2h0M42.2 389.8h0M36.1 368h0M46.1 382.7h0M53.1 387.2h0M48.7 385.6h0M57.8 386.4h0M40.3 390.3h0M56.6 377.7h0M56.9 387.5h0M56.6 379.7h0M40.7 385.7h0M50.1 390.1h0M42.4 381.3h0M57.3 386.5h0M50.7 376h0M53.2 382.8h0M53.8 388.2h0M44 389.8h0M42.9 377.7h0M36.5 379.1h0M51.9 391.3h0M54 391.3h0M50.7 374.2h0M40.8 381.4h0M50.6 383h0M53.9 381.9h0M39.9 380.4h0M47.3 390.6h0M36.2 390.3h0M36.5 375.6h0" stroke="#000" stroke-opacity="0.28" stroke-width="0.6" stroke-linecap="square" fill="none"/>
<path d="M65 378.5h0M62.3 372.5h0M66.2 380.9h0M62.2 387.6h0M62.7 378.6h0M66.8 385h0M60.5 372.8h0M65 385h0M66.7 379.1h0M62.4 383.8h0M64 381.2h0M64.3 383.7h0M64.2 381.1h0M67.9 381.1h0M64.1 383.7h0M65.6 389.2h0M61.7 377.7h0M60 378.3h0M63.5 379.3h0M62.6 382.3h0M66.9 384.4h0M64.8 379.8h0M63.5 381.1h0M65.3 379.4h0M65.2 381h0M66.3 379.2h0M64.9 375.3h0M65 382.1h0M68.5 391.6h0M64.2 391.9h0M63.6 382.2h0M62.2 375.6h0M61.1 374.8h0M62.9 388.9h0M61.2 377.8h0M62.6 378.2h0M63.2 370.5h0M63 383.8h0M64.1 385.1h0M63.8 377h0M62.7 379.3h0M62.1 372.2h0M67.2 385.9h0M65.7 383h0M64.9 388.3h0M63.9 374.5h0M61.6 381.2h0M67.7 380.9h0M65 380.1h0M61.2 375.6h0M62.2 382h0M59.8 386.9h0M68.2 381.4h0M60.6 380.5h0M62 381.2h0M61.8 382.4h0M62.1 377.2h0M66.7 376.3h0M62.3 376.1h0M66 373h0M66.8 382.9h0M63.3 380.8h0M62.4 375.3h0M64.3 379.9h0M62.7 383.9h0M64.3 383.5h0M60.2 380.8h0M63 376.3h0M64.1 377.3h0M61.2 384h0M62.4 384.3h0M62.2 380.6h0M64.6 378h0M67.5 385.1h0M65.5 384h0M66.3 380.1h0M67.8 380.6h0M65 380.3h0M59.8 384.3h0M66.8 379.7h0M66.4 374.1h0M64 382.9h0M62 375.9h0M64.9 375.3h0M65.2 375.2h0M64.2 382.4h0M63 380.4h0M60.3 386.1h0M63.8 385.2h0M60.6 385.7h0M65 383h0M66 376.6h0M62 378h0M63.4 379.7h0M62.3 383.4h0M61.3 374.7h0M63.1 388.5h0M59.8 377.6h0M61.1 377.9h0M65.5 387.6h0M64.5 379.6h0M62.7 386.7h0M65 382.6h0M65.6 383.3h0M59.5 381.6h0M64.7 375.9h0M64.9 372.1h0M68.5 379.5h0M63.9 385.9h0M61.4 383.8h0M63.9 379.8h0M61 384.1h0M63.4 377.6h0M68.2 385.9h0M62.8 388.1h0M64.7 383.1h0M65.5 384.4h0M64 374.7h0M63 392.2h0M64.5 378h0" stroke="#000" stroke-opacity="0.38" stroke-width="0.7" stroke-linecap="square" fill="none"/>
<path d="M65.8 409h0M63 399.2h0M61.8 405h0M66.4 405.4h0M62.5 398.5h0M65.6 403.5h0M59.5 410.2h0M65.1 394.8h0M66 403.1h0M64.5 402.8h0M62.4 406.4h0M64.2 400.2h0M65.9 406.1h0M61.5 403.2h0M62.7 402.9h0M60.2 409.5h0M60.1 403.6h0M60.3 416.6h0M67.3 407.2h0M61.8 399.3h0M65.2 400.7h0M63.1 401.7h0M65.2 404.5h0M65 406.7h0M64.7 408.1h0M61.6 397.5h0M62.1 410h0M66.3 413.5h0M67.1 403.3h0M63.4 418.2h0M60.1 408.4h0M65.8 395.5h0M64.4 412.7h0M69 402.9h0M65 405.2h0M63.4 408.9h0M62.8 403.7h0M68.3 394.7h0M66 413.3h0M64.4 404h0M66.1 417.8h0M60 405h0M61.5 414.5h0M69.8 404h0M63.8 396h0M66.3 406.2h0M63.6 409.6h0M63.5 409.3h0" stroke="#000" stroke-opacity="0.3" stroke-width="0.65" stroke-linecap="square" fill="none"/>
<rect x="34.4" y="350.6" width="70.80" height="69.60" fill="none" stroke="#a0a0a0" stroke-width="1.0"/>
<line x1="58.90" y1="350.60" x2="58.90" y2="420.20" stroke="#a0a0a0" stroke-width="0.9" stroke-linecap="butt"/>
<line x1="34.40" y1="393.20" x2="105.20" y2="393.20" stroke="#a0a0a0" stroke-width="0.9" stroke-linecap="butt"/>
<path d="M31.60 420.20H34.40M32.72 414.96H34.40M32.72 411.90H34.40M32.72 409.72H34.40M32.72 408.04H34.40M32.72 406.66H34.40M32.72 405.50H34.40M32.72 404.49H34.40M32.72 403.60H34.40M31.60 402.80H34.40M32.72 397.56H34.40M32.72 394.50H34.40M32.72 392.32H34.40M32.72 390.64H34.40M32.72 389.26H34.40M32.72 388.10H34.40M32.72 387.09H34.40M32.72 386.20H34.40M31.60 385.40H34.40M32.72 380.16H34.40M32.72 377.10H34.40M32.72 374.92H34.40M32.72 373.24H34.40M32.72 371.86H34.40M32.72 370.70H34.40M32.72 369.69H34.40M32.72 368.80H34.40M31.60 368.00H34.40M32.72 362.76H34.40M32.72 359.70H34.40M32.72 357.52H34.40M32.72 355.84H34.40M32.72 354.46H34.40M32.72 353.30H34.40M32.72 352.29H34.40M32.72 351.40H34.40" stroke="#555" stroke-width="0.8" fill="none"/>
<text transform="translate(64.20,361.30) scale(0.9,1)" font-size="10.8" text-anchor="start" font-weight="normal">T</text>
<text x="69.20" y="364.60" font-size="8.0" text-anchor="start" font-weight="bold">EMRA</text>
<defs><linearGradient id="lgU" x1="0" x2="0" y1="0" y2="1"><stop offset="0" stop-color="#000" stop-opacity="0"/><stop offset="0.2" stop-color="#000" stop-opacity="0.27"/><stop offset="0.75" stop-color="#000" stop-opacity="0.25"/><stop offset="1" stop-color="#000" stop-opacity="0.15"/></linearGradient></defs>
<rect x="34.3" y="441.5" width="37.5" height="22.7" fill="url(#lgU)"/>
<defs><radialGradient id="g3"><stop offset="0" stop-color="#000" stop-opacity="0.5"/><stop offset="0.5" stop-color="#000" stop-opacity="0.30"/><stop offset="1" stop-color="#000" stop-opacity="0"/></radialGradient><clipPath id="c3"><rect x="57" y="440" width="18.00" height="24.20"/></clipPath></defs>
<ellipse cx="66.3" cy="450.8" rx="7.0" ry="9.0" fill="url(#g3)" clip-path="url(#c3)"/>
<path d="M59.7 460.5h0M49.4 452h0M68.6 454.6h0M61.8 458.2h0M62.3 444h0M40.6 449.9h0M42.3 456.7h0M54.9 459.3h0M60.2 449.8h0M53.5 457.5h0M43.9 448.8h0M50.8 443.5h0M64.7 449.8h0M40 452.1h0M60.6 455.3h0M68.6 450.1h0M59.5 445.8h0M47.8 445.4h0M65.1 449.3h0M40.5 449.9h0M41.1 458.8h0M67.2 454.6h0M65.5 446.3h0M60.9 454.4h0M44.1 458.8h0M67.2 450h0M36.8 445.3h0M64.9 458.6h0M35.2 452.3h0M42.2 459.9h0M35.4 449.3h0M44.7 442.8h0M51.1 449.7h0M70.4 450.8h0M37.8 455.4h0M38.2 445.3h0M57.4 458.9h0M41.1 451.4h0M69.1 459.2h0M43.3 446.4h0M37.9 451h0M46.9 461.6h0M68.2 451.1h0M42.1 453.4h0M65.8 446.5h0M67.7 455.6h0M68.6 453.8h0M55.2 443.2h0M36.9 449.1h0M67.4 458.6h0M41.4 459.8h0M67.2 457.8h0M65.5 456.7h0M71.3 448.9h0M68.6 452.4h0M63.3 455.9h0M51.2 459.2h0M49.1 451.4h0M64.5 453.6h0M65.1 453.2h0M41.7 455.1h0M68.1 462.8h0M49.7 453.2h0M41 457.9h0M40.3 450.3h0M37.4 453.8h0M39.8 456.6h0M59.7 457.4h0M45 463.2h0M67 450.9h0M67.5 450.2h0M51.6 458.4h0M46.7 453.9h0M68 450.6h0M50.4 460.3h0M68.2 449.9h0M63.5 446.3h0M49 452.5h0M49.7 460.9h0M42.2 448.9h0M41.4 456.1h0M71.3 448.4h0M54.4 452.1h0M35.9 454.2h0M69.9 452.4h0M35.3 456.4h0M38.8 452.6h0M40 458h0M48.5 459.9h0M52.4 456.9h0M64.8 450.2h0M68 447.9h0M71 457.2h0M57.4 448.5h0M43.5 450.3h0M55.2 458.6h0M70.8 447.5h0M52.7 458h0M57.6 452.6h0M71.8 455h0M40.2 449.6h0M44.3 450.3h0M67.4 443.1h0M44.5 446.3h0M55.6 457.9h0M35.4 446.9h0M63.6 455.4h0M38.8 454.2h0M70.4 454.6h0M64.2 448h0M38.8 457.1h0M44.5 447h0M40.4 455.3h0M62.8 451.6h0M41.9 454.6h0M56.1 458.1h0M38.6 456.5h0M51.2 455.1h0M43.1 456.8h0M53.5 455.3h0M57.4 443.1h0M45.7 452.1h0M38.2 444.8h0M62.7 450.4h0M65.2 451h0M37.6 446.2h0M46.3 455.1h0M53.1 451.1h0M62.3 449.4h0M51.5 458.3h0M42.3 448.5h0M36.1 455.5h0M60.7 451.4h0M69.7 457.6h0M63.8 455.2h0M52.9 452.4h0M71.3 461.8h0M49 454.9h0M47.3 450.1h0M42.3 457.3h0M42.2 455.7h0M35.1 457.8h0M50.1 459.4h0M36.9 455.1h0M56.6 447.6h0M45.4 446.7h0M48.4 452.1h0M56.3 458.1h0M58 451.3h0M41.2 447.7h0M71.7 455.8h0M47.4 459.4h0M60.8 448h0M61.9 457.7h0M34.8 456.5h0M65.7 444.8h0M57.2 457.3h0M57 444.2h0M41.9 447h0M44.2 449.3h0M63.1 447.9h0M56.2 452.5h0M40.8 453.6h0M69.4 451h0M70.9 451.7h0M68 452.3h0M57.2 442.8h0M40.4 448.7h0M61.9 451.3h0M52.4 447.7h0M58.5 454.3h0M38.1 458.1h0M39.7 448.6h0M35.6 451.5h0M42.4 448.6h0M41.6 458.6h0M60.9 449.9h0M37.2 450h0M41.6 446h0M37.2 461.5h0M53.8 458.5h0M67.3 451.5h0M48.2 450.6h0M54.1 453.2h0M48 458.2h0M66.2 449.6h0M58.2 451.2h0M47.1 454.6h0M37.3 450h0M50.9 451.8h0M49.2 454.1h0M49.8 448.9h0M37 446.6h0M50 453h0M42.9 460.5h0M40.9 456.4h0M48 452h0M49.2 452.6h0M38.1 459.3h0M51.2 450.8h0M43.3 447.9h0M56.6 455.4h0M53.6 451.2h0M50 454h0M53 457.5h0M45.6 456.2h0M41.2 446.6h0M57.3 452.4h0M36.4 450.7h0M53.4 456.6h0M40.6 447.8h0M40.8 458.1h0M52.4 453.9h0M39.8 452.1h0M64.9 445.2h0M38.4 453.9h0M48.5 455h0M64.9 456.2h0M43.8 449.7h0M65.4 453.8h0M56 457.6h0M52.2 446h0M56.5 450.8h0M61.5 455.3h0M64.9 451.4h0M69.8 458.1h0M66.2 459.9h0M49.6 446.4h0M36.4 454.9h0M42.9 451.5h0M68.9 446.9h0M64.4 445.6h0M59 445.4h0M59.9 448.7h0M62.6 451.7h0M54.4 449.3h0M40.5 456.1h0M37.3 458.8h0M59.6 443.6h0M69 453.2h0M46 453.9h0M53.6 458h0M70.5 457.8h0M40.7 451.3h0M59.8 458.6h0M48.5 453.5h0M46.7 459.1h0M37.9 447.1h0M51.4 449h0M37.5 452h0M58.2 443.7h0M62.8 452.8h0M69.1 450h0M53 449.1h0M47.8 460.6h0M40.4 453h0M53 458.5h0M66.1 458.8h0M58.1 452.3h0M61.8 451.4h0M64 458.3h0M52.2 458.1h0M52.3 451.2h0M38.9 448.4h0M42.6 454.1h0M49.4 445.6h0M37.4 458.8h0M52.1 461.9h0M61.2 451.2h0M53.9 455.9h0M34.8 445.5h0M64.1 453.7h0M53 447.9h0M41.2 451.2h0M35.8 453.4h0M43.7 455h0M50.9 446.3h0M43.8 462.2h0M71.3 456.2h0M38 445.2h0M46.2 451.4h0M54.7 451.2h0M66.5 458.1h0M34.5 448.5h0M40.9 456.6h0M62 458.1h0M46.5 450.6h0M67.5 451.4h0M56.7 448.2h0M34.9 450.6h0M55.2 444.8h0M66.9 452.8h0M36.7 454.8h0M70.7 455.1h0M35.3 462.7h0M45.7 449.7h0M48.8 453.5h0M41.4 454.4h0M46.1 451.1h0M66.9 452.9h0M66.5 458.4h0M61.3 460.2h0M51.1 452.1h0M39.9 454.5h0M43.7 458.8h0M55.1 450.7h0M52.6 456.2h0M66.1 447h0M40.8 453.3h0M51.1 448.4h0M43.8 454.9h0M47.8 456.8h0M43.3 453.4h0M71.6 455.8h0M42.6 454h0M51.8 452.6h0M47.6 455.6h0M64.4 455.8h0M61.1 452.4h0M55.3 460.4h0M37.7 444.3h0M35.6 454.8h0M50.5 451.1h0M54.5 459h0M58.5 454h0M35.5 455.1h0M66.6 453.8h0M39.2 444.1h0M57.5 452.5h0M35.9 457.6h0M53.3 458h0M71.2 450h0M71.6 444.9h0M36.4 453.5h0M49.8 450h0M64.3 463h0M46.5 445.5h0M41.5 451h0M63.1 457h0M44.2 457.8h0M53.2 460.6h0M42.6 459.3h0M45 452.8h0M65 449h0M41.8 453.1h0M45.1 449.9h0M52.7 454h0M71 447.3h0M37.4 451.5h0M50.2 453.3h0M65.2 451.5h0M44.1 456.1h0M66.3 447.4h0M63 451.7h0M46 447.5h0M60.6 454.1h0M68.8 455.4h0M45.9 449.9h0M44.9 456.5h0M53.7 454.5h0M49.7 458.3h0M59 456.7h0M36.9 448h0M48.6 461.8h0M47.2 454.2h0M54.3 453h0M70.2 451.8h0M58.6 457.6h0M45.5 447.6h0M60.1 452.3h0M62.8 451h0M65.4 454.6h0M52.8 446.4h0M37.6 451.7h0M43.3 451h0M46.7 450.3h0M69 453.5h0M68.3 453.4h0M64.3 446h0M54 460.1h0M34.8 450.3h0M60.8 444.2h0M40.9 457h0M58.5 452.1h0M61.3 459.5h0M41.3 450.5h0M62.9 452h0M59.9 460.7h0M42.6 455.2h0M64.6 444.9h0M71.9 451.5h0M47.3 446.8h0M56.6 444.4h0M46.3 463.4h0M35.8 455.3h0M70.8 447.2h0M69.5 452h0M66.4 451.9h0M54 452.2h0M71.8 460.4h0M47.1 458.1h0M52.9 459.3h0M66.8 447.6h0M64.5 452.3h0M42.6 454.7h0M60 451.7h0M71.3 451.4h0M38.9 452.2h0M57.5 460.1h0M43.6 458.5h0M52.1 449.1h0M35.7 462h0M53.8 461.3h0M44.9 458.7h0M69.2 459.3h0M64.1 455.3h0M70.3 451.8h0M38.7 460.8h0M57.2 453.4h0M37.5 455h0M37.8 446.9h0M63.5 457h0M68.9 454.8h0M60.5 455.6h0M37 455.1h0M57.8 446.1h0M64.5 463.9h0M47.3 459.7h0M42.2 447.6h0M62.5 451.5h0M58.8 455.7h0M49.8 454.1h0M51.9 446.7h0M64.9 446.6h0M68.5 445.2h0M69.1 447.2h0M47.7 455h0M50.7 451.6h0M49.7 460.7h0M66 453.8h0M71.5 455.9h0M45 455.4h0M42.8 454.6h0M61.1 462.5h0M64.2 456.9h0M41.4 452.7h0M47.8 455.6h0M62.2 452.5h0M69.9 458.3h0M53.8 454.6h0M65.4 455.8h0M43.7 449.1h0M71.4 453.1h0M54.1 446h0M42.3 459.3h0M72 452.3h0M58.2 457.7h0M39 459.5h0M47.2 449.5h0M60.5 448h0M38.3 459h0M44.1 447.9h0M38 456.9h0M63.9 462.9h0M44.6 457.7h0M66.8 450.7h0M41.6 452.4h0M34.9 454.6h0M43.7 449.2h0M69.3 451.4h0M62.7 445.4h0M65.2 458.8h0M70 450.5h0M41.1 454.9h0M62.2 454.8h0M41.4 458.2h0M41.7 455.6h0M38.1 459.1h0M46.7 456.5h0M56.1 447.3h0M68.4 451.7h0M66.2 448h0M54.5 445.5h0M65 447.1h0M69.5 454.5h0M51.8 451.2h0M67.2 459.6h0M36 442.6h0M71.6 460.9h0M49.3 449h0M61.1 458h0M66.8 446.2h0M38.2 445h0M41.4 448.5h0M61.8 463.6h0M50.3 453h0M63.1 450h0M62.6 451.6h0M67.4 457.9h0M44.2 453.8h0M52.6 454.2h0M67.5 450.1h0M37.5 455.3h0M59.8 451.2h0M50.5 450.3h0M60.7 452.7h0M65.6 462.1h0M47.6 447.7h0M41 448.8h0M62.1 461.7h0M66.7 450.8h0M45.3 445.3h0M38.9 456.8h0M44 450.2h0M45.5 449.5h0M36 448.8h0M54.1 460.5h0M37.9 456.2h0M50.9 445.9h0M36.3 451.9h0M40.7 451.2h0M65.2 456.9h0M48.4 445.4h0M51 453.3h0M61.6 455.9h0M42.7 453.3h0M70.7 457.2h0M66.2 458.6h0M67.4 449.6h0M54.5 457.2h0M42.2 452.5h0M61.4 460.7h0M39.6 447.7h0M69.1 453.1h0M45.6 448h0M66.1 452.1h0M67.1 451.6h0M37.5 449.9h0M36.6 444.7h0M55.9 452.2h0M57.3 458.1h0M57.9 459.7h0M36.3 456.4h0M40.9 455.9h0M65 460.5h0M36.3 451h0M63.7 457.9h0M50.1 454.5h0M58.5 463.4h0M59.6 451.4h0M49.3 459.8h0M49.7 449.5h0M41.1 448.7h0M43.2 452.2h0M53.6 461h0M62.2 459.5h0M37.3 456.3h0M55.2 447.5h0M51.6 451.6h0M68.1 445.6h0M53.5 450.1h0M48.5 448.6h0M47.4 450.2h0M70 459.4h0M53.4 444.6h0M58.6 460.9h0M38.3 455.2h0M62.1 446.6h0M71.4 445.7h0M66.6 454.7h0M71.6 455.7h0M63.9 452.9h0M55.5 446.4h0M66.1 452h0M38.7 451h0M40.5 447.1h0M65.6 452.2h0M36.6 458h0M55.8 459.8h0M44.5 456.3h0M46.4 454.4h0M67.2 453.7h0M67.4 453.7h0M34.9 458.4h0M34.6 448.1h0M42.8 448.7h0M56.3 446.6h0M65.8 451.9h0M41.3 459.6h0M39.3 448.2h0M67 458.5h0M66.1 448.8h0M56.9 461h0M35.3 456.9h0M42.6 445.3h0M39.6 453.1h0M65.4 456.4h0M54.9 455.8h0M45.1 451.9h0M40.5 457.6h0M59.3 456.5h0M45 456.6h0M68.9 455.5h0M40.7 447h0M46.7 460.6h0M41.2 455.7h0M36.8 463h0M36 457.3h0M42.6 448.8h0M46.1 448.8h0M59 456.9h0M50.6 456h0M46.5 450.1h0M37.9 460.1h0M41.8 460.6h0M52.8 445.1h0M57.2 458.6h0M60.9 449h0M53.7 451.8h0M37.4 450h0M69 449.9h0M43.3 448.5h0M34.7 454.5h0M46.7 445.4h0M60.6 456.3h0M57.3 447.1h0M54.5 457.9h0M48.6 446h0M52.7 444.9h0M47.4 447.8h0M63 448.2h0M37.2 451.5h0M44.4 449.7h0M72 450.8h0M69 455.8h0M45.9 450.2h0M62.3 456.7h0M41.9 451.3h0M42.4 463.4h0M64 443.9h0M63.8 444.9h0M43.5 452.8h0M60.2 456.3h0M41.6 455.3h0M42.1 460.9h0M34.8 449.7h0M49.7 452.1h0M66.2 450h0M45.8 449.9h0M64.4 452.4h0M58.4 444.5h0M38.1 458.2h0M44.5 453.7h0M43.3 454.5h0M41.1 460.2h0M64.6 452.6h0M50.4 449.8h0M45.4 448.4h0M46 443.9h0M51.2 457.5h0M39.3 449h0M54.6 453h0M56.4 458.2h0M59.4 461.1h0M37.4 453.6h0M35.8 444.9h0M49.9 450.2h0M52.7 447.5h0M67.3 445.6h0M41.8 455.6h0M43 445.8h0M68.6 448.9h0M38.8 445.9h0M35.3 454h0M49.3 444h0M68.7 452.4h0M54.9 446.2h0M53.5 455.2h0M38 452.5h0M63.9 447.2h0M64.6 455.2h0M67.5 456.9h0M35.7 456.1h0M52 446.2h0M68.4 455.1h0M35.8 458h0M69.6 451.8h0M67.7 447.4h0M45.6 455h0M54.4 453.8h0M38.6 451.5h0M50.2 456h0M71.1 445.3h0M46.3 457.6h0M42.4 458.2h0M69.9 448.3h0M44.9 450.7h0M43.5 455.5h0M44.5 458.1h0M59.1 444.9h0M49.1 460h0M35.2 446.6h0M35.5 454.3h0M63.7 448.4h0M48.2 454.5h0M37.7 451.6h0M65.5 451.1h0M68.6 453.2h0M37.6 446.2h0M46.3 457.6h0M58.4 459.2h0M69.6 445.6h0M71.5 453.5h0M47.1 452.3h0M44.8 447.5h0M71.5 450.9h0M51.7 453.3h0M58.7 456h0M52.6 456.4h0M42.5 449h0M55.4 449.5h0M56.9 454h0M67 455.4h0M55.5 460.6h0M67.3 447.5h0M61.6 448.3h0M35.9 462.1h0M56.9 456.8h0M56.4 449.1h0M65.7 461.7h0M38.6 457.8h0M69 453.7h0M49.4 450.2h0M63.1 454.7h0M72 456.3h0M36.2 443.6h0M56.9 459.3h0M39.1 453.5h0M52.1 454.5h0M59.1 448.3h0M52.7 447.5h0M34.7 456.5h0M35.2 458.3h0M37.4 459.1h0M63.2 454.1h0M60.6 453.7h0M49.3 453h0M60.6 445.5h0M70.6 451.1h0M61 452.5h0M70.8 455.4h0M40 449.9h0M37.8 446h0M63.5 456.8h0M61.9 454.4h0M63.2 458.9h0M50.9 452.2h0M53.8 455h0M37.2 460.8h0M68.3 456h0M47.4 452.5h0M64.6 455.6h0M40.9 454h0M44.9 448.6h0M48.6 454.3h0M70.2 458.2h0M47.4 448.9h0M43.3 446.5h0M55 458.1h0M47 452.9h0M37.1 451.8h0M62.4 457.1h0M65.6 454.8h0M62.9 450.7h0M67.6 455.7h0M34.5 442.9h0M41.4 451.9h0M61.9 457.5h0M42.9 449.4h0M71 458.9h0M67.3 458.2h0M54.1 448.2h0M57.2 460.4h0M47.3 447.3h0M64.1 456.4h0M52.1 450.8h0M56.2 452.7h0M45.8 448.5h0M60.2 456.4h0M49.6 449.9h0M35.1 453.2h0M69.8 451.9h0M71.4 446.1h0M44.3 448.4h0M43.8 449.4h0M41.2 454.9h0M60.9 456.6h0M49.7 455h0M56.7 460.3h0M49 455.6h0M60.3 448.5h0M41.3 457.2h0M59.7 452.2h0M58 452.6h0M62.8 450h0M38.4 450.1h0M62.9 455.2h0M44.8 450.3h0M40 453.5h0M46.8 453.2h0M58.1 447.3h0M52.4 458.1h0M60.6 447.3h0M53.8 458.4h0M58.4 455.1h0M43.5 458.7h0M58.3 449.7h0M71.3 451.7h0M46.6 452.8h0M37.2 453.6h0M61.4 452.9h0M38.2 460.2h0M65.3 450.9h0M63 453.1h0M58.8 453.5h0M35.2 454.4h0M71.1 456.4h0M61 456.7h0M53.7 456.5h0M41.5 455.5h0M70.7 445.3h0M71.5 457.4h0M51.8 460.8h0M53.3 455.2h0M67.5 460h0M51.5 447.3h0M70.4 448.5h0M38.8 458.2h0M48.1 447.1h0M66 446.5h0M68.2 449.1h0M39.4 452.8h0M35.3 456.1h0M38.5 450.5h0M69.1 448.2h0M37.5 456.9h0M60.9 449.3h0M37.4 454h0M36.2 445.1h0M51.6 453.1h0M54.4 456.8h0M57.7 459.7h0M42.3 448.4h0M55.6 447.9h0M57.6 455.4h0M72 454.1h0M60.1 460.5h0M34.8 454.2h0M45.9 452.7h0M43.5 460.2h0M35.4 455.2h0M66.9 462.1h0M37.8 455.8h0M56.1 450.3h0M46.8 459.9h0M62.3 458.4h0M61.2 459.7h0M57.4 457.3h0M48.7 454.4h0M67.8 446.2h0M46.9 451.7h0M67 452.3h0M45.7 452.5h0M48 459.5h0M70.9 455.5h0M59.6 453.3h0M42.7 453.7h0M69.2 462.9h0M49.5 452h0M71.1 455.1h0M48.9 452.8h0M36.6 460.2h0M47.9 456.1h0M52.2 458.9h0M48.1 449.5h0M68 462.1h0M52.3 446.1h0M45.3 458.9h0M53.5 454.7h0M40.7 458.3h0M36.2 450.3h0M60 448.6h0M70.1 454.9h0M71.3 455.6h0M38.2 447.5h0M38.6 454.2h0M57.8 449.2h0M63.5 455.4h0M68.8 445.6h0M61.8 456.9h0M68.6 449.6h0M52.8 455.2h0M46.4 448.9h0M64.1 451h0M67.7 459.5h0M39.2 451.1h0M55.2 450.3h0M67 459.2h0M46.8 454.4h0M60 454.3h0M48.1 457.6h0M70.3 453.6h0M39.6 457.2h0M38.6 456.3h0M56.7 458h0M50.2 451.8h0M71.3 452.8h0M51.6 454h0M63.3 453.3h0M53.6 447.6h0M57.2 445.9h0M54.6 444.5h0M66.1 458.5h0M66.6 459.8h0M41 448.5h0M43.4 447.9h0M36.8 448.8h0M43 458.1h0M53.3 447.3h0M58 449.2h0M35.9 453.2h0M43.2 446.7h0M66.3 453h0M37.7 452.2h0M41.2 452.7h0M58.3 447.2h0M67.8 453.5h0M37.8 453h0M37.9 458.2h0M53 454.9h0M40.6 462.9h0M41.8 452.9h0M42.5 453.3h0M51.3 448.3h0M58.1 448.9h0M69.9 448.8h0M67 454.5h0M36 460.7h0M47.9 451.5h0M69 448.8h0M51.8 449.9h0M58 460.2h0M64.6 461.2h0M60.4 443.1h0M57.7 445.6h0M46.9 455h0M47.5 461h0M65.1 448.6h0M68.8 460.4h0M38.6 452.4h0M41.5 451.1h0M57 451.6h0M56.7 443.8h0M52.6 460.4h0M70.2 447.7h0M51.9 443.6h0M56.5 456.3h0M34.9 452.9h0M40.2 463.4h0M50.1 446.8h0M38.5 453.2h0M58.4 462.7h0M50.8 446.3h0M46.8 453.2h0M53.1 449.5h0M42.5 455.3h0M45.3 450.8h0M34.8 456.5h0M68.9 450.9h0M66.7 442.9h0M36 443.8h0M45.5 449.6h0M51.1 452.6h0M69.3 459.6h0M36.5 452.6h0M67.1 453.6h0M67.9 445.4h0M57.5 447.6h0M52.1 444.7h0M35 456.2h0M36.8 457.8h0M71.5 452.8h0M43.2 446.7h0M42.5 457.6h0M55.3 453.8h0M45.4 453.5h0M65.3 454.4h0M47.6 456h0M43.4 453.7h0M40.8 457.3h0M70.4 451.2h0M44.2 459.4h0M52 452.8h0M56.4 456.4h0M68.2 459.3h0M59.7 451.7h0M50.3 448.4h0M65 461.7h0M66.9 458.3h0M46 451.2h0M71.5 447.8h0M48.8 445.5h0M61.9 456.4h0M56 454.4h0M46 457.7h0M54.5 456.2h0M57 455.7h0M49.6 443.8h0M57.2 453.4h0M61.7 456.1h0M50.6 449.7h0M34.9 453.7h0M44.5 451.3h0M37 446.2h0M50.4 452.5h0M53.9 454.8h0M38.3 459.6h0M35.9 459.8h0M46.1 446.4h0M70.2 458.6h0M40.7 455.1h0M47.8 444.6h0M57.6 451.8h0M48.6 456.2h0M44.4 457h0M37 455.3h0M48 449h0M53.5 445.5h0M66.9 454.3h0M55.8 455.5h0M54.5 458.3h0M36.5 449.1h0M51.3 450.5h0M70.6 450.6h0M58.7 443.6h0M54.1 463.1h0M45.9 452.8h0M49.9 445h0M36.6 458.8h0M35.2 459.9h0M40.8 450.1h0M47.9 447.1h0M66.5 454.6h0M68.1 455.7h0M36.2 443h0M61.3 450h0M63.1 448.7h0M36.6 455.1h0M38.1 459.7h0M48.3 460.6h0M43.8 452h0M71.1 453.4h0M35.6 453.5h0M58.9 454.6h0M65.1 458h0M71.5 455.3h0M66.4 449.9h0M43.6 452.8h0M57.4 450.9h0M48 452.1h0M63 452.4h0M62.7 462.6h0M50.1 446.7h0M34.5 446.1h0M65.5 460.2h0M54.3 452.8h0M68.4 447.8h0M65.6 449h0M45.3 451.4h0M67.7 454.1h0M61.4 456.5h0M61.8 446h0M53.2 459h0M57 462.5h0M51.1 459.5h0M71 455.2h0M40.5 450.9h0M37.4 452.2h0M49.1 453.7h0M59.5 447.1h0M66.5 461.4h0M71.9 454.3h0M35.1 453.4h0M62 445.7h0M63 450.2h0M50.1 449.7h0M65.2 448.1h0M38.9 445.7h0M63.6 461.8h0M56.1 447.8h0M45.3 459.3h0M46.6 448.9h0M36.9 449.8h0M36.5 447.8h0M41.1 453.9h0M41.9 447.3h0M67.2 458.6h0M54.3 459.4h0M38.4 454.1h0M51.3 454.6h0M52.5 459.6h0M65.8 458.7h0M69.2 447h0M62.9 457.4h0M40.7 455.8h0M47 453.6h0M52.1 443.3h0M69.3 454.4h0M50.6 453.8h0M66.3 450.8h0M62.4 452.7h0M68.4 452.8h0M69.4 455h0M58.1 442.2h0M50.4 456.1h0M44.7 449.1h0M60.4 457.7h0M65.4 452.1h0M55 453.7h0M40.5 456h0M51 454.1h0M37.5 451.3h0M53 447.7h0M37 448.6h0M57 458h0M55.4 456h0M42.7 459.7h0M56.8 456.6h0M42.3 448.3h0M37 444.3h0M56.6 450.9h0M39.4 451h0M70.7 456.1h0M64.3 451.8h0M35.3 459.6h0M70.7 454.4h0M49.6 453.7h0M53.3 457.1h0M70.4 454.8h0M47.3 460.9h0M41.3 455.7h0M38.1 462.6h0M36.7 456.5h0M65.9 450.3h0M42.7 459.7h0M55.4 453.3h0M42.1 444h0M55.3 450.4h0M51 450h0M59 457h0M39.3 452.1h0M61.2 454.5h0M36.3 455.7h0" stroke="#000" stroke-opacity="0.4" stroke-width="0.7" stroke-linecap="square" fill="none"/>
<path d="M68.5 448.2h0M70.6 449.5h0M62.9 452.4h0M64.4 453.6h0M65.2 451.9h0M69.4 451.5h0M65.8 458.7h0M64.4 463.6h0M69.8 451.8h0M63.3 443.8h0M68.6 446.4h0M66.1 452.9h0M65.9 448.8h0M70.2 453.3h0M64.3 454.1h0M67.3 447.9h0M69.1 457.5h0M67.8 446.2h0M63.4 451.9h0M63.2 454.2h0M69.8 447.8h0M68.7 444.2h0M63.8 451.3h0M67.1 448.2h0M68.3 455.1h0M66.1 448.8h0M64.2 450.3h0M67.6 452.7h0M59.1 451.3h0M66.1 441.6h0M66.7 457.2h0M66.1 450.7h0M63 454.2h0M64.2 453.7h0M65.5 458.9h0M66.7 448.7h0M69.1 450.2h0M68.7 449.7h0M67.4 448.1h0M64.6 446h0M67.1 453.2h0M65.8 451.3h0M67.1 449.2h0M63.6 449.9h0M69.2 451.5h0M64.2 447.4h0M61.4 447.6h0M69.5 446h0M65.6 459.5h0M65.5 447.7h0M63.1 454.5h0M67.3 450.5h0M66 456.9h0M66.9 447.2h0M68.5 450.5h0M68 448.3h0M64.7 451.1h0M64.4 452.1h0M66.4 446.3h0M60.1 446.5h0M64.4 453.7h0M65.1 445.9h0M60.4 456.3h0M69.1 449.1h0M64.9 448.6h0M64.6 450.8h0M70.5 447.7h0M67.4 449.8h0M66.1 451.8h0M69.6 455.5h0M66.9 446.9h0M61.9 451.4h0M60.8 446h0M66.6 451.1h0M63.9 452.5h0M67 450.7h0M65 457.8h0M69.3 450.3h0M64.5 444.8h0M65.8 452.1h0M67 449h0M69 458.3h0M67.3 448.6h0M70.8 446.4h0M68.5 456.4h0M65.4 447.8h0M65.9 452.7h0M66.2 452.9h0M65.6 450.4h0M71.4 448.7h0M64.1 447.1h0M67.8 451.6h0M65.5 457.7h0M70.3 453h0M65.7 450.9h0M64.8 446.3h0M66 452.9h0M69.8 453.7h0M67.3 452.6h0M61.5 449h0M68.9 448.5h0M68.3 447.9h0M69 450.1h0M63.8 445.6h0M66.7 447.6h0M64.7 461.5h0M65 449.8h0M65.4 452.5h0M67.4 455.7h0M66 453.1h0M70.4 448.6h0M66.8 450.2h0M59.5 448.3h0M68.2 448.3h0M66.9 453.8h0M63.7 453.4h0M63.6 451.2h0M63.2 457.3h0M65.2 453.4h0M64.4 446.7h0M64 446.7h0M72 450.3h0M68.6 448h0M67.3 452.3h0M71.3 441.9h0M68.4 449h0M68.5 450.5h0M68.3 454.8h0M66.6 450.1h0M67.4 451.1h0M63.4 456h0M64.4 450.6h0M69.5 457.8h0M62.7 449.6h0M66 448.7h0M65.4 447.8h0M69.2 454.9h0M66.5 452.9h0M67.2 459.8h0M63 451.6h0M65.9 442.3h0M67.8 452.1h0M63.9 456.5h0M61.9 448.5h0M66.6 454.2h0M67.3 454.3h0M62.6 454.6h0M65.3 450.7h0M63.6 449.8h0M70 452.1h0M70.4 453.4h0M65.2 450.6h0M68.7 449.3h0M62.3 450h0M67.7 450h0M70 454.9h0M68.7 449.4h0M65.8 449.3h0M63.4 452.8h0M68 455.7h0M69.7 452.4h0M71.6 454.3h0M72 451.9h0M68.8 460.2h0M67 449.2h0M67.4 454.2h0M63.3 456.4h0M65.1 449.6h0M62.5 445.8h0M66.8 448.8h0M69.9 454.2h0M64.1 454.4h0M71.7 452.8h0M65.2 450.9h0M64.2 454.4h0M67.3 451.7h0M63.1 449.9h0M64.8 453.5h0M67.4 454.8h0M66.3 450.3h0M67.3 447.6h0M71.8 451h0M70.2 450.4h0M63.7 452h0M62.1 457.3h0M63.8 454.2h0M66.6 452.3h0M69.7 441.4h0M62.5 442.8h0M63.9 447.9h0M67.2 448.2h0M65.3 444h0M64.3 452.3h0M63.2 445h0M62.1 455.9h0M65.1 443.2h0M63.6 451.2h0M66.8 458h0M63.3 456.6h0M63.1 453.4h0M65.8 452.3h0M66.2 446.1h0M67.4 448.1h0M65.1 448.1h0M68.9 448.6h0M69.1 454h0M63.9 453.8h0M66.6 450.2h0M67.8 456.7h0M68.5 454h0M65.8 457.7h0M63.9 447.7h0M69.4 450h0M69.5 450.7h0M64.1 445.2h0M70.1 450.2h0M64.5 448.4h0M64.4 456.4h0M66.6 445.5h0M68.6 448.2h0M63.2 449h0M67.5 459h0M68.8 459.3h0M65 452.2h0M65.2 448.4h0M62.2 457.1h0M63.5 451.3h0M61.7 453.4h0M60.6 451.2h0M66.4 453.9h0M66.7 449.1h0M66 455.1h0M67.5 449.3h0M68.6 453h0M66.2 442.3h0M60.3 455.7h0M65.6 453.5h0M67.1 459.6h0M71.4 449.1h0M68.1 450.2h0M62.4 450.9h0M68.2 448.3h0M66.5 451.4h0M72.4 449.9h0M67.7 451.5h0M70.5 452.3h0M62.9 446.2h0M65.1 447.3h0M65.6 446.7h0M64 458.3h0M62.5 448.1h0M63.3 445.5h0M66.9 451.2h0M65.9 449h0M65.8 447.1h0M68 456.5h0M62.1 449.1h0M68.1 451.5h0M64.7 461.1h0M64.2 446.5h0M65.7 454.6h0M65.1 450.6h0M68.3 451.1h0M62.7 456.7h0M65.3 449.1h0M69.5 451.7h0M64.7 449.3h0M66 449.7h0M64.6 447.1h0M68.2 448.8h0M67.8 446h0M65.7 453.4h0M71.7 453h0M66.1 445.9h0M66.2 449.8h0M64.4 449.6h0M63.7 449.4h0M67.7 454.4h0M63.2 448.3h0M70.4 451.3h0M62.9 455.8h0M64.5 452.2h0M68.2 450.8h0M65.4 449.4h0M67 453.7h0M67.1 446.2h0M63.5 450.8h0M69.1 454h0M66.1 447.3h0M65.8 454.7h0M68.2 452.9h0M67 451.4h0M69.6 450.1h0M67.5 452.3h0M63.5 456.1h0M65.1 455.6h0M62.5 448.4h0M61.1 453.2h0M68.5 455h0M67.3 446.1h0M67 450.3h0M65.8 450h0M67.5 454.4h0M62.5 447.6h0M68.2 441.8h0M67.3 448.9h0M66.9 457.1h0M67.5 449.4h0M64.3 452.4h0M66.8 447.9h0M64.7 454.6h0M65.3 445.4h0M68 448.5h0M66.4 453.8h0M66.8 453.1h0M64.2 446.1h0M66.8 450.2h0M67.8 449.9h0M69.9 449.7h0M71.6 452.9h0M66.1 444.8h0M65.2 449.4h0M63.5 455.4h0M63.7 447.9h0M66.8 450.6h0M65.1 450.3h0M66.5 448.3h0M68.5 452.9h0M64.9 448.8h0M69 446.4h0M69.8 452.2h0M59.2 450.1h0M65.5 458.7h0M64.1 445.3h0M66.5 449.7h0M65.8 444.8h0M67.6 451.2h0M63 452.9h0M70.1 448.4h0M64.6 449.4h0M64.8 453.8h0M68.8 452h0M64.3 445.2h0M67.6 457h0M63.6 447.3h0M66.7 449.7h0M67.8 450.5h0M62.9 454.4h0M68.4 456.9h0M67.4 454.1h0M65.1 449.1h0M65.9 452h0M65.1 456.7h0M68.9 447h0M66.3 452.9h0M66.2 453h0M67.3 447.6h0M68.4 446.8h0M65.5 451.4h0M70.2 451h0M62.1 448.8h0M67.4 452.1h0M63 459.5h0M71.8 451h0M63.2 448.1h0M67.3 455.1h0M67.9 452.6h0M68.8 454.1h0M63 455h0M66.5 454.2h0M65.6 450.5h0M65.1 449.5h0M67.7 451.5h0M63.6 441.8h0M65.6 452h0M63 449.4h0M65.7 457.5h0M64.9 450h0M65.8 452.9h0M65.6 444.5h0M63.4 457.3h0M61.1 452.1h0M63.4 450h0M66.1 450.4h0M65.2 441.4h0M65.4 449.4h0M65.9 449.8h0M64.5 450.6h0M64.1 452.5h0M67.6 450.8h0M65.6 457.9h0M66.4 446.6h0M63.5 453.1h0M64.2 455.5h0M66.9 445.7h0M69.3 452h0M65.6 451.6h0M69.7 456.2h0M66.3 452.7h0M68.7 448h0M64 448.5h0M67.5 454.4h0M64.5 450.1h0M65.9 448.4h0M67.8 452.5h0M68.3 449.3h0M67.8 447h0M65.7 448.3h0M69.1 443.4h0M69.5 451.9h0M66 454.8h0M65.7 450.4h0M66.5 453.2h0M64.8 459.8h0M67.7 444.8h0M68.7 445.2h0M64.9 453.8h0M60.2 452.3h0M64.5 451.5h0M67.1 454.5h0M65.1 457.7h0M65.2 454.1h0M62.6 456.1h0M65.2 448.3h0M65.1 450.1h0M65.5 446.2h0M66.4 457.7h0M64.2 451.5h0M67.4 446.2h0M66 448.3h0M66.1 449.5h0M69.6 458.9h0M62 446.7h0M68.1 449.8h0M64.5 447.7h0M69.7 450.9h0M63.6 448.2h0M69.8 449.3h0M71.6 449.2h0M66.6 454h0M67.9 448.9h0M64.3 456.7h0M65.8 454.6h0M68.5 443.5h0M64.5 451.4h0M66.2 455.5h0M61.8 452.1h0M63.3 447h0M61.8 449.5h0M68.6 448.2h0M65.6 452h0M66.6 450.6h0M65 457.5h0M65.7 453.1h0M64.6 447.9h0M66.2 448.8h0M65.4 456.1h0M65 453.1h0M65.3 450.5h0M70.9 443.7h0M65.3 452.8h0M62 455.4h0M65.9 449.8h0M69.8 455.5h0M68.3 448.2h0M62 452h0M63.6 450.6h0M61.6 444.1h0M67.9 442.6h0M67.1 449.6h0M69.1 452.9h0M60.5 455.6h0M67.3 448.4h0M60 453.3h0M68 441.9h0M60.4 451.1h0M68 455.1h0M65.8 454h0M67.5 448.3h0M65.3 452h0M65.5 456.9h0M67.8 454.7h0M64.5 455.4h0M71.9 449.1h0M65.2 451.7h0M63.9 454.7h0M68.1 449.3h0M64 457.2h0M64.6 456.5h0M67.7 458h0M64.3 447.7h0M63.5 447.1h0M68.9 451.8h0M65.8 450.2h0M62.7 445.6h0M66.5 450.7h0M61.3 459.4h0M64.7 446.1h0M65.2 454.1h0M64.8 451.7h0M69.3 455.5h0M65.5 445.1h0M66.2 450.4h0M68.4 447.5h0M66.3 447.4h0M66.1 451.7h0M67.1 455.8h0M68.6 453.8h0M65.3 453.5h0M65 450h0M63.4 453.3h0M64.9 447.7h0M67.1 447.4h0M65.6 450.5h0M63.5 449.7h0M70.8 451h0M62.4 450.8h0M66.1 448.8h0M70 451.5h0M68.7 456.8h0M67.5 448.4h0M67.6 442h0M65.8 458.4h0M64.6 456.2h0M70.3 455.6h0M66.2 448.7h0M65.6 452.8h0M61.2 453.4h0M64.8 446h0M68.7 452.7h0M70.7 451.2h0M64.1 451.4h0M64.6 453.8h0M66.5 446.5h0M69.9 453h0M65.2 446.4h0M61.8 455.5h0M66.3 456.6h0M69.3 455.4h0M64 451.6h0M64.3 455.1h0M68.8 454.1h0M70.3 452.5h0M65.3 444.9h0M64 454.1h0M67.7 449h0M67.6 448.6h0M64 449.8h0M68.7 447.6h0M71.1 447.3h0M66.6 440.9h0M62.9 451.7h0M66.9 459h0M66.1 446.2h0M63.7 445h0M67.2 448.9h0M68 441.7h0M64.4 443.2h0M62.7 452h0M69.1 443.1h0M67.4 449.3h0M69.1 452.2h0M65.5 448.4h0M65.2 451.1h0M65 455.6h0M63.8 449h0M65.2 451.2h0M64.2 448.5h0M65 456.4h0M64.7 449.2h0M66.5 447.9h0M67.4 453.3h0M63.4 448h0M64.8 453.9h0M68.9 451.1h0M65.8 456.8h0M61.6 454.7h0M64.1 451.7h0M69.5 455.2h0M69.2 451.1h0M67 452.5h0M64.5 452h0M65.9 453.8h0M61.4 457.1h0M66.9 449.6h0M67.2 454.4h0M63 456.8h0M66.3 446.7h0M62.8 453.4h0M65.3 451.6h0M66.3 454.3h0M65.8 447.9h0M69.9 457.4h0M66.2 449.8h0M66.8 457.8h0M64.6 452.3h0M65.5 459.9h0M62.9 448.6h0M65.2 452.3h0M66.3 453.7h0M65.4 444.1h0M62.1 448.8h0M65.9 450.2h0M61.7 456.1h0M65.5 452.7h0M67.4 450.6h0M66.4 456.9h0M68.4 452.1h0M65.9 452.5h0M64.7 454.6h0M65.1 451.6h0M67.1 446.2h0M69.9 455.5h0M66.3 446.1h0M63.1 451h0M63.6 451.9h0M65.3 453.6h0M65.6 448.2h0M67.4 452.4h0M65.9 455.2h0M67.6 450.8h0M67.3 449h0M65.2 450h0M65.8 449.2h0M69 454.1h0M69.1 455.8h0M69.3 450.1h0M65.9 448.6h0M66.9 443.3h0M68.1 451.7h0M68.9 452.4h0M62 444.5h0M63.7 441.5h0M67.7 449.8h0M68.3 444.4h0M61.4 451.4h0M62.4 451.2h0M61.8 451.6h0M63 456h0M62.9 453.1h0M62.9 449.2h0M64.1 455.5h0M65.4 452.5h0M68.6 455.4h0" stroke="#000" stroke-opacity="0.5" stroke-width="0.75" stroke-linecap="square" fill="none"/>
<path d="M43.1 453.6h0M54.1 454.6h0M40 455.9h0M39.1 456.9h0M38.7 453.9h0M46.4 458.1h0M55.5 454.8h0M39.9 447.2h0M42.7 452.1h0M51.6 453.7h0M38.7 461.5h0M43.5 451.6h0M54.7 459.2h0M47.7 443.9h0M34.8 453.2h0M45.9 455h0M44.3 453.1h0M35.3 453.4h0M53.2 452.9h0M39.1 446.2h0M38.6 457.1h0M40.4 450.4h0M46.1 459.7h0M43.1 453.9h0M38.4 454.1h0M43.9 447.4h0M51.6 459.3h0M50.6 452.9h0M52.5 450.2h0M42.4 450.7h0M43.8 454.2h0M44.4 459.9h0M46.8 456h0M48 450.7h0M42.7 454.3h0M47.3 453.5h0M38.9 455.3h0M46.2 454h0M35.7 455.4h0M37 456.9h0M48.4 456.9h0M43.6 461.4h0M45.8 452.3h0M42.6 456.5h0M41.4 457.6h0M47.4 458.8h0M39.6 449.9h0M44.2 455.1h0M38.8 451.8h0M46.1 458.4h0M41.6 450.6h0M48.1 454.2h0M37.3 454.7h0M40.6 455.9h0M48.1 457.5h0M45.9 452.6h0M45.7 453.8h0M37.6 447.9h0M35.4 457.2h0M37.4 446.1h0M40.6 450.5h0M37.8 455.5h0M46.4 450.8h0M43 447.3h0M57.8 452.1h0M47.7 454.7h0M51.8 454.2h0M41.3 456.6h0M43.6 449.7h0M41.1 450.6h0M44.9 457.7h0M39.4 455.9h0M54.5 455.4h0M39 458.1h0M54.4 455.4h0M47.9 461.2h0M50.5 453.2h0M43.2 454.4h0M46 454.4h0M37.5 457.6h0M54.2 451.9h0M42.6 458.1h0M47.5 455.6h0M43.7 456h0M49.2 460.2h0M50.3 456h0M47 453.8h0M46.1 455h0M42.5 454.2h0M43.6 452.4h0M42.8 453.8h0M38 457.7h0M56.8 459.4h0M37 457.9h0M51.9 455.1h0M43 451.7h0M46.5 450.4h0M35.3 455.6h0M45.5 453.8h0M42.5 456h0M49.5 452.9h0M35.1 449.2h0M45.1 451.7h0M46.8 451.7h0M39.3 455.9h0M48.4 457.1h0M37.3 457.9h0M51 449.6h0M38.8 455h0M43.4 455.8h0M47.2 453.4h0M35.9 460.7h0M46.3 452.7h0M45.7 454.2h0M36.4 456.4h0M43.9 451.7h0M40.1 449.8h0M40 457.7h0M43.9 453.3h0M42.3 454.1h0M55.9 455.2h0M43.7 452.7h0M43.2 449.1h0M43 452.9h0M39.9 456.3h0M41.2 461.3h0M43.2 454.8h0M44.1 455.1h0M51.3 449.3h0M41.8 449.5h0M38.5 461.2h0M39.6 449.3h0M36.4 456.8h0M36.9 453.2h0M48.5 448.9h0M43.5 452.6h0M51 456.2h0M47.5 446h0M42.5 459.7h0M54.2 456.6h0M44.9 456.7h0M36.8 449.7h0M47.7 450.3h0M45.7 456.5h0M43.4 448.6h0M38.8 447.7h0M42.3 448.7h0M48 448h0M44.6 455.4h0M47.2 454.5h0M46.2 452.7h0M45.6 455.1h0M42.3 455.1h0M51.8 460.7h0M35.9 452.4h0M39.8 456.4h0M42.6 458h0M43.8 456.4h0M49.4 453.5h0M39.6 460.5h0M39 457.8h0M43.1 451.4h0M45.1 450.2h0M42.7 446.3h0M40 448.4h0M48.8 449.7h0M36.6 453.8h0M37.9 459.9h0M55.2 448.1h0M45.9 447.4h0M49.9 454.3h0M43.5 456.2h0M45.1 452.6h0M36.7 445.6h0M50.7 460.5h0M40.9 450.8h0M35.6 460.2h0M49.7 453.3h0M47.7 454.4h0M42.3 457.3h0M41 452.7h0M48.2 457.3h0M47.9 450.8h0M41.9 456.2h0M50.2 452.7h0M40.8 458.6h0M41.6 448.1h0M46.5 457.5h0M37.4 452.3h0M52.6 457.9h0M45.7 449.1h0M56.5 450h0M47.9 449.3h0M52.2 451.9h0M41.2 453.8h0M35 444.3h0M56.2 456.1h0M47.2 457.8h0M47.7 450.2h0M50.1 450.8h0M56.7 454.6h0M45.3 456.4h0M47.5 457.3h0M39.7 454.9h0M49.6 453.4h0M49.2 457.2h0M40.4 460h0M39.4 451.8h0M37.5 453.2h0M43.2 446.6h0M46.7 451.5h0M46.4 456.8h0M42.3 456.6h0M43.6 452.6h0M47.6 453.7h0M51 448.9h0M49.8 453.3h0M47.5 458.9h0M40 458.4h0M40.1 461.2h0M43.1 459.2h0M44.7 457.9h0M41.2 452.3h0M40.2 450h0M44.6 452.3h0M38 452h0M39.9 453.2h0M38 455.4h0M46.8 454.6h0M44.4 454.5h0M42.4 454.8h0M34.6 450.1h0M42 453.8h0M42.3 455.8h0M36.9 447.4h0M42.9 453.4h0M38.7 458h0M50 452h0M53.6 455.5h0M44.5 447.9h0M42.7 446.8h0M46.8 458.7h0M34.9 452.3h0M42.6 455.8h0M49.2 454.5h0M38.4 452.8h0M49.3 455.9h0M42.1 453.5h0M53.9 455.8h0M40.8 451h0M47.8 454.6h0M43.7 457.1h0M36.2 454.8h0M43.7 449.5h0M41.4 456.9h0M36.4 452.5h0M39.8 459.2h0M55.8 449.1h0M37.5 459.6h0M39.8 454.8h0M38.3 448.6h0M38.9 454.1h0M36.5 456.5h0M38.7 455.8h0M47.3 462.4h0M48.4 456.6h0M41.6 457.4h0M51.4 451.5h0M51.4 455.2h0M43.6 458.5h0M43.3 450.5h0" stroke="#000" stroke-opacity="0.4" stroke-width="0.7" stroke-linecap="square" fill="none"/>
<rect x="34.3" y="464.6" width="24.3" height="26" fill="#000" fill-opacity="0.14"/>
<rect x="62" y="464.6" width="9.5" height="26" fill="#000" fill-opacity="0.14"/>
<defs><radialGradient id="g4"><stop offset="0" stop-color="#000" stop-opacity="0.22"/><stop offset="0.55" stop-color="#000" stop-opacity="0.13"/><stop offset="1" stop-color="#000" stop-opacity="0"/></radialGradient><clipPath id="c4"><rect x="34.3" y="464.6" width="24.20" height="26.00"/></clipPath></defs>
<ellipse cx="38" cy="482" rx="14" ry="13" fill="url(#g4)" clip-path="url(#c4)"/>
<path d="M55.2 476.4h0M44.5 489.4h0M45.8 477.1h0M41.8 484.8h0M46.9 488.9h0M46 475.1h0M52.3 467.5h0M53.4 480.3h0M56.3 483h0M35.5 470.4h0M45.7 483.8h0M37.3 477h0M37.7 470.2h0M47.7 477.5h0M43 472.9h0M47.8 482h0M41.1 470.4h0M43 481.7h0M57.3 474.7h0M45.4 477.4h0M50.3 485.5h0M58.5 483.9h0M48.1 484h0M37.3 475.2h0M47.4 467.8h0M49.7 478.8h0M46.4 470h0M41.5 487.1h0M38.9 483.9h0M48.8 469.9h0M39.9 483h0M46.8 482.7h0M45.1 473.2h0M55.1 472.2h0M43.2 484.8h0M43.9 478.9h0M47.9 474.2h0M47.9 468h0M34.8 485.8h0M55.1 480.3h0M49.8 480.2h0M47.3 466.1h0M45 471.2h0M44.9 477.5h0M46.3 472.7h0M54 474.6h0M47.2 481.8h0M55.9 484.6h0M35 482.1h0M36.5 489.7h0M38.7 478h0M39.1 482.7h0M45.6 472h0M57.4 476.1h0M53 481.3h0M40.8 489h0M36.4 475.2h0M44.1 482.3h0M54.2 477.6h0M55.4 469.5h0M54.8 474.6h0M37.2 468.5h0M46.5 467.4h0M56.6 466.4h0M48.7 469.2h0M54.1 468.5h0M41.4 477.1h0M50.6 488.8h0M36.6 470.3h0M39.8 471.5h0M56.2 473.1h0M52.3 473.9h0M42.5 477.9h0M39.7 486.3h0M39.6 469.9h0M34.7 473.2h0M45 473.5h0M42.7 484.8h0M55.2 490h0M46.2 476.6h0M37.6 489h0M55.2 475.8h0M50 477.8h0M50.8 470.3h0M39.3 473.8h0M41.5 478.4h0M43.8 489.6h0M43.9 482.3h0M47.2 481.6h0M37.6 487.6h0M52.6 469.9h0M43.7 469.4h0M36.9 485.2h0M53.2 473.1h0M38.3 486.4h0M47 486.5h0M36.2 483.4h0M55.6 470.2h0M38.9 470.9h0M37.1 466.1h0M55.1 488.1h0M36.8 465.7h0M37.9 480h0M37 482.3h0M51.3 472.1h0M40.9 481.7h0M49.4 476.2h0M39.8 489.5h0M54.8 482.7h0M55.2 476.3h0M55.8 466.7h0M35.6 480.5h0M49.2 470.5h0M45.7 465.2h0M55.6 468.6h0M57.3 465.9h0M49.4 487.3h0M36.7 484.3h0M39.4 476.3h0M44.9 480.6h0M41.7 474.9h0M44.2 483h0M54 480.6h0M44 474.9h0M46.7 467.8h0M39.5 471.1h0M57.5 475.2h0M54.1 470h0M49.5 480.1h0M51.2 471.5h0M57.7 480.1h0M47.8 482.2h0M49.7 467.9h0M51.3 478.7h0M46.8 468.4h0M38.4 471.4h0M38 486.6h0M40.4 468.6h0M45.9 470.3h0M35.2 478.8h0M57.9 483.2h0M41.7 480.6h0M50.3 471.5h0M37.1 489.8h0M43.6 485.8h0M40.7 478.3h0M34.6 487.6h0M44.5 488.5h0M37.2 487.5h0M45.7 488.9h0M46.5 469.1h0M35.1 471.6h0M40.8 468.5h0M45.3 469.8h0M54.9 471.9h0M39.7 488.2h0M48.6 477.7h0M55.2 487.9h0M52 470.1h0M37.1 477.1h0M47.2 485.5h0M52.2 468.7h0M37.3 475.2h0M41.4 479.2h0M56.7 477.2h0M57.3 477.4h0M47.5 476.9h0M42.6 485.3h0M42.2 469.8h0M45.4 481.7h0M54.4 488.5h0M40.9 487.3h0M37.1 468.8h0M38.7 478.2h0M54.1 469.8h0M42.7 473.3h0M35.4 486.1h0M41 480h0M46.4 474.2h0M40.2 489.3h0M34.8 467.8h0M53.5 488h0M55.3 484.8h0M45.9 485.8h0M40.6 487.4h0M55.7 470.6h0M42.1 481.8h0M36.8 471.4h0M49.4 479.7h0M45.4 465.1h0M48.7 489.8h0M51.9 487.4h0M50.4 469.6h0M44.1 467.1h0M34.9 467.8h0M35.3 486.5h0M56.3 481.5h0M50.8 476.5h0M35.5 481.7h0M39.4 478.1h0M48 468.2h0M49.4 482.5h0M43.8 479.4h0M46.9 484.7h0M55.3 488.7h0M44.2 465.4h0M56.8 481.4h0M40.8 476.2h0M36.2 486.6h0M38.7 481.6h0M39.6 475.9h0M40.1 474.4h0M47.5 467.4h0M37 482.4h0M50.9 488.7h0M47 478.9h0M57.4 482.4h0M51.7 477h0M45.5 484.2h0M40 480.3h0M36.8 487.8h0M42.3 467.5h0M44.7 466.6h0M37.4 481.4h0M34.7 488.8h0M53 475.6h0M37.6 475.9h0M50 473.3h0M54 485.1h0M46.7 468.6h0M39.9 471.8h0M47.4 470.3h0M40.7 465.4h0M47.6 468.8h0M53.5 473.9h0M38.8 466.4h0M34.9 482.9h0M42.9 466.4h0M51 465.7h0M36 487.8h0M35.3 490.1h0M51.7 465.2h0M34.9 472.3h0M51 481.2h0M36.4 465.2h0M47.4 470.5h0M46.7 477.5h0M49.3 488.7h0M36 480.5h0M54.7 484.1h0M37 469.2h0M46.3 475.4h0M40.3 478.2h0M38.8 476.7h0M36.7 467.1h0M39.1 481.8h0M54 472.4h0M35 489.9h0M50.2 468.6h0M51.6 475.5h0M47.3 468.1h0M47.9 480.6h0M36.9 470.7h0M51.4 480.8h0M50.4 489.1h0M43.9 469.8h0M47.7 479.6h0M45 469.1h0M56.7 467.2h0M57.5 484.5h0M35.3 478.1h0M43.6 486.2h0M54.5 478.9h0M44.1 470.9h0M49.3 478.6h0M38.8 471.6h0M41.3 471.1h0M44.1 477.6h0M57.5 466.1h0M48.2 465h0M45.7 466.1h0M37.5 471.2h0M40 473.9h0M42.2 481.7h0M49.6 466h0M44.3 472.7h0M47.7 488.7h0M43.5 480.4h0M48.8 488.3h0M53.8 474.3h0M43.8 488.4h0M40.8 470.4h0M38.3 486.1h0M36.6 487.5h0M47 466.5h0M43.7 467.4h0M57.7 475.3h0M47.3 485.7h0M53.8 467.6h0M50.5 480.8h0M53.9 468.6h0M55.2 472.6h0M38.2 470.4h0M46 465.9h0M51.8 483.6h0M50.2 476.2h0M41.4 467.5h0M43.5 478.9h0M53.7 477h0M39.5 487.3h0M36.9 483.3h0M57.3 484.4h0M50 470.5h0M46.6 467.6h0M50.9 465.4h0M37.3 475.8h0M57.5 468.8h0M57.9 487.8h0M50.1 477.7h0M47 490.2h0M49.3 465.9h0M50.8 478.2h0M41.3 482.6h0M48.7 490.2h0M57.5 469.6h0M48.8 483.4h0M57.3 465.1h0M46.1 484.5h0M41.2 466.8h0M40 484.2h0M51 472.6h0M50.5 471.8h0M42.1 483.1h0M58.1 479.4h0M42.9 479.7h0M53.5 481h0M39.7 468.8h0M39.9 482.8h0M40.5 484.4h0M40.3 467.1h0M35.6 484.9h0M36.8 470.5h0M39.4 486.9h0M39.8 483.1h0M54.5 474.1h0M52.9 488.9h0M45.2 488.4h0M47.6 469.6h0M54 474.7h0M42 479.7h0M40.6 481.9h0M52.6 484.3h0M51.7 473.7h0M34.9 474.4h0M57.8 471.9h0M39 489.5h0M43.7 469.2h0M48.5 471h0M49.5 471.8h0M42.6 484h0M35.9 480.5h0M57.1 489.9h0M35.8 475h0M34.9 470h0M46.2 482.7h0M57.8 466.2h0M37.7 470.3h0M58.5 472.2h0M41 479.9h0M36 484.2h0M50.7 484.1h0M54.8 471.1h0M54.5 476.5h0M55.3 470.8h0M34.8 477.1h0M47.4 472.3h0M39.1 472.1h0M54.2 477.8h0M48.3 484.3h0M51.3 470.7h0M40.7 477.8h0M55.2 490.2h0M46.1 475.1h0M52.8 466.1h0M38.3 489.8h0M42 489.3h0M49.2 472.6h0M36.8 478.7h0M46.9 484.9h0M35 467.5h0M36.7 484.9h0M39.6 475.1h0M37.9 486.5h0M55.3 470h0M37.3 483.9h0M46.7 484.2h0M41.6 472.8h0M42.4 488.8h0M54.7 473.4h0M39.1 471.7h0M35.6 486.1h0M52.4 488.8h0M35.4 476.8h0M37.2 490.3h0M49.4 469.4h0M54.8 479.1h0M44.4 470.9h0M44 487.3h0M47.5 482.4h0M44.6 478.1h0M50.1 471.2h0M48.6 474.5h0M51.5 474.5h0M41.4 466.5h0M47 470.8h0M49.7 482h0M52.5 481.6h0M45.2 479.1h0M38.8 486h0M46.2 471.3h0M39.1 488.8h0M36.5 466.3h0M43.6 468.7h0M41.1 475.1h0M42.3 473.3h0M54.2 471.6h0M48.8 472.3h0M43.4 490.1h0M37.4 471.1h0M58.2 477.1h0M34.8 486.6h0M41.7 474.7h0M35.3 490h0M37.7 479h0M55.6 474.1h0M52.4 487.2h0M57.3 487.8h0M55.3 469.7h0M56.9 468.6h0M50.1 483.3h0M46.8 476.9h0M49.9 484.8h0M41.8 479.8h0M57.8 476.4h0M46 482.5h0M39.3 471h0M51 469h0M44.2 477.1h0M44.4 486.8h0M52.6 479.4h0M34.5 466h0M53.7 466.3h0M36.7 466.9h0M50.9 483.8h0M46.6 475.6h0M37.6 469.1h0M55.3 470.1h0M49.9 472.4h0M55.5 477.5h0M39.1 466.6h0M45.8 483h0M58 487.8h0M37.8 467h0M54.2 468.7h0M43.1 483.9h0M44.1 479.6h0M43.1 472.2h0M42.1 489.2h0M47.4 476.4h0M45.9 487.6h0M41.8 480.1h0M53.4 470.2h0M35.5 483.6h0M53.6 470.4h0M53.4 472.4h0M46.9 482.2h0M41.1 472.8h0M56.9 470.8h0M55.1 480.1h0M42 481h0M37.3 482.6h0M46.3 488.2h0M44.1 474.2h0M55.9 490.2h0M55.2 481.7h0M56.1 481.6h0M56.4 479.7h0M52.1 480.8h0M47.6 480.3h0M34.7 479.9h0M55.6 486.7h0M41.1 470.5h0M57.2 480.1h0M39.8 466.5h0M46 468.8h0M53.1 475.8h0M35.6 476.1h0M52.8 480.2h0M55.6 486.6h0M53 484.7h0M42.1 474.6h0M44.8 490.3h0M43.8 469.3h0M58 486.8h0M56 480.7h0M47 476.5h0M47.7 486.2h0M46.5 479.1h0M55.7 483.6h0M54 479.8h0M46.2 478.6h0M35.5 469.8h0M45.3 468.2h0M54 480.7h0M36.2 489.1h0M47.7 465.2h0M51.2 489.5h0M48.6 480.5h0M42.3 472.3h0M51.9 490.2h0M45.8 471.9h0M52.1 472.1h0M49.1 470.7h0M36.7 483.6h0M50.3 483.9h0M44.1 478.2h0M38 484.3h0M56.5 481.5h0M46.7 465.3h0M54.6 474.1h0M39.2 476.6h0M48.8 484.7h0M53.1 471.4h0M36.7 484.9h0M49.1 469.3h0M48 477.2h0M53.2 488h0M38.9 487.4h0M35.1 475.9h0M39.3 485.3h0M54.6 483.6h0M57.4 471.8h0M47.4 480.1h0M53.6 468.2h0M51.9 471.6h0M39.1 474.2h0M38.3 475h0M49.4 478.8h0M42 487.4h0M57.1 487.1h0M39.7 479.4h0M54.8 484.6h0M39.1 466.1h0M41.4 465.9h0M48.3 486.6h0M57.8 485h0M36.1 484h0M35.6 482.6h0M55.8 473.3h0M48.8 483.6h0M56.6 467.9h0M47.8 481.3h0M52.2 472.1h0M45.4 466.8h0M34.9 484.4h0M42.3 476.5h0M47.5 473.4h0M51.1 468.9h0M47.9 478.5h0M42.5 479.7h0M45.3 465.7h0M41.3 480.5h0M52.3 489.7h0M53.8 478.3h0M49.1 475.5h0M44.3 483.7h0M37.8 478.3h0M35.5 486.4h0M38.8 486.9h0M55.9 477.4h0M52.6 466h0M43 488.1h0M54.4 476.6h0M51.8 490.3h0M38.7 486.8h0M47.8 475.2h0M52.6 471h0M50.5 467.1h0M37.7 484.5h0M48.7 465.7h0M46 470.5h0M53.6 466.9h0M46.6 484.2h0M43.9 471.3h0M47.5 470.6h0M35.9 472.2h0M46.5 488h0M36.4 481.8h0M38 483.2h0M56.3 482.3h0M44.2 480.5h0M48.9 471.6h0M38.5 484.2h0M37.9 479h0M46.5 473.3h0M51.2 476.4h0M38.4 478.6h0M37.1 473.5h0M42.1 486.8h0M45.3 487.7h0M55.7 477.6h0M37.1 479.7h0M44.9 465.1h0M41.3 473.1h0M47.4 488.2h0M35.7 488.6h0M54.9 485h0M40.5 483.1h0M48.1 482.9h0M49.1 478.3h0M42.6 465.1h0M53.7 473.7h0M40.8 484.8h0M41.1 477.3h0M36 483.7h0M51.9 467.4h0M36.6 468.5h0M49.5 486.5h0M46.2 482.9h0M56.9 476.4h0M47.3 475h0M53.2 478.2h0M57.1 473.6h0M42 490.1h0M35.1 466.8h0M45.3 469.5h0M51.8 485.1h0M54.4 470.1h0M51.4 488.6h0M55.6 484.4h0M51.9 486.4h0M38.6 467.8h0M35.9 477.3h0M39.9 482.8h0M49.1 470.2h0M42 486.2h0M49.3 478.9h0M57.9 480.8h0M52 480.6h0M53 465.6h0M47.1 478.9h0M53.4 485.5h0M42.7 486.9h0M55.7 465h0M39.2 485.2h0M41.3 475.2h0M37.7 487.2h0M53.6 470h0M53.3 490.1h0M35.8 475.3h0M48.2 480.8h0M39.2 469.3h0M56.7 485.6h0M50.9 482.4h0M41 480.9h0M57.2 484.9h0M38.6 468.8h0M42.9 480.1h0M58.2 475.7h0M43.4 480.5h0M46.1 465.2h0M42.7 488.4h0M47.7 475.4h0M39.6 472.7h0M37.2 475.8h0M49.3 479.3h0M41.6 486.9h0M53.8 466.2h0M47.5 469.8h0M43.6 487.3h0M37.7 472.7h0M45.3 485.9h0M45.7 486.5h0M43 467.1h0M36.5 465.4h0M57.4 475.8h0M54.2 483h0M42.9 480.1h0M54.2 489.4h0M39.2 489.5h0M56.1 468.7h0M57.7 469.4h0M44.7 488.1h0M53.9 466.9h0M50.9 469.2h0M45.6 481h0M35.6 487.2h0M48.1 470.3h0M58.1 485.3h0M42.1 470.8h0M58.4 483.5h0M49.8 477.6h0M44.1 485.9h0M38 472.6h0M36.7 484.2h0M40.1 478.2h0M39.7 474.4h0M58.3 471.6h0M49.3 487.4h0M54.3 480h0M41.1 467.9h0M50.6 468.8h0M49.7 478.2h0M58.4 489.6h0M49 484.8h0M50.4 484.8h0M53 482.4h0M37.3 489.5h0M36.7 465.1h0M38.7 473.1h0M56.1 482.3h0M58 478.2h0M37.4 482.3h0M34.6 487.2h0M52.1 489.9h0M52.6 483.7h0M37.8 472.4h0M38.8 487.8h0M54.8 465.9h0M46.8 481.4h0M44.3 488.3h0M39.4 465.7h0M46.5 490h0M54.3 467.5h0M52.5 483.2h0M58.2 473.3h0M55.3 472h0M51.9 473.4h0M47.3 476.8h0M44.1 482.2h0M45.5 484.3h0M50.1 477.3h0M54.8 481.9h0M44.8 470.8h0M56.4 486.4h0M57.8 482.9h0M45.7 478.7h0M52.7 475.6h0M51.6 471h0M47.2 475.3h0" stroke="#000" stroke-opacity="0.38" stroke-width="0.7" stroke-linecap="square" fill="none"/>
<path d="M59 476.9h0M60.2 488h0M59.7 481.1h0M58.8 474.2h0M61.6 484.9h0M61.4 468.2h0M61.8 467.7h0M60.9 468.2h0M59.2 486.7h0M59.6 478.7h0M60.1 482.6h0M61.6 471.2h0M60.2 477.1h0M58.9 480.6h0M61.8 486.1h0M61.7 466.9h0M61.3 485h0M60.7 488.2h0M60.8 485.6h0M59.2 482.6h0M59.2 474.4h0M59.4 474h0M61.2 466.1h0M61.5 487.8h0M59.5 469.9h0M59 470h0M60.9 471h0M61.9 487.3h0M61.4 468.4h0M61.9 471.3h0M60.3 477.9h0M60.4 470.6h0M60.1 486.6h0M59.7 465.1h0M59.3 477.5h0M60.2 488.9h0M59.2 477.5h0M60 484h0M61.1 466.3h0M61.5 490h0M59.3 487h0M59.2 466.7h0M59.5 474.6h0M59.3 481.8h0M59.6 478.8h0M61.5 475.6h0M62 472.5h0M59.9 471.9h0M58.8 472h0M60.6 482.3h0M61.3 488.6h0M61.4 482.9h0M59.8 475.5h0M61.4 466.2h0M61.8 481.5h0M59.4 472.5h0M60.8 474.8h0M60 483.7h0M60.3 475.4h0M61.6 472.7h0M60.1 489.7h0M61 480.6h0M60.6 465.1h0M61.9 475.8h0M60 466.6h0M60.7 482.3h0M60.5 468.8h0M59.2 484.2h0M60.8 485.2h0M61 467.2h0M59.7 489.9h0M60 468.6h0M58.7 489.6h0M59.3 472h0M59.5 475.4h0M58.9 487.9h0M59.2 480.2h0M58.7 476.4h0M58.7 478.3h0M59.8 467.3h0M61.6 486.8h0M59.4 473.4h0M61 482.4h0M62 468.8h0M59.5 478.3h0M58.6 474h0M58.8 481.8h0M59.4 468.2h0M60.6 480.5h0M60.6 477.6h0M58.5 466.6h0M58.8 487.1h0M62 474.1h0M58.7 481.6h0M58.6 465.3h0M60.4 481.6h0M59.8 488.6h0M59.5 480.8h0M60 477.4h0M61.6 467h0M60.9 465.2h0M60.2 473.2h0M60.5 469.4h0M58.8 467.3h0M61.9 471.3h0M59.5 487.5h0M60.1 469.6h0M60.5 479.3h0M59.1 467.8h0M60 468.1h0M58.6 482.2h0M61.6 468.7h0M59.1 488h0M60.5 487h0M59.8 490.3h0M58.9 472.4h0M60.6 472.4h0M60.2 471.7h0M58.9 470.5h0M59.6 469.5h0" stroke="#000" stroke-opacity="0.35" stroke-width="0.7" stroke-linecap="square" fill="none"/>
<path d="M35.4 476.3h0M36 481.1h0M35.5 482.1h0M42.1 475.8h0M39.7 473.4h0M45.8 480.1h0M49.7 469.3h0M37.3 489.8h0M42.1 488h0M50.2 476.2h0M39.4 468.2h0M50.2 481.7h0M40.5 477.1h0M39.2 480.1h0M39.6 480.6h0M41.5 484.4h0M38.2 470.4h0M39.8 486.4h0M42.5 471.7h0M38.9 490.4h0M41.2 485.3h0M39.2 484.3h0M43.2 487.9h0M43.3 479.5h0M41.4 478.5h0M46.3 489.8h0M37.9 477.6h0M43.1 469.9h0M42.6 487.2h0M41.7 481.4h0M45.4 469.7h0M36.4 482.9h0M44.8 470.3h0M43.4 483.2h0M37.1 484.9h0M37.8 467.8h0M36.3 479.3h0M51.2 476.8h0M40 483.4h0M42.2 475.2h0M39.3 483.1h0M36.1 482.7h0M46.8 475.4h0M49.2 484.4h0M39.5 471h0M41.2 480.2h0M41.5 476.8h0M37 489h0M47.1 477.1h0M39.6 480.5h0M44.1 479.9h0M39.5 475.4h0M35.9 468.8h0M51.5 480.7h0M35.1 475.7h0M45.9 475.7h0M41.8 475.4h0M47.7 465.4h0M41.6 474.6h0M42.8 472.1h0M41.2 483.5h0M38 472.5h0M40.9 484.7h0M36.3 470.2h0M44.3 473.2h0M35.8 484.3h0M41.5 479.4h0M50.4 470.3h0M38 478.4h0M39.4 474.2h0M34.8 485.1h0M38.5 471.6h0M44.2 468h0M41.9 474.1h0M38.1 484.8h0M46.7 477.2h0M39.9 480.4h0M44.8 468.5h0M42.5 475.8h0M36.4 479.7h0M51 484.8h0M42.9 483.3h0M42.1 487.1h0M44.6 476.4h0M37.5 477.6h0M40.7 479.9h0M37.3 477.1h0M37.6 475.1h0M45.7 484.6h0M42.3 477.6h0M40.2 471.9h0M37.4 465.8h0M46.1 487.3h0M43.2 482h0M39.8 476.2h0M48.4 479h0M37.7 480.7h0M34.6 487.2h0M38.3 480.6h0M40.7 479.1h0M35.9 472.3h0M43.9 485.6h0M42.6 480.5h0M40.5 467.3h0M42.3 479.1h0M43.9 486.1h0M37 487.5h0M38.9 477.9h0M40.7 476.4h0M36.6 482.4h0M43 480.7h0M46.4 468.4h0M43.9 481h0M38.8 473.6h0M37.1 483.8h0M38.4 480.2h0M53.4 472.4h0M40.9 482.7h0M40.4 478.1h0M35.9 473.4h0M45.6 477.6h0M35.7 485.1h0M45 478h0M41.3 470.3h0M38.5 488.6h0M42.7 474.4h0M41.3 482.1h0M41.3 466.7h0M42 469.9h0M45.1 488.3h0M36.7 473h0M38.1 479.1h0M41.4 476.8h0M39.5 471h0M45.8 472h0M39.5 471.3h0M37.5 480.6h0M40.1 483.5h0M46.9 478.9h0M34.7 478.6h0M41.7 482.6h0M41.8 476h0M40.3 484.7h0M37.9 476.2h0M40.6 473.9h0M46.7 471.1h0M37.2 480.9h0M37 482.6h0M40.2 480.4h0M36.6 486.4h0M35.8 483h0M43.8 483.4h0M44.5 475.3h0M34.6 468.4h0M37.3 482.9h0M43.2 480.2h0M45 478.9h0M38 485.5h0M38.5 481.8h0M41.9 484.2h0M49.3 480.4h0M47.2 476.7h0M44.5 479.3h0M48.3 479h0M42.1 481.1h0M40.4 476.4h0M40.2 469.4h0M46.2 487h0M36.1 477.3h0M44.5 474.9h0M43.1 476.6h0M43.3 472.7h0M42.7 471.3h0M40.7 479.9h0M48.5 476.7h0M47.4 480.9h0M48.7 471.3h0M36.4 478.8h0M46 477.5h0M49.8 486.2h0M45.3 475.8h0M43.3 474.2h0M53.3 482.6h0M43.7 475.6h0M37.8 478.6h0M38.6 484.1h0M53.5 474.9h0M43 481.2h0M42.8 477.2h0M41.8 480.8h0M39 482.5h0M36.8 482.4h0M36.5 487.5h0M35.4 465.8h0M43.5 484.7h0M47.7 470.4h0M40.1 484.2h0M35.9 480.6h0M42.5 483.5h0M48.8 473.3h0M34.7 488.4h0M41.3 483.3h0M44.3 477.7h0M44.6 478.9h0M38.3 465.5h0M43.3 486.2h0M40.8 485.7h0M40.1 481.2h0M42.3 473.5h0M40 476.6h0M37.2 480.6h0M41.9 483.6h0M40.4 484.1h0M44.7 477.5h0M38.4 479.8h0M49.8 470h0M44.1 477.5h0M42.3 474.1h0M38.6 483.9h0M34.8 472.8h0M40.1 479.8h0M36.4 488.4h0M37.5 477.2h0M48.6 471h0M45.1 474.2h0M36 478h0M40.6 469.5h0M43 484.5h0M35.3 485.3h0M42.3 476.2h0M42.9 486.3h0M39.9 476.2h0M46.8 484.7h0M38.2 485.2h0M43.9 487.3h0M46.6 479.5h0M45.2 474.8h0M40.4 477.3h0M39 488.8h0M47.5 481.1h0M44.4 471.8h0M43.9 475.8h0M35.7 478h0M45.4 478.4h0M42.8 476.7h0" stroke="#000" stroke-opacity="0.4" stroke-width="0.7" stroke-linecap="square" fill="none"/>
<path d="M63.1 475.2h0M62.9 479.2h0M70.1 483.6h0M69.3 467.6h0M65.2 474.5h0M68.5 480.2h0M63.9 482.9h0M71.3 472.9h0M68.5 477.9h0M66.8 488.1h0M64.6 479.8h0M67.3 475.8h0M64.8 475.1h0M68.5 484.4h0M67 478.4h0M69 469.5h0M69 487.9h0M66.7 478.1h0M65.3 475.9h0M67.3 473.4h0M67.4 480.4h0M62.7 468.4h0M66.4 477.4h0M62.1 475.5h0M67.9 484.9h0M63.9 474.2h0M67.8 472.6h0M69.3 487.1h0M66.5 468.1h0M65 488.2h0M67.4 470.8h0M67 488.7h0M64.6 471.9h0M64.5 487h0M66.5 466.9h0M68.4 483.4h0M67.3 480.8h0M63.8 475.6h0M67.2 476.5h0M71.6 467.1h0M69.3 476.4h0M62.2 477.2h0M66.9 486.6h0M66.1 479.5h0M68.7 488.5h0M64.6 467.4h0M71.3 473.5h0M64.4 485.5h0M68.2 480.1h0M63.3 482.2h0M62 486.1h0M64.7 469.8h0M65.7 478h0M67.4 466.5h0M66.6 475.4h0M68.1 479.2h0M62.7 475.7h0M65.5 474.8h0M62.9 466.6h0M63.4 475.5h0M68.3 480.5h0M71.4 482.1h0M63.8 475.4h0M66.5 472.7h0M68.3 465.4h0M69.7 470.8h0M63.1 484.7h0M72.2 466.3h0M65.1 472.1h0M66.2 480.2h0M65.4 471.1h0M63.2 471.7h0M65.7 467.6h0M65.2 486.7h0M65 481.5h0M69.9 472.4h0M71.2 482.8h0M63.6 488.2h0M62.2 472.8h0M65.8 471.6h0M62.3 487.7h0M65.4 472h0M64 468.9h0M63.1 481.5h0M69.4 483.2h0M63.6 473.3h0M68.6 474.1h0M69.3 469.2h0M67.3 481.5h0M61.9 483h0M64.8 478.3h0M66.5 476.7h0M67.4 468.1h0M66.2 479.1h0M68 475.9h0M69.7 477.6h0M68.4 480.4h0M66.6 482.1h0M69.9 490h0M68.9 483.1h0M66 479.4h0M66.9 477.3h0M67.3 477.5h0M63.2 478.4h0M64.9 477.6h0M69.6 473.9h0M68.6 480.4h0M64.7 465.8h0M68.7 476.9h0M68.1 482.9h0M67.5 477.7h0M66.7 490.2h0M70 468.6h0M67.6 472.1h0M65.2 486.8h0M69.2 480.1h0M62.9 484h0M67.4 488.5h0M66.4 478.3h0M69.2 485.5h0M69.6 474.4h0M67.5 488h0M62.7 466.2h0M68.3 481.5h0M62.8 476.3h0M62.7 481.2h0M71 484h0M64.1 472.3h0M67.3 480.8h0M64.6 470.8h0M64.1 468.4h0M69.7 474.7h0M65.7 478.6h0M65.5 474.4h0M67.5 474.6h0M64.3 473h0M65.9 473h0M65.7 474.8h0M66.2 471.6h0M68.2 472.5h0M65 470.9h0M65 468.4h0M64.4 472.8h0M66.8 485.7h0M66.6 469.3h0M67.1 486.6h0M68.9 473.7h0M68.9 472.3h0M68.2 476.4h0M63 474.2h0M66.1 480.5h0M65.4 486.2h0M64.8 482.6h0M63.6 473.4h0M66.5 479.8h0M63.7 465.7h0M68.7 474h0M67.2 469.4h0M65.7 482.8h0M66.5 470h0M65.7 467.7h0M64 482.8h0M65.2 483.4h0M62.9 472.6h0M69.8 475.4h0M62 472.4h0M64.7 475.2h0M67.3 471.5h0M64.5 477h0M69.6 478.1h0M67.8 474h0M67 485.6h0M64.5 475.2h0M65.9 484.2h0M68.1 473.7h0M67.8 481.7h0M70.5 478.7h0M67.4 490.3h0M66.3 472.5h0M63.7 480.9h0M67.6 482.1h0M62.3 476.1h0M68.9 484h0M68.8 477.9h0M68.9 478.9h0M69 475.7h0M65.3 478.1h0M66.4 468.1h0M66.3 468.7h0M65.7 468.5h0M66.1 467.3h0M68.9 475.6h0M66.2 475.4h0M68.1 469.6h0M64.4 471.5h0M68 486.6h0M66.7 480.8h0M69.9 475.6h0M66.1 474.3h0M65.2 480.7h0M66.7 471h0M62.9 473h0M66 476.5h0M68 466.4h0M67.2 469.5h0M65.4 484.6h0M63.8 485.2h0M68.6 482.2h0M65.2 477.2h0M63.9 486.3h0M69.7 473.8h0M70.4 476.5h0M65 473h0M66.6 472h0M67.8 466.9h0M66.7 482.5h0M66 465.9h0M67.9 483h0M68.2 485.2h0M66.9 465.1h0M67.3 479.9h0M69.4 475.6h0M65.2 473.7h0M64.4 471.9h0M63.7 487.6h0M65.8 475.2h0M66.6 468.4h0M66.2 486.6h0M66.9 488.5h0M71 472.4h0M67.4 478h0M64 476.4h0M66.7 469.4h0M65.4 488.8h0M65.4 481.9h0M63.6 482.9h0M64.3 468.5h0M70.3 474h0M67.3 467.7h0M67.6 485.3h0M65 478.8h0M70.1 475.6h0M63.6 476.6h0M64.1 479.4h0M67.4 478.5h0M66.9 479.7h0M69.7 475.8h0M66.6 473.4h0M67.1 476.7h0M64.3 470h0M67.3 472.2h0M68.4 479.8h0M64.8 481.7h0M69.3 472.6h0M68.1 489.9h0M66 476.5h0M69.4 483.1h0M66.2 478.6h0M68 480.3h0M66.5 479.3h0M63.7 485.2h0M67.3 478.1h0M62.2 482h0M66.2 474.6h0M68.3 471.8h0M64.9 469.7h0M65.4 489h0M66.4 482.2h0M65.5 472.1h0M65.3 473.8h0M66.6 468.1h0M66.7 478.9h0M71.5 473.3h0M70.2 466.5h0M69.9 476.7h0M66.9 475.3h0M65.6 477.9h0M67.3 488.4h0M66.4 465.4h0M63.9 480.2h0M71.9 485h0M62 478.5h0M68.8 482.4h0M61.9 468.7h0M64.7 475.9h0M63.6 478h0M68.3 476.9h0M67 477.6h0M70 468.7h0M68.3 483.8h0M67.9 477.5h0M68.2 468.5h0M67.7 478.5h0M64 469.5h0M62.3 485.3h0M65.6 485.4h0M67.8 471.3h0M65.5 478.6h0M68.5 482.6h0M63.8 477.2h0M65.9 469.2h0M66.1 476.3h0M65.3 469.4h0M64.4 471.9h0M68.9 471.4h0M64.1 477.8h0M66.8 487h0M66.9 486.1h0M68.5 490h0M69.9 477.6h0M65.6 466.1h0M66.3 473.7h0M69.3 469.1h0M63.3 485.4h0M63.4 481.4h0M65.6 485.9h0M63.8 471.1h0M67.8 485.4h0M66.2 478.7h0M69.5 479h0M63 482.9h0M62.9 471.6h0M68.6 484.2h0M67.3 475.8h0M67.9 470.2h0M66.2 478.1h0" stroke="#000" stroke-opacity="0.4" stroke-width="0.7" stroke-linecap="square" fill="none"/>
<rect x="34.4" y="422.6" width="70.80" height="68.80" fill="none" stroke="#a0a0a0" stroke-width="1.0"/>
<line x1="59.40" y1="422.60" x2="59.40" y2="491.40" stroke="#6e6e6e" stroke-width="0.9" stroke-linecap="butt"/>
<line x1="34.40" y1="464.30" x2="105.20" y2="464.30" stroke="#6e6e6e" stroke-width="0.9" stroke-linecap="butt"/>
<path d="M31.60 491.40H34.40M32.72 486.22H34.40M32.72 483.19H34.40M32.72 481.04H34.40M32.72 479.38H34.40M32.72 478.02H34.40M32.72 476.86H34.40M32.72 475.87H34.40M32.72 474.99H34.40M31.60 474.20H34.40M32.72 469.02H34.40M32.72 465.99H34.40M32.72 463.84H34.40M32.72 462.18H34.40M32.72 460.82H34.40M32.72 459.66H34.40M32.72 458.67H34.40M32.72 457.79H34.40M31.60 457.00H34.40M32.72 451.82H34.40M32.72 448.79H34.40M32.72 446.64H34.40M32.72 444.98H34.40M32.72 443.62H34.40M32.72 442.46H34.40M32.72 441.47H34.40M32.72 440.59H34.40M31.60 439.80H34.40M32.72 434.62H34.40M32.72 431.59H34.40M32.72 429.44H34.40M32.72 427.78H34.40M32.72 426.42H34.40M32.72 425.26H34.40M32.72 424.27H34.40M32.72 423.39H34.40" stroke="#555" stroke-width="0.8" fill="none"/>
<path d="M34.40 491.40V494.00M39.73 491.40V492.96M42.85 491.40V492.96M45.06 491.40V492.96M46.77 491.40V492.96M48.17 491.40V492.96M49.36 491.40V492.96M50.38 491.40V492.96M51.29 491.40V492.96M52.10 491.40V494.00M57.43 491.40V492.96M60.55 491.40V492.96M62.76 491.40V492.96M64.47 491.40V492.96M65.87 491.40V492.96M67.06 491.40V492.96M68.08 491.40V492.96M68.99 491.40V492.96M69.80 491.40V494.00M75.13 491.40V492.96M78.25 491.40V492.96M80.46 491.40V492.96M82.17 491.40V492.96M83.57 491.40V492.96M84.76 491.40V492.96M85.78 491.40V492.96M86.69 491.40V492.96M87.50 491.40V494.00M92.83 491.40V492.96M95.95 491.40V492.96M98.16 491.40V492.96M99.87 491.40V492.96M101.27 491.40V492.96M102.46 491.40V492.96M103.48 491.40V492.96M104.39 491.40V492.96" stroke="#777" stroke-width="0.8" fill="none"/>
<text transform="translate(61.80,432.00) scale(0.86,1)" font-size="10.8" text-anchor="start" font-weight="bold">T</text>
<text x="66.50" y="434.50" font-size="8.0" text-anchor="start" font-weight="bold">EM</text>
<line x1="24.30" y1="390.00" x2="24.30" y2="498.90" stroke="#000" stroke-width="1.5" stroke-linecap="butt"/>
<line x1="23.55" y1="498.90" x2="115.00" y2="498.90" stroke="#000" stroke-width="1.5" stroke-linecap="butt"/>
<polygon points="24.30,383.80 21.10,390.80 27.50,390.80"/>
<polygon points="120.90,498.90 113.90,495.70 113.90,502.10"/>
<text transform="translate(27.20,363.00) rotate(-90)" font-size="10.3" text-anchor="middle" font-weight="bold">CD28</text>
<text x="125.00" y="503.10" font-size="10.2" text-anchor="start" font-weight="bold" fill="#000" >CD27</text>
<rect x="107" y="350.8" width="45.8" height="45" fill="none" stroke="#aaaaaa" stroke-width="1.1"/>
<line x1="123.90" y1="350.80" x2="123.90" y2="395.80" stroke="#aaaaaa" stroke-width="1.0" stroke-linecap="butt"/>
<line x1="107.00" y1="378.10" x2="152.80" y2="378.10" stroke="#aaaaaa" stroke-width="1.0" stroke-linecap="butt"/>
<text x="114.90" y="361.50" font-size="6.5" text-anchor="middle" font-weight="bold" fill="#222" >pE2</text>
<text x="135.80" y="361.50" font-size="6.5" text-anchor="middle" font-weight="bold" fill="#222" >pE1</text>
<text x="114.30" y="388.80" font-size="6.6" text-anchor="middle" font-weight="bold" fill="#222" >E</text>
<rect x="107.3" y="422.2" width="46.9" height="46.4" fill="none" stroke="#aaaaaa" stroke-width="1.1"/>
<line x1="124.40" y1="422.20" x2="124.40" y2="468.60" stroke="#aaaaaa" stroke-width="1.0" stroke-linecap="butt"/>
<line x1="107.30" y1="450.80" x2="154.20" y2="450.80" stroke="#aaaaaa" stroke-width="1.0" stroke-linecap="butt"/>
<text x="115.90" y="433.00" font-size="6.7" text-anchor="middle" font-weight="bold" fill="#111" >EM4</text>
<text x="137.60" y="433.00" font-size="6.7" text-anchor="middle" font-weight="bold" fill="#111" >EM1</text>
<text x="115.90" y="459.90" font-size="6.7" text-anchor="middle" font-weight="bold" fill="#111" >EM3</text>
<text x="137.60" y="459.90" font-size="6.7" text-anchor="middle" font-weight="bold" fill="#111" >EM2</text>
</svg></body></html>
